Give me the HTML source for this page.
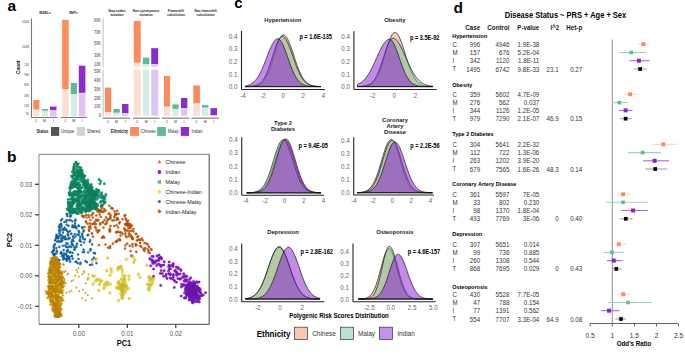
<!DOCTYPE html>
<html><head><meta charset="utf-8"><style>
html,body{margin:0;padding:0;background:#fff;width:685px;height:359px;overflow:hidden}
svg{display:block}
text{font-family:"Liberation Sans", sans-serif}
</style></head><body>
<svg width="685" height="359" viewBox="0 0 685 359" font-family='"Liberation Sans", sans-serif'><text x="7.50" y="10.78" font-size="15.5" font-weight="bold" text-anchor="start" fill="#000">a</text>
<line x1="31.50" y1="18.40" x2="31.50" y2="117.50" stroke="#777" stroke-width="1.1"/>
<line x1="31.20" y1="117.50" x2="57.50" y2="117.50" stroke="#7a7a7a" stroke-width="1"/>
<line x1="60.70" y1="117.50" x2="86.80" y2="117.50" stroke="#7a7a7a" stroke-width="1"/>
<text transform="translate(45.00 14.14) scale(0.8850 1)" font-size="3.73" font-weight="bold" text-anchor="middle" fill="#222">INDELs</text>
<text transform="translate(73.20 14.14) scale(0.8850 1)" font-size="3.73" font-weight="bold" text-anchor="middle" fill="#222">SNPs</text>
<text transform="translate(29.20 23.36) scale(0.8850 1)" font-size="3.50" font-weight="normal" text-anchor="end" fill="#333">120K</text>
<text transform="translate(29.20 48.26) scale(0.8850 1)" font-size="3.50" font-weight="normal" text-anchor="end" fill="#333">100K</text>
<text transform="translate(28.90 65.66) scale(0.8850 1)" font-size="2.94" font-weight="normal" text-anchor="end" fill="#333">12K</text>
<text transform="translate(28.90 75.96) scale(0.8850 1)" font-size="2.94" font-weight="normal" text-anchor="end" fill="#333">90K</text>
<text transform="translate(28.90 86.36) scale(0.8850 1)" font-size="2.94" font-weight="normal" text-anchor="end" fill="#333">60K</text>
<text transform="translate(28.90 96.66) scale(0.8850 1)" font-size="2.94" font-weight="normal" text-anchor="end" fill="#333">30K</text>
<text transform="translate(28.90 107.06) scale(0.8850 1)" font-size="2.94" font-weight="normal" text-anchor="end" fill="#333">10K</text>
<text transform="translate(28.90 114.76) scale(0.8850 1)" font-size="2.94" font-weight="normal" text-anchor="end" fill="#333">5K</text>
<text transform="translate(18.50 69.73) scale(0.8850 1)" font-size="5.65" font-weight="normal" text-anchor="start" fill="#000"></text>
<text x="0" y="0" font-size="4.7" font-weight="bold" text-anchor="middle" transform="translate(20.2 67.2) rotate(-90)">Count</text>
<rect x="33.30" y="100.00" width="6.10" height="9.70" fill="#FC8A5B"/>
<rect x="33.30" y="109.70" width="6.10" height="6.80" fill="#FEDDD3"/>
<rect x="41.80" y="109.00" width="6.20" height="1.80" fill="#5DBB98"/>
<rect x="41.80" y="110.80" width="6.20" height="5.70" fill="#D5EDE4"/>
<rect x="50.00" y="106.60" width="6.50" height="3.40" fill="#8A2BD0"/>
<rect x="50.00" y="110.00" width="6.50" height="6.50" fill="#DFC4F2"/>
<rect x="62.20" y="19.80" width="6.50" height="69.30" fill="#FC8A5B"/>
<rect x="62.20" y="89.10" width="6.50" height="27.40" fill="#FEDDD3"/>
<rect x="70.70" y="82.90" width="6.30" height="11.10" fill="#5DBB98"/>
<rect x="70.70" y="94.00" width="6.30" height="22.50" fill="#D5EDE4"/>
<rect x="78.80" y="65.70" width="6.60" height="27.20" fill="#8A2BD0"/>
<rect x="78.80" y="92.90" width="6.60" height="23.60" fill="#DFC4F2"/>
<text transform="translate(35.90 122.32) scale(0.8850 1)" font-size="3.95" font-weight="normal" text-anchor="middle" fill="#333">C</text>
<text transform="translate(44.40 122.32) scale(0.8850 1)" font-size="3.95" font-weight="normal" text-anchor="middle" fill="#333">M</text>
<text transform="translate(53.50 122.32) scale(0.8850 1)" font-size="3.95" font-weight="normal" text-anchor="middle" fill="#333">I</text>
<text transform="translate(65.50 122.32) scale(0.8850 1)" font-size="3.95" font-weight="normal" text-anchor="middle" fill="#333">C</text>
<text transform="translate(73.80 122.32) scale(0.8850 1)" font-size="3.95" font-weight="normal" text-anchor="middle" fill="#333">M</text>
<text transform="translate(82.10 122.32) scale(0.8850 1)" font-size="3.95" font-weight="normal" text-anchor="middle" fill="#333">I</text>
<line x1="103.10" y1="18.20" x2="103.10" y2="66.90" stroke="#cccccc" stroke-width="1.3"/>
<line x1="103.10" y1="69.50" x2="103.10" y2="116.50" stroke="#cccccc" stroke-width="1.3"/>
<line x1="102.60" y1="118.20" x2="129.90" y2="118.20" stroke="#808080" stroke-width="1.2"/>
<line x1="133.00" y1="118.20" x2="159.60" y2="118.20" stroke="#808080" stroke-width="1.2"/>
<line x1="162.00" y1="118.20" x2="189.10" y2="118.20" stroke="#808080" stroke-width="1.2"/>
<line x1="191.50" y1="118.20" x2="218.80" y2="118.20" stroke="#808080" stroke-width="1.2"/>
<text transform="translate(101.00 22.13) scale(0.8850 1)" font-size="4.52" font-weight="normal" text-anchor="end" fill="#444">90K</text>
<text transform="translate(101.00 34.23) scale(0.8850 1)" font-size="4.52" font-weight="normal" text-anchor="end" fill="#444">70K</text>
<text transform="translate(101.00 45.43) scale(0.8850 1)" font-size="4.52" font-weight="normal" text-anchor="end" fill="#444">50K</text>
<text transform="translate(101.00 56.63) scale(0.8850 1)" font-size="4.52" font-weight="normal" text-anchor="end" fill="#444">30K</text>
<text transform="translate(101.00 65.63) scale(0.8850 1)" font-size="4.52" font-weight="normal" text-anchor="end" fill="#444">10K</text>
<text transform="translate(101.00 73.03) scale(0.8850 1)" font-size="4.52" font-weight="normal" text-anchor="end" fill="#444">50K</text>
<text transform="translate(101.00 82.03) scale(0.8850 1)" font-size="4.52" font-weight="normal" text-anchor="end" fill="#444">40K</text>
<text transform="translate(101.00 91.03) scale(0.8850 1)" font-size="4.52" font-weight="normal" text-anchor="end" fill="#444">30K</text>
<text transform="translate(101.00 99.93) scale(0.8850 1)" font-size="4.52" font-weight="normal" text-anchor="end" fill="#444">20K</text>
<text transform="translate(101.00 108.43) scale(0.8850 1)" font-size="4.52" font-weight="normal" text-anchor="end" fill="#444">10K</text>
<text transform="translate(101.00 117.23) scale(0.8850 1)" font-size="4.52" font-weight="normal" text-anchor="end" fill="#444">0</text>
<text transform="translate(116.80 12.28) scale(0.8850 1)" font-size="3.56" font-weight="bold" text-anchor="middle" fill="#222">Stop codon</text>
<text transform="translate(116.80 16.28) scale(0.8850 1)" font-size="3.56" font-weight="bold" text-anchor="middle" fill="#222">mutation</text>
<text transform="translate(146.10 12.28) scale(0.8850 1)" font-size="3.56" font-weight="bold" text-anchor="middle" fill="#222">Non-synonymous</text>
<text transform="translate(146.10 16.28) scale(0.8850 1)" font-size="3.56" font-weight="bold" text-anchor="middle" fill="#222">mutation</text>
<text transform="translate(175.90 12.28) scale(0.8850 1)" font-size="3.56" font-weight="bold" text-anchor="middle" fill="#222">Frameshift</text>
<text transform="translate(175.90 16.28) scale(0.8850 1)" font-size="3.56" font-weight="bold" text-anchor="middle" fill="#222">substitution</text>
<text transform="translate(205.60 12.28) scale(0.8850 1)" font-size="3.56" font-weight="bold" text-anchor="middle" fill="#222">Non-frameshift</text>
<text transform="translate(205.60 16.28) scale(0.8850 1)" font-size="3.56" font-weight="bold" text-anchor="middle" fill="#222">substitution</text>
<rect x="105.00" y="87.60" width="6.20" height="24.40" fill="#FC8A5B"/>
<rect x="105.00" y="112.00" width="6.20" height="3.70" fill="#FEDDD3"/>
<rect x="113.30" y="108.90" width="6.50" height="3.90" fill="#5DBB98"/>
<rect x="113.30" y="112.80" width="6.50" height="2.90" fill="#D5EDE4"/>
<rect x="122.00" y="104.00" width="6.50" height="9.10" fill="#8A2BD0"/>
<rect x="122.00" y="113.10" width="6.50" height="2.60" fill="#DFC4F2"/>
<rect x="133.80" y="21.00" width="6.90" height="41.80" fill="#FC8A5B"/>
<rect x="133.80" y="62.80" width="6.90" height="3.90" fill="#FEDDD3"/>
<rect x="133.80" y="69.80" width="6.90" height="45.90" fill="#FEDDD3"/>
<rect x="142.80" y="57.70" width="6.60" height="6.30" fill="#5DBB98"/>
<rect x="142.80" y="64.00" width="6.60" height="2.70" fill="#D5EDE4"/>
<rect x="142.80" y="69.80" width="6.60" height="45.90" fill="#D5EDE4"/>
<rect x="151.20" y="48.20" width="7.00" height="15.80" fill="#8A2BD0"/>
<rect x="151.20" y="64.00" width="7.00" height="2.70" fill="#DFC4F2"/>
<rect x="151.20" y="69.80" width="7.00" height="45.90" fill="#DFC4F2"/>
<rect x="164.00" y="76.00" width="6.00" height="30.70" fill="#FC8A5B"/>
<rect x="164.00" y="106.70" width="6.00" height="9.00" fill="#FEDDD3"/>
<rect x="172.40" y="104.40" width="6.30" height="4.50" fill="#5DBB98"/>
<rect x="172.40" y="108.90" width="6.30" height="6.80" fill="#D5EDE4"/>
<rect x="181.00" y="97.90" width="6.30" height="10.20" fill="#8A2BD0"/>
<rect x="181.00" y="108.10" width="6.30" height="7.60" fill="#DFC4F2"/>
<rect x="193.30" y="85.50" width="6.60" height="18.00" fill="#FC8A5B"/>
<rect x="193.30" y="103.50" width="6.60" height="12.20" fill="#FEDDD3"/>
<rect x="202.00" y="104.90" width="6.40" height="2.90" fill="#5DBB98"/>
<rect x="202.00" y="107.80" width="6.40" height="7.90" fill="#D5EDE4"/>
<rect x="210.50" y="108.10" width="6.50" height="7.10" fill="#8A2BD0"/>
<rect x="210.50" y="115.20" width="6.50" height="0.50" fill="#DFC4F2"/>
<text transform="translate(108.10 122.92) scale(0.8850 1)" font-size="3.95" font-weight="normal" text-anchor="middle" fill="#333">C</text>
<text transform="translate(116.50 122.92) scale(0.8850 1)" font-size="3.95" font-weight="normal" text-anchor="middle" fill="#333">M</text>
<text transform="translate(125.20 122.92) scale(0.8850 1)" font-size="3.95" font-weight="normal" text-anchor="middle" fill="#333">I</text>
<text transform="translate(137.20 122.92) scale(0.8850 1)" font-size="3.95" font-weight="normal" text-anchor="middle" fill="#333">C</text>
<text transform="translate(146.10 122.92) scale(0.8850 1)" font-size="3.95" font-weight="normal" text-anchor="middle" fill="#333">M</text>
<text transform="translate(154.70 122.92) scale(0.8850 1)" font-size="3.95" font-weight="normal" text-anchor="middle" fill="#333">I</text>
<text transform="translate(167.00 122.92) scale(0.8850 1)" font-size="3.95" font-weight="normal" text-anchor="middle" fill="#333">C</text>
<text transform="translate(175.50 122.92) scale(0.8850 1)" font-size="3.95" font-weight="normal" text-anchor="middle" fill="#333">M</text>
<text transform="translate(184.10 122.92) scale(0.8850 1)" font-size="3.95" font-weight="normal" text-anchor="middle" fill="#333">I</text>
<text transform="translate(196.60 122.92) scale(0.8850 1)" font-size="3.95" font-weight="normal" text-anchor="middle" fill="#333">C</text>
<text transform="translate(205.20 122.92) scale(0.8850 1)" font-size="3.95" font-weight="normal" text-anchor="middle" fill="#333">M</text>
<text transform="translate(213.70 122.92) scale(0.8850 1)" font-size="3.95" font-weight="normal" text-anchor="middle" fill="#333">I</text>
<text transform="translate(36.40 133.23) scale(0.8850 1)" font-size="4.52" font-weight="bold" text-anchor="start" fill="#222">Status</text>
<rect x="51.00" y="127.00" width="8.20" height="8.90" fill="#555555"/>
<text transform="translate(61.00 133.29) scale(0.8850 1)" font-size="4.69" font-weight="normal" text-anchor="start" fill="#333">Unique</text>
<rect x="76.70" y="127.00" width="8.20" height="8.90" fill="#D3D3D3"/>
<text transform="translate(87.00 133.29) scale(0.8850 1)" font-size="4.69" font-weight="normal" text-anchor="start" fill="#333">Shared</text>
<text transform="translate(110.80 133.27) scale(0.8850 1)" font-size="4.63" font-weight="bold" text-anchor="start" fill="#222">Ethnicity</text>
<rect x="130.10" y="127.00" width="8.80" height="8.90" fill="#FC8A5B"/>
<text transform="translate(140.80 133.27) scale(0.8850 1)" font-size="4.63" font-weight="normal" text-anchor="start" fill="#333">Chinese</text>
<rect x="157.20" y="127.00" width="8.70" height="8.90" fill="#5DBB98"/>
<text transform="translate(167.80 133.27) scale(0.8850 1)" font-size="4.63" font-weight="normal" text-anchor="start" fill="#333">Malay</text>
<rect x="180.80" y="127.00" width="8.30" height="8.90" fill="#8A2BD0"/>
<text transform="translate(191.40 133.27) scale(0.8850 1)" font-size="4.63" font-weight="normal" text-anchor="start" fill="#333">Indian</text>
<text x="7.00" y="161.88" font-size="15.5" font-weight="bold" text-anchor="start" fill="#000">b</text>
<path d="M60.0 220.4a1.1 1.1 0 1 0 2.2 0a1.1 1.1 0 1 0 -2.2 0M69.1 216.5a1.1 1.1 0 1 0 2.2 0a1.1 1.1 0 1 0 -2.2 0M65.9 230.9a1.1 1.1 0 1 0 2.2 0a1.1 1.1 0 1 0 -2.2 0M62.8 253.5a1.1 1.1 0 1 0 2.2 0a1.1 1.1 0 1 0 -2.2 0M68.5 259.4a1.1 1.1 0 1 0 2.2 0a1.1 1.1 0 1 0 -2.2 0M67.1 232.4a1.1 1.1 0 1 0 2.2 0a1.1 1.1 0 1 0 -2.2 0M74.9 227.2a1.1 1.1 0 1 0 2.2 0a1.1 1.1 0 1 0 -2.2 0M59.5 253.0a1.1 1.1 0 1 0 2.2 0a1.1 1.1 0 1 0 -2.2 0M56.0 241.5a1.1 1.1 0 1 0 2.2 0a1.1 1.1 0 1 0 -2.2 0M68.8 231.2a1.1 1.1 0 1 0 2.2 0a1.1 1.1 0 1 0 -2.2 0M66.2 216.1a1.1 1.1 0 1 0 2.2 0a1.1 1.1 0 1 0 -2.2 0M70.0 234.0a1.1 1.1 0 1 0 2.2 0a1.1 1.1 0 1 0 -2.2 0M59.7 241.7a1.1 1.1 0 1 0 2.2 0a1.1 1.1 0 1 0 -2.2 0M63.6 227.7a1.1 1.1 0 1 0 2.2 0a1.1 1.1 0 1 0 -2.2 0M73.1 247.3a1.1 1.1 0 1 0 2.2 0a1.1 1.1 0 1 0 -2.2 0M57.7 241.1a1.1 1.1 0 1 0 2.2 0a1.1 1.1 0 1 0 -2.2 0M65.6 255.9a1.1 1.1 0 1 0 2.2 0a1.1 1.1 0 1 0 -2.2 0M71.3 227.1a1.1 1.1 0 1 0 2.2 0a1.1 1.1 0 1 0 -2.2 0M62.6 250.1a1.1 1.1 0 1 0 2.2 0a1.1 1.1 0 1 0 -2.2 0M55.2 237.0a1.1 1.1 0 1 0 2.2 0a1.1 1.1 0 1 0 -2.2 0M72.3 241.1a1.1 1.1 0 1 0 2.2 0a1.1 1.1 0 1 0 -2.2 0M75.4 228.4a1.1 1.1 0 1 0 2.2 0a1.1 1.1 0 1 0 -2.2 0M70.4 242.1a1.1 1.1 0 1 0 2.2 0a1.1 1.1 0 1 0 -2.2 0M67.1 235.4a1.1 1.1 0 1 0 2.2 0a1.1 1.1 0 1 0 -2.2 0M64.2 245.5a1.1 1.1 0 1 0 2.2 0a1.1 1.1 0 1 0 -2.2 0M52.6 247.4a1.1 1.1 0 1 0 2.2 0a1.1 1.1 0 1 0 -2.2 0M69.0 261.7a1.1 1.1 0 1 0 2.2 0a1.1 1.1 0 1 0 -2.2 0M73.9 226.9a1.1 1.1 0 1 0 2.2 0a1.1 1.1 0 1 0 -2.2 0M61.7 245.8a1.1 1.1 0 1 0 2.2 0a1.1 1.1 0 1 0 -2.2 0M52.6 250.6a1.1 1.1 0 1 0 2.2 0a1.1 1.1 0 1 0 -2.2 0M61.8 255.7a1.1 1.1 0 1 0 2.2 0a1.1 1.1 0 1 0 -2.2 0M66.3 256.3a1.1 1.1 0 1 0 2.2 0a1.1 1.1 0 1 0 -2.2 0M58.7 233.3a1.1 1.1 0 1 0 2.2 0a1.1 1.1 0 1 0 -2.2 0M60.9 256.3a1.1 1.1 0 1 0 2.2 0a1.1 1.1 0 1 0 -2.2 0M57.4 236.8a1.1 1.1 0 1 0 2.2 0a1.1 1.1 0 1 0 -2.2 0M67.4 225.9a1.1 1.1 0 1 0 2.2 0a1.1 1.1 0 1 0 -2.2 0M61.2 240.8a1.1 1.1 0 1 0 2.2 0a1.1 1.1 0 1 0 -2.2 0M65.3 243.3a1.1 1.1 0 1 0 2.2 0a1.1 1.1 0 1 0 -2.2 0M69.8 215.6a1.1 1.1 0 1 0 2.2 0a1.1 1.1 0 1 0 -2.2 0M61.9 232.5a1.1 1.1 0 1 0 2.2 0a1.1 1.1 0 1 0 -2.2 0M53.8 244.1a1.1 1.1 0 1 0 2.2 0a1.1 1.1 0 1 0 -2.2 0M68.1 220.3a1.1 1.1 0 1 0 2.2 0a1.1 1.1 0 1 0 -2.2 0M58.0 230.0a1.1 1.1 0 1 0 2.2 0a1.1 1.1 0 1 0 -2.2 0M61.1 219.0a1.1 1.1 0 1 0 2.2 0a1.1 1.1 0 1 0 -2.2 0M63.9 236.7a1.1 1.1 0 1 0 2.2 0a1.1 1.1 0 1 0 -2.2 0M60.5 226.0a1.1 1.1 0 1 0 2.2 0a1.1 1.1 0 1 0 -2.2 0M74.1 220.9a1.1 1.1 0 1 0 2.2 0a1.1 1.1 0 1 0 -2.2 0M65.7 220.2a1.1 1.1 0 1 0 2.2 0a1.1 1.1 0 1 0 -2.2 0M66.1 214.3a1.1 1.1 0 1 0 2.2 0a1.1 1.1 0 1 0 -2.2 0M65.7 260.9a1.1 1.1 0 1 0 2.2 0a1.1 1.1 0 1 0 -2.2 0M75.1 247.1a1.1 1.1 0 1 0 2.2 0a1.1 1.1 0 1 0 -2.2 0M58.2 231.0a1.1 1.1 0 1 0 2.2 0a1.1 1.1 0 1 0 -2.2 0M55.6 250.8a1.1 1.1 0 1 0 2.2 0a1.1 1.1 0 1 0 -2.2 0M65.8 251.2a1.1 1.1 0 1 0 2.2 0a1.1 1.1 0 1 0 -2.2 0M60.1 223.9a1.1 1.1 0 1 0 2.2 0a1.1 1.1 0 1 0 -2.2 0M73.8 249.3a1.1 1.1 0 1 0 2.2 0a1.1 1.1 0 1 0 -2.2 0M57.2 238.4a1.1 1.1 0 1 0 2.2 0a1.1 1.1 0 1 0 -2.2 0M58.2 246.9a1.1 1.1 0 1 0 2.2 0a1.1 1.1 0 1 0 -2.2 0M77.7 234.9a1.1 1.1 0 1 0 2.2 0a1.1 1.1 0 1 0 -2.2 0M77.6 230.9a1.1 1.1 0 1 0 2.2 0a1.1 1.1 0 1 0 -2.2 0M68.4 257.1a1.1 1.1 0 1 0 2.2 0a1.1 1.1 0 1 0 -2.2 0M74.4 236.5a1.1 1.1 0 1 0 2.2 0a1.1 1.1 0 1 0 -2.2 0M69.2 252.2a1.1 1.1 0 1 0 2.2 0a1.1 1.1 0 1 0 -2.2 0M53.3 245.4a1.1 1.1 0 1 0 2.2 0a1.1 1.1 0 1 0 -2.2 0M71.9 236.4a1.1 1.1 0 1 0 2.2 0a1.1 1.1 0 1 0 -2.2 0M55.9 251.7a1.1 1.1 0 1 0 2.2 0a1.1 1.1 0 1 0 -2.2 0M60.2 252.2a1.1 1.1 0 1 0 2.2 0a1.1 1.1 0 1 0 -2.2 0M78.1 232.4a1.1 1.1 0 1 0 2.2 0a1.1 1.1 0 1 0 -2.2 0M62.1 259.4a1.1 1.1 0 1 0 2.2 0a1.1 1.1 0 1 0 -2.2 0M71.2 221.3a1.1 1.1 0 1 0 2.2 0a1.1 1.1 0 1 0 -2.2 0M55.0 253.5a1.1 1.1 0 1 0 2.2 0a1.1 1.1 0 1 0 -2.2 0M60.7 239.9a1.1 1.1 0 1 0 2.2 0a1.1 1.1 0 1 0 -2.2 0M65.6 258.7a1.1 1.1 0 1 0 2.2 0a1.1 1.1 0 1 0 -2.2 0M63.0 255.7a1.1 1.1 0 1 0 2.2 0a1.1 1.1 0 1 0 -2.2 0M74.0 223.3a1.1 1.1 0 1 0 2.2 0a1.1 1.1 0 1 0 -2.2 0M58.0 227.4a1.1 1.1 0 1 0 2.2 0a1.1 1.1 0 1 0 -2.2 0M57.6 241.7a1.1 1.1 0 1 0 2.2 0a1.1 1.1 0 1 0 -2.2 0M58.2 233.5a1.1 1.1 0 1 0 2.2 0a1.1 1.1 0 1 0 -2.2 0M54.6 257.6a1.1 1.1 0 1 0 2.2 0a1.1 1.1 0 1 0 -2.2 0M60.8 235.4a1.1 1.1 0 1 0 2.2 0a1.1 1.1 0 1 0 -2.2 0M67.2 257.3a1.1 1.1 0 1 0 2.2 0a1.1 1.1 0 1 0 -2.2 0M62.7 258.0a1.1 1.1 0 1 0 2.2 0a1.1 1.1 0 1 0 -2.2 0M64.9 239.1a1.1 1.1 0 1 0 2.2 0a1.1 1.1 0 1 0 -2.2 0M65.6 213.9a1.1 1.1 0 1 0 2.2 0a1.1 1.1 0 1 0 -2.2 0M63.2 222.0a1.1 1.1 0 1 0 2.2 0a1.1 1.1 0 1 0 -2.2 0M51.0 252.2a1.1 1.1 0 1 0 2.2 0a1.1 1.1 0 1 0 -2.2 0M55.7 236.2a1.1 1.1 0 1 0 2.2 0a1.1 1.1 0 1 0 -2.2 0M71.2 240.3a1.1 1.1 0 1 0 2.2 0a1.1 1.1 0 1 0 -2.2 0M60.0 238.4a1.1 1.1 0 1 0 2.2 0a1.1 1.1 0 1 0 -2.2 0M66.5 251.4a1.1 1.1 0 1 0 2.2 0a1.1 1.1 0 1 0 -2.2 0M53.9 240.5a1.1 1.1 0 1 0 2.2 0a1.1 1.1 0 1 0 -2.2 0M57.9 226.6a1.1 1.1 0 1 0 2.2 0a1.1 1.1 0 1 0 -2.2 0M72.5 237.9a1.1 1.1 0 1 0 2.2 0a1.1 1.1 0 1 0 -2.2 0M66.6 250.2a1.1 1.1 0 1 0 2.2 0a1.1 1.1 0 1 0 -2.2 0M76.4 234.7a1.1 1.1 0 1 0 2.2 0a1.1 1.1 0 1 0 -2.2 0M68.1 237.8a1.1 1.1 0 1 0 2.2 0a1.1 1.1 0 1 0 -2.2 0M65.2 246.9a1.1 1.1 0 1 0 2.2 0a1.1 1.1 0 1 0 -2.2 0M63.6 239.1a1.1 1.1 0 1 0 2.2 0a1.1 1.1 0 1 0 -2.2 0M64.3 259.1a1.1 1.1 0 1 0 2.2 0a1.1 1.1 0 1 0 -2.2 0M70.5 256.0a1.1 1.1 0 1 0 2.2 0a1.1 1.1 0 1 0 -2.2 0M77.3 225.7a1.1 1.1 0 1 0 2.2 0a1.1 1.1 0 1 0 -2.2 0M66.6 259.2a1.1 1.1 0 1 0 2.2 0a1.1 1.1 0 1 0 -2.2 0M74.4 219.7a1.1 1.1 0 1 0 2.2 0a1.1 1.1 0 1 0 -2.2 0M52.9 245.8a1.1 1.1 0 1 0 2.2 0a1.1 1.1 0 1 0 -2.2 0M55.2 248.1a1.1 1.1 0 1 0 2.2 0a1.1 1.1 0 1 0 -2.2 0M69.4 220.0a1.1 1.1 0 1 0 2.2 0a1.1 1.1 0 1 0 -2.2 0M57.0 259.7a1.1 1.1 0 1 0 2.2 0a1.1 1.1 0 1 0 -2.2 0M62.1 236.9a1.1 1.1 0 1 0 2.2 0a1.1 1.1 0 1 0 -2.2 0M65.3 229.6a1.1 1.1 0 1 0 2.2 0a1.1 1.1 0 1 0 -2.2 0M66.4 234.6a1.1 1.1 0 1 0 2.2 0a1.1 1.1 0 1 0 -2.2 0M68.4 238.1a1.1 1.1 0 1 0 2.2 0a1.1 1.1 0 1 0 -2.2 0M52.0 251.2a1.1 1.1 0 1 0 2.2 0a1.1 1.1 0 1 0 -2.2 0M62.7 257.7a1.1 1.1 0 1 0 2.2 0a1.1 1.1 0 1 0 -2.2 0M73.8 225.7a1.1 1.1 0 1 0 2.2 0a1.1 1.1 0 1 0 -2.2 0M55.1 258.0a1.1 1.1 0 1 0 2.2 0a1.1 1.1 0 1 0 -2.2 0M66.9 247.3a1.1 1.1 0 1 0 2.2 0a1.1 1.1 0 1 0 -2.2 0M70.2 233.8a1.1 1.1 0 1 0 2.2 0a1.1 1.1 0 1 0 -2.2 0M68.7 252.3a1.1 1.1 0 1 0 2.2 0a1.1 1.1 0 1 0 -2.2 0M53.2 255.0a1.1 1.1 0 1 0 2.2 0a1.1 1.1 0 1 0 -2.2 0M52.8 255.3a1.1 1.1 0 1 0 2.2 0a1.1 1.1 0 1 0 -2.2 0M63.6 229.6a1.1 1.1 0 1 0 2.2 0a1.1 1.1 0 1 0 -2.2 0M66.4 258.4a1.1 1.1 0 1 0 2.2 0a1.1 1.1 0 1 0 -2.2 0M65.7 224.7a1.1 1.1 0 1 0 2.2 0a1.1 1.1 0 1 0 -2.2 0M59.6 227.9a1.1 1.1 0 1 0 2.2 0a1.1 1.1 0 1 0 -2.2 0M72.2 227.2a1.1 1.1 0 1 0 2.2 0a1.1 1.1 0 1 0 -2.2 0M64.9 221.7a1.1 1.1 0 1 0 2.2 0a1.1 1.1 0 1 0 -2.2 0M71.4 240.0a1.1 1.1 0 1 0 2.2 0a1.1 1.1 0 1 0 -2.2 0M56.2 236.3a1.1 1.1 0 1 0 2.2 0a1.1 1.1 0 1 0 -2.2 0M73.8 234.2a1.1 1.1 0 1 0 2.2 0a1.1 1.1 0 1 0 -2.2 0M64.8 253.9a1.1 1.1 0 1 0 2.2 0a1.1 1.1 0 1 0 -2.2 0M61.9 237.8a1.1 1.1 0 1 0 2.2 0a1.1 1.1 0 1 0 -2.2 0M60.5 253.8a1.1 1.1 0 1 0 2.2 0a1.1 1.1 0 1 0 -2.2 0M70.7 244.2a1.1 1.1 0 1 0 2.2 0a1.1 1.1 0 1 0 -2.2 0M62.2 230.0a1.1 1.1 0 1 0 2.2 0a1.1 1.1 0 1 0 -2.2 0M52.9 249.3a1.1 1.1 0 1 0 2.2 0a1.1 1.1 0 1 0 -2.2 0M53.3 254.2a1.1 1.1 0 1 0 2.2 0a1.1 1.1 0 1 0 -2.2 0M75.3 245.9a1.1 1.1 0 1 0 2.2 0a1.1 1.1 0 1 0 -2.2 0M58.8 224.9a1.1 1.1 0 1 0 2.2 0a1.1 1.1 0 1 0 -2.2 0M59.1 235.5a1.1 1.1 0 1 0 2.2 0a1.1 1.1 0 1 0 -2.2 0M55.3 234.8a1.1 1.1 0 1 0 2.2 0a1.1 1.1 0 1 0 -2.2 0M58.3 260.1a1.1 1.1 0 1 0 2.2 0a1.1 1.1 0 1 0 -2.2 0M57.7 260.3a1.1 1.1 0 1 0 2.2 0a1.1 1.1 0 1 0 -2.2 0M59.6 230.5a1.1 1.1 0 1 0 2.2 0a1.1 1.1 0 1 0 -2.2 0M64.2 237.6a1.1 1.1 0 1 0 2.2 0a1.1 1.1 0 1 0 -2.2 0M56.5 237.7a1.1 1.1 0 1 0 2.2 0a1.1 1.1 0 1 0 -2.2 0M59.4 224.4a1.1 1.1 0 1 0 2.2 0a1.1 1.1 0 1 0 -2.2 0M67.3 238.9a1.1 1.1 0 1 0 2.2 0a1.1 1.1 0 1 0 -2.2 0M71.9 245.2a1.1 1.1 0 1 0 2.2 0a1.1 1.1 0 1 0 -2.2 0M70.9 256.1a1.1 1.1 0 1 0 2.2 0a1.1 1.1 0 1 0 -2.2 0M61.8 229.0a1.1 1.1 0 1 0 2.2 0a1.1 1.1 0 1 0 -2.2 0M71.2 244.5a1.1 1.1 0 1 0 2.2 0a1.1 1.1 0 1 0 -2.2 0M52.1 253.9a1.1 1.1 0 1 0 2.2 0a1.1 1.1 0 1 0 -2.2 0M75.9 243.7a1.1 1.1 0 1 0 2.2 0a1.1 1.1 0 1 0 -2.2 0M71.4 252.8a1.1 1.1 0 1 0 2.2 0a1.1 1.1 0 1 0 -2.2 0M54.8 238.7a1.1 1.1 0 1 0 2.2 0a1.1 1.1 0 1 0 -2.2 0M65.0 253.9a1.1 1.1 0 1 0 2.2 0a1.1 1.1 0 1 0 -2.2 0M67.3 256.7a1.1 1.1 0 1 0 2.2 0a1.1 1.1 0 1 0 -2.2 0M70.0 247.0a1.1 1.1 0 1 0 2.2 0a1.1 1.1 0 1 0 -2.2 0M53.8 254.0a1.1 1.1 0 1 0 2.2 0a1.1 1.1 0 1 0 -2.2 0M66.5 243.8a1.1 1.1 0 1 0 2.2 0a1.1 1.1 0 1 0 -2.2 0M68.4 246.4a1.1 1.1 0 1 0 2.2 0a1.1 1.1 0 1 0 -2.2 0M73.2 249.7a1.1 1.1 0 1 0 2.2 0a1.1 1.1 0 1 0 -2.2 0M65.0 239.2a1.1 1.1 0 1 0 2.2 0a1.1 1.1 0 1 0 -2.2 0M69.4 216.2a1.1 1.1 0 1 0 2.2 0a1.1 1.1 0 1 0 -2.2 0M71.5 225.4a1.1 1.1 0 1 0 2.2 0a1.1 1.1 0 1 0 -2.2 0M88.9 264.9a1.1 1.1 0 1 0 2.2 0a1.1 1.1 0 1 0 -2.2 0M82.2 238.8a1.1 1.1 0 1 0 2.2 0a1.1 1.1 0 1 0 -2.2 0M81.8 252.1a1.1 1.1 0 1 0 2.2 0a1.1 1.1 0 1 0 -2.2 0M89.6 249.1a1.1 1.1 0 1 0 2.2 0a1.1 1.1 0 1 0 -2.2 0M87.0 252.5a1.1 1.1 0 1 0 2.2 0a1.1 1.1 0 1 0 -2.2 0M87.1 234.8a1.1 1.1 0 1 0 2.2 0a1.1 1.1 0 1 0 -2.2 0M82.8 242.4a1.1 1.1 0 1 0 2.2 0a1.1 1.1 0 1 0 -2.2 0M81.5 227.2a1.1 1.1 0 1 0 2.2 0a1.1 1.1 0 1 0 -2.2 0M95.3 263.2a1.1 1.1 0 1 0 2.2 0a1.1 1.1 0 1 0 -2.2 0M91.0 264.6a1.1 1.1 0 1 0 2.2 0a1.1 1.1 0 1 0 -2.2 0M81.0 233.8a1.1 1.1 0 1 0 2.2 0a1.1 1.1 0 1 0 -2.2 0M91.0 244.4a1.1 1.1 0 1 0 2.2 0a1.1 1.1 0 1 0 -2.2 0M92.8 252.9a1.1 1.1 0 1 0 2.2 0a1.1 1.1 0 1 0 -2.2 0M75.1 261.5a1.1 1.1 0 1 0 2.2 0a1.1 1.1 0 1 0 -2.2 0M81.1 235.3a1.1 1.1 0 1 0 2.2 0a1.1 1.1 0 1 0 -2.2 0M77.4 259.0a1.1 1.1 0 1 0 2.2 0a1.1 1.1 0 1 0 -2.2 0M93.9 253.4a1.1 1.1 0 1 0 2.2 0a1.1 1.1 0 1 0 -2.2 0M78.9 239.3a1.1 1.1 0 1 0 2.2 0a1.1 1.1 0 1 0 -2.2 0M78.6 240.8a1.1 1.1 0 1 0 2.2 0a1.1 1.1 0 1 0 -2.2 0M71.6 258.7a1.1 1.1 0 1 0 2.2 0a1.1 1.1 0 1 0 -2.2 0M76.6 263.2a1.1 1.1 0 1 0 2.2 0a1.1 1.1 0 1 0 -2.2 0M82.7 230.4a1.1 1.1 0 1 0 2.2 0a1.1 1.1 0 1 0 -2.2 0M79.0 264.1a1.1 1.1 0 1 0 2.2 0a1.1 1.1 0 1 0 -2.2 0M92.8 257.7a1.1 1.1 0 1 0 2.2 0a1.1 1.1 0 1 0 -2.2 0M85.9 262.2a1.1 1.1 0 1 0 2.2 0a1.1 1.1 0 1 0 -2.2 0M88.7 241.8a1.1 1.1 0 1 0 2.2 0a1.1 1.1 0 1 0 -2.2 0M89.2 250.4a1.1 1.1 0 1 0 2.2 0a1.1 1.1 0 1 0 -2.2 0M81.6 237.1a1.1 1.1 0 1 0 2.2 0a1.1 1.1 0 1 0 -2.2 0M76.9 254.5a1.1 1.1 0 1 0 2.2 0a1.1 1.1 0 1 0 -2.2 0M86.6 235.2a1.1 1.1 0 1 0 2.2 0a1.1 1.1 0 1 0 -2.2 0M83.9 239.4a1.1 1.1 0 1 0 2.2 0a1.1 1.1 0 1 0 -2.2 0M74.5 261.9a1.1 1.1 0 1 0 2.2 0a1.1 1.1 0 1 0 -2.2 0M82.3 231.7a1.1 1.1 0 1 0 2.2 0a1.1 1.1 0 1 0 -2.2 0M81.0 228.1a1.1 1.1 0 1 0 2.2 0a1.1 1.1 0 1 0 -2.2 0M78.1 226.0a1.1 1.1 0 1 0 2.2 0a1.1 1.1 0 1 0 -2.2 0M84.3 261.0a1.1 1.1 0 1 0 2.2 0a1.1 1.1 0 1 0 -2.2 0M89.1 240.2a1.1 1.1 0 1 0 2.2 0a1.1 1.1 0 1 0 -2.2 0M80.1 245.1a1.1 1.1 0 1 0 2.2 0a1.1 1.1 0 1 0 -2.2 0M79.1 236.9a1.1 1.1 0 1 0 2.2 0a1.1 1.1 0 1 0 -2.2 0M82.5 249.7a1.1 1.1 0 1 0 2.2 0a1.1 1.1 0 1 0 -2.2 0M79.7 241.6a1.1 1.1 0 1 0 2.2 0a1.1 1.1 0 1 0 -2.2 0M94.7 259.3a1.1 1.1 0 1 0 2.2 0a1.1 1.1 0 1 0 -2.2 0M79.5 262.8a1.1 1.1 0 1 0 2.2 0a1.1 1.1 0 1 0 -2.2 0M91.2 259.6a1.1 1.1 0 1 0 2.2 0a1.1 1.1 0 1 0 -2.2 0M83.0 252.0a1.1 1.1 0 1 0 2.2 0a1.1 1.1 0 1 0 -2.2 0" fill="#1872B2" stroke="#0d568a" stroke-width="0.3"/>
<path d="M93.1 199.5a1.25 1.25 0 1 0 2.5 0a1.25 1.25 0 1 0 -2.5 0M84.5 201.8a1.25 1.25 0 1 0 2.5 0a1.25 1.25 0 1 0 -2.5 0M79.0 190.7a1.25 1.25 0 1 0 2.5 0a1.25 1.25 0 1 0 -2.5 0M66.9 202.7a1.25 1.25 0 1 0 2.5 0a1.25 1.25 0 1 0 -2.5 0M72.5 209.8a1.25 1.25 0 1 0 2.5 0a1.25 1.25 0 1 0 -2.5 0M84.2 198.3a1.25 1.25 0 1 0 2.5 0a1.25 1.25 0 1 0 -2.5 0M81.0 192.3a1.25 1.25 0 1 0 2.5 0a1.25 1.25 0 1 0 -2.5 0M77.0 173.6a1.25 1.25 0 1 0 2.5 0a1.25 1.25 0 1 0 -2.5 0M74.5 186.0a1.25 1.25 0 1 0 2.5 0a1.25 1.25 0 1 0 -2.5 0M72.6 174.8a1.25 1.25 0 1 0 2.5 0a1.25 1.25 0 1 0 -2.5 0M93.6 198.6a1.25 1.25 0 1 0 2.5 0a1.25 1.25 0 1 0 -2.5 0M74.7 163.1a1.25 1.25 0 1 0 2.5 0a1.25 1.25 0 1 0 -2.5 0M80.2 197.1a1.25 1.25 0 1 0 2.5 0a1.25 1.25 0 1 0 -2.5 0M77.9 175.4a1.25 1.25 0 1 0 2.5 0a1.25 1.25 0 1 0 -2.5 0M85.1 210.1a1.25 1.25 0 1 0 2.5 0a1.25 1.25 0 1 0 -2.5 0M75.6 183.9a1.25 1.25 0 1 0 2.5 0a1.25 1.25 0 1 0 -2.5 0M88.9 200.4a1.25 1.25 0 1 0 2.5 0a1.25 1.25 0 1 0 -2.5 0M80.4 172.7a1.25 1.25 0 1 0 2.5 0a1.25 1.25 0 1 0 -2.5 0M72.2 201.5a1.25 1.25 0 1 0 2.5 0a1.25 1.25 0 1 0 -2.5 0M74.3 211.5a1.25 1.25 0 1 0 2.5 0a1.25 1.25 0 1 0 -2.5 0M80.1 171.7a1.25 1.25 0 1 0 2.5 0a1.25 1.25 0 1 0 -2.5 0M72.2 183.7a1.25 1.25 0 1 0 2.5 0a1.25 1.25 0 1 0 -2.5 0M85.0 211.3a1.25 1.25 0 1 0 2.5 0a1.25 1.25 0 1 0 -2.5 0M70.0 182.5a1.25 1.25 0 1 0 2.5 0a1.25 1.25 0 1 0 -2.5 0M71.9 212.7a1.25 1.25 0 1 0 2.5 0a1.25 1.25 0 1 0 -2.5 0M91.8 207.9a1.25 1.25 0 1 0 2.5 0a1.25 1.25 0 1 0 -2.5 0M71.1 210.7a1.25 1.25 0 1 0 2.5 0a1.25 1.25 0 1 0 -2.5 0M76.6 179.2a1.25 1.25 0 1 0 2.5 0a1.25 1.25 0 1 0 -2.5 0M73.9 180.3a1.25 1.25 0 1 0 2.5 0a1.25 1.25 0 1 0 -2.5 0M76.1 204.7a1.25 1.25 0 1 0 2.5 0a1.25 1.25 0 1 0 -2.5 0M76.6 209.8a1.25 1.25 0 1 0 2.5 0a1.25 1.25 0 1 0 -2.5 0M71.3 180.9a1.25 1.25 0 1 0 2.5 0a1.25 1.25 0 1 0 -2.5 0M77.7 204.2a1.25 1.25 0 1 0 2.5 0a1.25 1.25 0 1 0 -2.5 0M87.4 208.7a1.25 1.25 0 1 0 2.5 0a1.25 1.25 0 1 0 -2.5 0M75.6 176.2a1.25 1.25 0 1 0 2.5 0a1.25 1.25 0 1 0 -2.5 0M73.4 199.3a1.25 1.25 0 1 0 2.5 0a1.25 1.25 0 1 0 -2.5 0M74.9 176.3a1.25 1.25 0 1 0 2.5 0a1.25 1.25 0 1 0 -2.5 0M92.3 195.0a1.25 1.25 0 1 0 2.5 0a1.25 1.25 0 1 0 -2.5 0M72.5 186.7a1.25 1.25 0 1 0 2.5 0a1.25 1.25 0 1 0 -2.5 0M77.0 175.1a1.25 1.25 0 1 0 2.5 0a1.25 1.25 0 1 0 -2.5 0M78.2 187.7a1.25 1.25 0 1 0 2.5 0a1.25 1.25 0 1 0 -2.5 0M89.0 200.4a1.25 1.25 0 1 0 2.5 0a1.25 1.25 0 1 0 -2.5 0M89.6 202.2a1.25 1.25 0 1 0 2.5 0a1.25 1.25 0 1 0 -2.5 0M75.0 180.8a1.25 1.25 0 1 0 2.5 0a1.25 1.25 0 1 0 -2.5 0M71.5 201.2a1.25 1.25 0 1 0 2.5 0a1.25 1.25 0 1 0 -2.5 0M72.9 165.4a1.25 1.25 0 1 0 2.5 0a1.25 1.25 0 1 0 -2.5 0M75.2 213.0a1.25 1.25 0 1 0 2.5 0a1.25 1.25 0 1 0 -2.5 0M73.4 166.4a1.25 1.25 0 1 0 2.5 0a1.25 1.25 0 1 0 -2.5 0M68.5 187.9a1.25 1.25 0 1 0 2.5 0a1.25 1.25 0 1 0 -2.5 0M86.3 185.2a1.25 1.25 0 1 0 2.5 0a1.25 1.25 0 1 0 -2.5 0M72.5 183.7a1.25 1.25 0 1 0 2.5 0a1.25 1.25 0 1 0 -2.5 0M83.7 197.1a1.25 1.25 0 1 0 2.5 0a1.25 1.25 0 1 0 -2.5 0M87.4 206.0a1.25 1.25 0 1 0 2.5 0a1.25 1.25 0 1 0 -2.5 0M82.2 181.4a1.25 1.25 0 1 0 2.5 0a1.25 1.25 0 1 0 -2.5 0M72.9 174.8a1.25 1.25 0 1 0 2.5 0a1.25 1.25 0 1 0 -2.5 0M70.2 208.0a1.25 1.25 0 1 0 2.5 0a1.25 1.25 0 1 0 -2.5 0M82.5 179.0a1.25 1.25 0 1 0 2.5 0a1.25 1.25 0 1 0 -2.5 0M77.2 213.6a1.25 1.25 0 1 0 2.5 0a1.25 1.25 0 1 0 -2.5 0M80.5 174.0a1.25 1.25 0 1 0 2.5 0a1.25 1.25 0 1 0 -2.5 0M89.2 196.0a1.25 1.25 0 1 0 2.5 0a1.25 1.25 0 1 0 -2.5 0M79.5 204.6a1.25 1.25 0 1 0 2.5 0a1.25 1.25 0 1 0 -2.5 0M90.1 209.5a1.25 1.25 0 1 0 2.5 0a1.25 1.25 0 1 0 -2.5 0M73.3 202.4a1.25 1.25 0 1 0 2.5 0a1.25 1.25 0 1 0 -2.5 0M83.0 194.2a1.25 1.25 0 1 0 2.5 0a1.25 1.25 0 1 0 -2.5 0M72.1 181.2a1.25 1.25 0 1 0 2.5 0a1.25 1.25 0 1 0 -2.5 0M73.1 193.2a1.25 1.25 0 1 0 2.5 0a1.25 1.25 0 1 0 -2.5 0M74.8 172.6a1.25 1.25 0 1 0 2.5 0a1.25 1.25 0 1 0 -2.5 0M88.8 190.5a1.25 1.25 0 1 0 2.5 0a1.25 1.25 0 1 0 -2.5 0M77.2 190.6a1.25 1.25 0 1 0 2.5 0a1.25 1.25 0 1 0 -2.5 0M70.5 198.2a1.25 1.25 0 1 0 2.5 0a1.25 1.25 0 1 0 -2.5 0M77.6 176.7a1.25 1.25 0 1 0 2.5 0a1.25 1.25 0 1 0 -2.5 0M74.7 211.6a1.25 1.25 0 1 0 2.5 0a1.25 1.25 0 1 0 -2.5 0M74.8 191.5a1.25 1.25 0 1 0 2.5 0a1.25 1.25 0 1 0 -2.5 0M76.1 183.7a1.25 1.25 0 1 0 2.5 0a1.25 1.25 0 1 0 -2.5 0M76.3 172.3a1.25 1.25 0 1 0 2.5 0a1.25 1.25 0 1 0 -2.5 0M65.9 208.9a1.25 1.25 0 1 0 2.5 0a1.25 1.25 0 1 0 -2.5 0M78.0 204.7a1.25 1.25 0 1 0 2.5 0a1.25 1.25 0 1 0 -2.5 0M77.5 207.9a1.25 1.25 0 1 0 2.5 0a1.25 1.25 0 1 0 -2.5 0M79.1 170.5a1.25 1.25 0 1 0 2.5 0a1.25 1.25 0 1 0 -2.5 0M84.3 209.3a1.25 1.25 0 1 0 2.5 0a1.25 1.25 0 1 0 -2.5 0M68.3 194.4a1.25 1.25 0 1 0 2.5 0a1.25 1.25 0 1 0 -2.5 0M76.5 188.2a1.25 1.25 0 1 0 2.5 0a1.25 1.25 0 1 0 -2.5 0M80.9 210.1a1.25 1.25 0 1 0 2.5 0a1.25 1.25 0 1 0 -2.5 0M68.9 187.5a1.25 1.25 0 1 0 2.5 0a1.25 1.25 0 1 0 -2.5 0M92.0 194.3a1.25 1.25 0 1 0 2.5 0a1.25 1.25 0 1 0 -2.5 0M77.5 206.0a1.25 1.25 0 1 0 2.5 0a1.25 1.25 0 1 0 -2.5 0M72.1 182.8a1.25 1.25 0 1 0 2.5 0a1.25 1.25 0 1 0 -2.5 0M80.8 181.9a1.25 1.25 0 1 0 2.5 0a1.25 1.25 0 1 0 -2.5 0M86.8 208.7a1.25 1.25 0 1 0 2.5 0a1.25 1.25 0 1 0 -2.5 0M83.1 190.6a1.25 1.25 0 1 0 2.5 0a1.25 1.25 0 1 0 -2.5 0M77.9 192.3a1.25 1.25 0 1 0 2.5 0a1.25 1.25 0 1 0 -2.5 0M78.1 196.3a1.25 1.25 0 1 0 2.5 0a1.25 1.25 0 1 0 -2.5 0M78.7 184.8a1.25 1.25 0 1 0 2.5 0a1.25 1.25 0 1 0 -2.5 0M79.9 174.2a1.25 1.25 0 1 0 2.5 0a1.25 1.25 0 1 0 -2.5 0M87.9 202.6a1.25 1.25 0 1 0 2.5 0a1.25 1.25 0 1 0 -2.5 0M79.0 171.3a1.25 1.25 0 1 0 2.5 0a1.25 1.25 0 1 0 -2.5 0M79.5 167.6a1.25 1.25 0 1 0 2.5 0a1.25 1.25 0 1 0 -2.5 0M69.5 184.4a1.25 1.25 0 1 0 2.5 0a1.25 1.25 0 1 0 -2.5 0M87.0 202.4a1.25 1.25 0 1 0 2.5 0a1.25 1.25 0 1 0 -2.5 0M80.4 181.6a1.25 1.25 0 1 0 2.5 0a1.25 1.25 0 1 0 -2.5 0M87.0 204.4a1.25 1.25 0 1 0 2.5 0a1.25 1.25 0 1 0 -2.5 0M71.4 213.0a1.25 1.25 0 1 0 2.5 0a1.25 1.25 0 1 0 -2.5 0M80.0 211.7a1.25 1.25 0 1 0 2.5 0a1.25 1.25 0 1 0 -2.5 0M88.6 210.4a1.25 1.25 0 1 0 2.5 0a1.25 1.25 0 1 0 -2.5 0M80.3 209.8a1.25 1.25 0 1 0 2.5 0a1.25 1.25 0 1 0 -2.5 0M71.8 175.7a1.25 1.25 0 1 0 2.5 0a1.25 1.25 0 1 0 -2.5 0M80.4 178.6a1.25 1.25 0 1 0 2.5 0a1.25 1.25 0 1 0 -2.5 0M70.4 210.7a1.25 1.25 0 1 0 2.5 0a1.25 1.25 0 1 0 -2.5 0M85.5 208.6a1.25 1.25 0 1 0 2.5 0a1.25 1.25 0 1 0 -2.5 0M70.6 202.8a1.25 1.25 0 1 0 2.5 0a1.25 1.25 0 1 0 -2.5 0M69.1 189.6a1.25 1.25 0 1 0 2.5 0a1.25 1.25 0 1 0 -2.5 0M91.1 190.9a1.25 1.25 0 1 0 2.5 0a1.25 1.25 0 1 0 -2.5 0M82.6 207.9a1.25 1.25 0 1 0 2.5 0a1.25 1.25 0 1 0 -2.5 0M68.8 213.6a1.25 1.25 0 1 0 2.5 0a1.25 1.25 0 1 0 -2.5 0M84.0 182.5a1.25 1.25 0 1 0 2.5 0a1.25 1.25 0 1 0 -2.5 0M76.2 201.8a1.25 1.25 0 1 0 2.5 0a1.25 1.25 0 1 0 -2.5 0M78.6 171.2a1.25 1.25 0 1 0 2.5 0a1.25 1.25 0 1 0 -2.5 0M82.7 196.5a1.25 1.25 0 1 0 2.5 0a1.25 1.25 0 1 0 -2.5 0M74.8 162.1a1.25 1.25 0 1 0 2.5 0a1.25 1.25 0 1 0 -2.5 0M83.6 184.5a1.25 1.25 0 1 0 2.5 0a1.25 1.25 0 1 0 -2.5 0M80.6 208.6a1.25 1.25 0 1 0 2.5 0a1.25 1.25 0 1 0 -2.5 0M72.3 192.3a1.25 1.25 0 1 0 2.5 0a1.25 1.25 0 1 0 -2.5 0M83.8 186.7a1.25 1.25 0 1 0 2.5 0a1.25 1.25 0 1 0 -2.5 0M69.7 210.7a1.25 1.25 0 1 0 2.5 0a1.25 1.25 0 1 0 -2.5 0M72.8 169.8a1.25 1.25 0 1 0 2.5 0a1.25 1.25 0 1 0 -2.5 0M68.5 195.2a1.25 1.25 0 1 0 2.5 0a1.25 1.25 0 1 0 -2.5 0M91.0 202.7a1.25 1.25 0 1 0 2.5 0a1.25 1.25 0 1 0 -2.5 0M77.4 175.7a1.25 1.25 0 1 0 2.5 0a1.25 1.25 0 1 0 -2.5 0M82.1 180.2a1.25 1.25 0 1 0 2.5 0a1.25 1.25 0 1 0 -2.5 0M84.5 185.1a1.25 1.25 0 1 0 2.5 0a1.25 1.25 0 1 0 -2.5 0M92.9 200.1a1.25 1.25 0 1 0 2.5 0a1.25 1.25 0 1 0 -2.5 0M73.0 209.0a1.25 1.25 0 1 0 2.5 0a1.25 1.25 0 1 0 -2.5 0M77.5 174.4a1.25 1.25 0 1 0 2.5 0a1.25 1.25 0 1 0 -2.5 0M67.4 202.5a1.25 1.25 0 1 0 2.5 0a1.25 1.25 0 1 0 -2.5 0M71.5 193.6a1.25 1.25 0 1 0 2.5 0a1.25 1.25 0 1 0 -2.5 0M80.5 195.4a1.25 1.25 0 1 0 2.5 0a1.25 1.25 0 1 0 -2.5 0M74.7 177.6a1.25 1.25 0 1 0 2.5 0a1.25 1.25 0 1 0 -2.5 0M67.2 208.2a1.25 1.25 0 1 0 2.5 0a1.25 1.25 0 1 0 -2.5 0M88.5 199.2a1.25 1.25 0 1 0 2.5 0a1.25 1.25 0 1 0 -2.5 0M72.3 167.5a1.25 1.25 0 1 0 2.5 0a1.25 1.25 0 1 0 -2.5 0M75.5 201.0a1.25 1.25 0 1 0 2.5 0a1.25 1.25 0 1 0 -2.5 0M85.9 206.0a1.25 1.25 0 1 0 2.5 0a1.25 1.25 0 1 0 -2.5 0M81.8 184.7a1.25 1.25 0 1 0 2.5 0a1.25 1.25 0 1 0 -2.5 0M88.6 189.2a1.25 1.25 0 1 0 2.5 0a1.25 1.25 0 1 0 -2.5 0M73.4 195.4a1.25 1.25 0 1 0 2.5 0a1.25 1.25 0 1 0 -2.5 0M73.3 174.3a1.25 1.25 0 1 0 2.5 0a1.25 1.25 0 1 0 -2.5 0M87.3 211.1a1.25 1.25 0 1 0 2.5 0a1.25 1.25 0 1 0 -2.5 0M72.7 209.2a1.25 1.25 0 1 0 2.5 0a1.25 1.25 0 1 0 -2.5 0M84.0 198.0a1.25 1.25 0 1 0 2.5 0a1.25 1.25 0 1 0 -2.5 0M79.4 205.7a1.25 1.25 0 1 0 2.5 0a1.25 1.25 0 1 0 -2.5 0M86.0 206.6a1.25 1.25 0 1 0 2.5 0a1.25 1.25 0 1 0 -2.5 0M78.4 199.7a1.25 1.25 0 1 0 2.5 0a1.25 1.25 0 1 0 -2.5 0M82.3 178.0a1.25 1.25 0 1 0 2.5 0a1.25 1.25 0 1 0 -2.5 0M71.9 194.4a1.25 1.25 0 1 0 2.5 0a1.25 1.25 0 1 0 -2.5 0M68.0 209.4a1.25 1.25 0 1 0 2.5 0a1.25 1.25 0 1 0 -2.5 0M68.8 210.3a1.25 1.25 0 1 0 2.5 0a1.25 1.25 0 1 0 -2.5 0M75.8 169.4a1.25 1.25 0 1 0 2.5 0a1.25 1.25 0 1 0 -2.5 0M85.8 195.0a1.25 1.25 0 1 0 2.5 0a1.25 1.25 0 1 0 -2.5 0M86.0 200.3a1.25 1.25 0 1 0 2.5 0a1.25 1.25 0 1 0 -2.5 0M67.7 192.7a1.25 1.25 0 1 0 2.5 0a1.25 1.25 0 1 0 -2.5 0M76.3 204.5a1.25 1.25 0 1 0 2.5 0a1.25 1.25 0 1 0 -2.5 0M89.5 208.3a1.25 1.25 0 1 0 2.5 0a1.25 1.25 0 1 0 -2.5 0M67.7 207.1a1.25 1.25 0 1 0 2.5 0a1.25 1.25 0 1 0 -2.5 0M90.3 204.2a1.25 1.25 0 1 0 2.5 0a1.25 1.25 0 1 0 -2.5 0M84.1 204.9a1.25 1.25 0 1 0 2.5 0a1.25 1.25 0 1 0 -2.5 0M75.0 184.0a1.25 1.25 0 1 0 2.5 0a1.25 1.25 0 1 0 -2.5 0M73.9 199.2a1.25 1.25 0 1 0 2.5 0a1.25 1.25 0 1 0 -2.5 0M76.4 178.7a1.25 1.25 0 1 0 2.5 0a1.25 1.25 0 1 0 -2.5 0M90.4 194.2a1.25 1.25 0 1 0 2.5 0a1.25 1.25 0 1 0 -2.5 0M78.4 202.2a1.25 1.25 0 1 0 2.5 0a1.25 1.25 0 1 0 -2.5 0M75.8 198.6a1.25 1.25 0 1 0 2.5 0a1.25 1.25 0 1 0 -2.5 0M81.3 173.3a1.25 1.25 0 1 0 2.5 0a1.25 1.25 0 1 0 -2.5 0M80.0 203.4a1.25 1.25 0 1 0 2.5 0a1.25 1.25 0 1 0 -2.5 0M71.1 187.7a1.25 1.25 0 1 0 2.5 0a1.25 1.25 0 1 0 -2.5 0M75.8 205.3a1.25 1.25 0 1 0 2.5 0a1.25 1.25 0 1 0 -2.5 0M73.3 211.1a1.25 1.25 0 1 0 2.5 0a1.25 1.25 0 1 0 -2.5 0M74.0 173.2a1.25 1.25 0 1 0 2.5 0a1.25 1.25 0 1 0 -2.5 0M86.0 187.9a1.25 1.25 0 1 0 2.5 0a1.25 1.25 0 1 0 -2.5 0M68.9 195.1a1.25 1.25 0 1 0 2.5 0a1.25 1.25 0 1 0 -2.5 0M68.1 203.0a1.25 1.25 0 1 0 2.5 0a1.25 1.25 0 1 0 -2.5 0M86.0 202.9a1.25 1.25 0 1 0 2.5 0a1.25 1.25 0 1 0 -2.5 0M84.0 180.5a1.25 1.25 0 1 0 2.5 0a1.25 1.25 0 1 0 -2.5 0M77.4 182.5a1.25 1.25 0 1 0 2.5 0a1.25 1.25 0 1 0 -2.5 0M71.7 175.7a1.25 1.25 0 1 0 2.5 0a1.25 1.25 0 1 0 -2.5 0M76.7 208.0a1.25 1.25 0 1 0 2.5 0a1.25 1.25 0 1 0 -2.5 0M72.5 186.0a1.25 1.25 0 1 0 2.5 0a1.25 1.25 0 1 0 -2.5 0M81.2 201.2a1.25 1.25 0 1 0 2.5 0a1.25 1.25 0 1 0 -2.5 0M87.6 195.6a1.25 1.25 0 1 0 2.5 0a1.25 1.25 0 1 0 -2.5 0M75.9 179.0a1.25 1.25 0 1 0 2.5 0a1.25 1.25 0 1 0 -2.5 0M70.3 205.8a1.25 1.25 0 1 0 2.5 0a1.25 1.25 0 1 0 -2.5 0M85.0 200.6a1.25 1.25 0 1 0 2.5 0a1.25 1.25 0 1 0 -2.5 0M70.7 184.8a1.25 1.25 0 1 0 2.5 0a1.25 1.25 0 1 0 -2.5 0M88.2 192.1a1.25 1.25 0 1 0 2.5 0a1.25 1.25 0 1 0 -2.5 0M69.4 186.0a1.25 1.25 0 1 0 2.5 0a1.25 1.25 0 1 0 -2.5 0M71.3 177.7a1.25 1.25 0 1 0 2.5 0a1.25 1.25 0 1 0 -2.5 0M86.1 205.9a1.25 1.25 0 1 0 2.5 0a1.25 1.25 0 1 0 -2.5 0M72.9 179.0a1.25 1.25 0 1 0 2.5 0a1.25 1.25 0 1 0 -2.5 0M80.9 170.4a1.25 1.25 0 1 0 2.5 0a1.25 1.25 0 1 0 -2.5 0M75.3 171.8a1.25 1.25 0 1 0 2.5 0a1.25 1.25 0 1 0 -2.5 0M68.7 212.0a1.25 1.25 0 1 0 2.5 0a1.25 1.25 0 1 0 -2.5 0M94.3 203.3a1.25 1.25 0 1 0 2.5 0a1.25 1.25 0 1 0 -2.5 0M71.4 195.2a1.25 1.25 0 1 0 2.5 0a1.25 1.25 0 1 0 -2.5 0M77.0 163.8a1.25 1.25 0 1 0 2.5 0a1.25 1.25 0 1 0 -2.5 0M77.3 203.1a1.25 1.25 0 1 0 2.5 0a1.25 1.25 0 1 0 -2.5 0M85.9 188.0a1.25 1.25 0 1 0 2.5 0a1.25 1.25 0 1 0 -2.5 0M84.1 186.1a1.25 1.25 0 1 0 2.5 0a1.25 1.25 0 1 0 -2.5 0M69.9 193.4a1.25 1.25 0 1 0 2.5 0a1.25 1.25 0 1 0 -2.5 0M77.5 200.5a1.25 1.25 0 1 0 2.5 0a1.25 1.25 0 1 0 -2.5 0M82.4 201.0a1.25 1.25 0 1 0 2.5 0a1.25 1.25 0 1 0 -2.5 0M78.0 173.9a1.25 1.25 0 1 0 2.5 0a1.25 1.25 0 1 0 -2.5 0M86.7 207.8a1.25 1.25 0 1 0 2.5 0a1.25 1.25 0 1 0 -2.5 0M88.2 198.4a1.25 1.25 0 1 0 2.5 0a1.25 1.25 0 1 0 -2.5 0M90.5 197.3a1.25 1.25 0 1 0 2.5 0a1.25 1.25 0 1 0 -2.5 0M84.4 185.6a1.25 1.25 0 1 0 2.5 0a1.25 1.25 0 1 0 -2.5 0M74.8 194.7a1.25 1.25 0 1 0 2.5 0a1.25 1.25 0 1 0 -2.5 0M88.4 199.1a1.25 1.25 0 1 0 2.5 0a1.25 1.25 0 1 0 -2.5 0M78.0 185.7a1.25 1.25 0 1 0 2.5 0a1.25 1.25 0 1 0 -2.5 0M83.8 183.3a1.25 1.25 0 1 0 2.5 0a1.25 1.25 0 1 0 -2.5 0M85.3 210.4a1.25 1.25 0 1 0 2.5 0a1.25 1.25 0 1 0 -2.5 0M71.1 196.0a1.25 1.25 0 1 0 2.5 0a1.25 1.25 0 1 0 -2.5 0M80.0 212.7a1.25 1.25 0 1 0 2.5 0a1.25 1.25 0 1 0 -2.5 0M70.4 202.7a1.25 1.25 0 1 0 2.5 0a1.25 1.25 0 1 0 -2.5 0M68.7 191.9a1.25 1.25 0 1 0 2.5 0a1.25 1.25 0 1 0 -2.5 0M81.4 199.3a1.25 1.25 0 1 0 2.5 0a1.25 1.25 0 1 0 -2.5 0M80.6 195.2a1.25 1.25 0 1 0 2.5 0a1.25 1.25 0 1 0 -2.5 0M89.8 189.1a1.25 1.25 0 1 0 2.5 0a1.25 1.25 0 1 0 -2.5 0M77.7 211.3a1.25 1.25 0 1 0 2.5 0a1.25 1.25 0 1 0 -2.5 0M71.8 197.6a1.25 1.25 0 1 0 2.5 0a1.25 1.25 0 1 0 -2.5 0M77.1 201.7a1.25 1.25 0 1 0 2.5 0a1.25 1.25 0 1 0 -2.5 0M69.3 213.2a1.25 1.25 0 1 0 2.5 0a1.25 1.25 0 1 0 -2.5 0M76.1 164.9a1.25 1.25 0 1 0 2.5 0a1.25 1.25 0 1 0 -2.5 0M73.7 182.8a1.25 1.25 0 1 0 2.5 0a1.25 1.25 0 1 0 -2.5 0M77.9 198.3a1.25 1.25 0 1 0 2.5 0a1.25 1.25 0 1 0 -2.5 0M76.0 175.8a1.25 1.25 0 1 0 2.5 0a1.25 1.25 0 1 0 -2.5 0M72.3 200.6a1.25 1.25 0 1 0 2.5 0a1.25 1.25 0 1 0 -2.5 0M72.1 203.7a1.25 1.25 0 1 0 2.5 0a1.25 1.25 0 1 0 -2.5 0M77.1 173.0a1.25 1.25 0 1 0 2.5 0a1.25 1.25 0 1 0 -2.5 0M69.5 202.4a1.25 1.25 0 1 0 2.5 0a1.25 1.25 0 1 0 -2.5 0M89.2 195.0a1.25 1.25 0 1 0 2.5 0a1.25 1.25 0 1 0 -2.5 0M79.4 191.2a1.25 1.25 0 1 0 2.5 0a1.25 1.25 0 1 0 -2.5 0M72.3 212.1a1.25 1.25 0 1 0 2.5 0a1.25 1.25 0 1 0 -2.5 0M76.0 195.2a1.25 1.25 0 1 0 2.5 0a1.25 1.25 0 1 0 -2.5 0M89.5 204.4a1.25 1.25 0 1 0 2.5 0a1.25 1.25 0 1 0 -2.5 0M79.3 177.3a1.25 1.25 0 1 0 2.5 0a1.25 1.25 0 1 0 -2.5 0M76.7 175.2a1.25 1.25 0 1 0 2.5 0a1.25 1.25 0 1 0 -2.5 0M78.1 171.7a1.25 1.25 0 1 0 2.5 0a1.25 1.25 0 1 0 -2.5 0M73.9 174.7a1.25 1.25 0 1 0 2.5 0a1.25 1.25 0 1 0 -2.5 0M74.5 186.9a1.25 1.25 0 1 0 2.5 0a1.25 1.25 0 1 0 -2.5 0M78.2 195.1a1.25 1.25 0 1 0 2.5 0a1.25 1.25 0 1 0 -2.5 0M92.7 206.4a1.25 1.25 0 1 0 2.5 0a1.25 1.25 0 1 0 -2.5 0M67.4 205.1a1.25 1.25 0 1 0 2.5 0a1.25 1.25 0 1 0 -2.5 0M92.0 202.8a1.25 1.25 0 1 0 2.5 0a1.25 1.25 0 1 0 -2.5 0M69.8 205.2a1.25 1.25 0 1 0 2.5 0a1.25 1.25 0 1 0 -2.5 0M72.5 202.4a1.25 1.25 0 1 0 2.5 0a1.25 1.25 0 1 0 -2.5 0M75.8 169.9a1.25 1.25 0 1 0 2.5 0a1.25 1.25 0 1 0 -2.5 0M92.0 203.2a1.25 1.25 0 1 0 2.5 0a1.25 1.25 0 1 0 -2.5 0M70.6 208.3a1.25 1.25 0 1 0 2.5 0a1.25 1.25 0 1 0 -2.5 0M83.4 202.6a1.25 1.25 0 1 0 2.5 0a1.25 1.25 0 1 0 -2.5 0M85.1 208.5a1.25 1.25 0 1 0 2.5 0a1.25 1.25 0 1 0 -2.5 0M88.6 205.6a1.25 1.25 0 1 0 2.5 0a1.25 1.25 0 1 0 -2.5 0M71.5 198.0a1.25 1.25 0 1 0 2.5 0a1.25 1.25 0 1 0 -2.5 0M81.1 200.6a1.25 1.25 0 1 0 2.5 0a1.25 1.25 0 1 0 -2.5 0M78.5 207.9a1.25 1.25 0 1 0 2.5 0a1.25 1.25 0 1 0 -2.5 0M81.8 175.8a1.25 1.25 0 1 0 2.5 0a1.25 1.25 0 1 0 -2.5 0M72.5 169.2a1.25 1.25 0 1 0 2.5 0a1.25 1.25 0 1 0 -2.5 0M79.3 169.5a1.25 1.25 0 1 0 2.5 0a1.25 1.25 0 1 0 -2.5 0M80.0 187.9a1.25 1.25 0 1 0 2.5 0a1.25 1.25 0 1 0 -2.5 0M81.4 206.9a1.25 1.25 0 1 0 2.5 0a1.25 1.25 0 1 0 -2.5 0M79.3 191.3a1.25 1.25 0 1 0 2.5 0a1.25 1.25 0 1 0 -2.5 0M85.0 205.7a1.25 1.25 0 1 0 2.5 0a1.25 1.25 0 1 0 -2.5 0M76.6 183.8a1.25 1.25 0 1 0 2.5 0a1.25 1.25 0 1 0 -2.5 0M84.2 195.1a1.25 1.25 0 1 0 2.5 0a1.25 1.25 0 1 0 -2.5 0M85.5 210.4a1.25 1.25 0 1 0 2.5 0a1.25 1.25 0 1 0 -2.5 0M75.3 213.0a1.25 1.25 0 1 0 2.5 0a1.25 1.25 0 1 0 -2.5 0M80.6 187.2a1.25 1.25 0 1 0 2.5 0a1.25 1.25 0 1 0 -2.5 0M86.6 194.5a1.25 1.25 0 1 0 2.5 0a1.25 1.25 0 1 0 -2.5 0M75.6 206.8a1.25 1.25 0 1 0 2.5 0a1.25 1.25 0 1 0 -2.5 0M76.4 186.7a1.25 1.25 0 1 0 2.5 0a1.25 1.25 0 1 0 -2.5 0M81.0 202.1a1.25 1.25 0 1 0 2.5 0a1.25 1.25 0 1 0 -2.5 0M71.9 184.6a1.25 1.25 0 1 0 2.5 0a1.25 1.25 0 1 0 -2.5 0M78.0 190.8a1.25 1.25 0 1 0 2.5 0a1.25 1.25 0 1 0 -2.5 0M80.4 176.1a1.25 1.25 0 1 0 2.5 0a1.25 1.25 0 1 0 -2.5 0M80.4 212.7a1.25 1.25 0 1 0 2.5 0a1.25 1.25 0 1 0 -2.5 0M84.7 203.2a1.25 1.25 0 1 0 2.5 0a1.25 1.25 0 1 0 -2.5 0M75.3 178.5a1.25 1.25 0 1 0 2.5 0a1.25 1.25 0 1 0 -2.5 0M74.4 192.5a1.25 1.25 0 1 0 2.5 0a1.25 1.25 0 1 0 -2.5 0M84.2 202.8a1.25 1.25 0 1 0 2.5 0a1.25 1.25 0 1 0 -2.5 0M66.9 199.6a1.25 1.25 0 1 0 2.5 0a1.25 1.25 0 1 0 -2.5 0M92.5 193.7a1.25 1.25 0 1 0 2.5 0a1.25 1.25 0 1 0 -2.5 0M84.8 203.0a1.25 1.25 0 1 0 2.5 0a1.25 1.25 0 1 0 -2.5 0M92.1 193.8a1.25 1.25 0 1 0 2.5 0a1.25 1.25 0 1 0 -2.5 0M83.6 194.6a1.25 1.25 0 1 0 2.5 0a1.25 1.25 0 1 0 -2.5 0M85.9 193.0a1.25 1.25 0 1 0 2.5 0a1.25 1.25 0 1 0 -2.5 0M85.1 185.8a1.25 1.25 0 1 0 2.5 0a1.25 1.25 0 1 0 -2.5 0M88.2 209.5a1.25 1.25 0 1 0 2.5 0a1.25 1.25 0 1 0 -2.5 0M89.6 202.9a1.25 1.25 0 1 0 2.5 0a1.25 1.25 0 1 0 -2.5 0M82.1 175.4a1.25 1.25 0 1 0 2.5 0a1.25 1.25 0 1 0 -2.5 0M74.5 183.9a1.25 1.25 0 1 0 2.5 0a1.25 1.25 0 1 0 -2.5 0M75.0 184.4a1.25 1.25 0 1 0 2.5 0a1.25 1.25 0 1 0 -2.5 0M84.4 210.6a1.25 1.25 0 1 0 2.5 0a1.25 1.25 0 1 0 -2.5 0M89.2 191.9a1.25 1.25 0 1 0 2.5 0a1.25 1.25 0 1 0 -2.5 0M82.9 210.8a1.25 1.25 0 1 0 2.5 0a1.25 1.25 0 1 0 -2.5 0M77.7 167.3a1.25 1.25 0 1 0 2.5 0a1.25 1.25 0 1 0 -2.5 0M69.3 212.3a1.25 1.25 0 1 0 2.5 0a1.25 1.25 0 1 0 -2.5 0M68.3 207.2a1.25 1.25 0 1 0 2.5 0a1.25 1.25 0 1 0 -2.5 0M67.2 202.2a1.25 1.25 0 1 0 2.5 0a1.25 1.25 0 1 0 -2.5 0M86.4 206.5a1.25 1.25 0 1 0 2.5 0a1.25 1.25 0 1 0 -2.5 0M84.0 198.9a1.25 1.25 0 1 0 2.5 0a1.25 1.25 0 1 0 -2.5 0M79.1 210.5a1.25 1.25 0 1 0 2.5 0a1.25 1.25 0 1 0 -2.5 0M73.1 212.1a1.25 1.25 0 1 0 2.5 0a1.25 1.25 0 1 0 -2.5 0M74.8 199.9a1.25 1.25 0 1 0 2.5 0a1.25 1.25 0 1 0 -2.5 0M70.6 206.8a1.25 1.25 0 1 0 2.5 0a1.25 1.25 0 1 0 -2.5 0M76.4 191.9a1.25 1.25 0 1 0 2.5 0a1.25 1.25 0 1 0 -2.5 0M78.5 197.2a1.25 1.25 0 1 0 2.5 0a1.25 1.25 0 1 0 -2.5 0M70.0 203.5a1.25 1.25 0 1 0 2.5 0a1.25 1.25 0 1 0 -2.5 0M76.3 195.5a1.25 1.25 0 1 0 2.5 0a1.25 1.25 0 1 0 -2.5 0M84.0 183.7a1.25 1.25 0 1 0 2.5 0a1.25 1.25 0 1 0 -2.5 0M76.9 202.9a1.25 1.25 0 1 0 2.5 0a1.25 1.25 0 1 0 -2.5 0M93.2 202.8a1.25 1.25 0 1 0 2.5 0a1.25 1.25 0 1 0 -2.5 0M82.2 177.2a1.25 1.25 0 1 0 2.5 0a1.25 1.25 0 1 0 -2.5 0M86.1 205.0a1.25 1.25 0 1 0 2.5 0a1.25 1.25 0 1 0 -2.5 0M75.4 193.5a1.25 1.25 0 1 0 2.5 0a1.25 1.25 0 1 0 -2.5 0M94.1 205.2a1.25 1.25 0 1 0 2.5 0a1.25 1.25 0 1 0 -2.5 0M78.2 208.2a1.25 1.25 0 1 0 2.5 0a1.25 1.25 0 1 0 -2.5 0M76.7 197.6a1.25 1.25 0 1 0 2.5 0a1.25 1.25 0 1 0 -2.5 0M83.2 208.6a1.25 1.25 0 1 0 2.5 0a1.25 1.25 0 1 0 -2.5 0M78.0 192.5a1.25 1.25 0 1 0 2.5 0a1.25 1.25 0 1 0 -2.5 0M89.4 208.1a1.25 1.25 0 1 0 2.5 0a1.25 1.25 0 1 0 -2.5 0M67.0 205.3a1.25 1.25 0 1 0 2.5 0a1.25 1.25 0 1 0 -2.5 0M89.3 207.1a1.25 1.25 0 1 0 2.5 0a1.25 1.25 0 1 0 -2.5 0M82.3 176.2a1.25 1.25 0 1 0 2.5 0a1.25 1.25 0 1 0 -2.5 0M90.4 204.0a1.25 1.25 0 1 0 2.5 0a1.25 1.25 0 1 0 -2.5 0M85.6 209.5a1.25 1.25 0 1 0 2.5 0a1.25 1.25 0 1 0 -2.5 0M75.8 166.4a1.25 1.25 0 1 0 2.5 0a1.25 1.25 0 1 0 -2.5 0M81.8 203.5a1.25 1.25 0 1 0 2.5 0a1.25 1.25 0 1 0 -2.5 0M71.6 201.0a1.25 1.25 0 1 0 2.5 0a1.25 1.25 0 1 0 -2.5 0M83.4 197.2a1.25 1.25 0 1 0 2.5 0a1.25 1.25 0 1 0 -2.5 0M79.2 172.7a1.25 1.25 0 1 0 2.5 0a1.25 1.25 0 1 0 -2.5 0M73.1 201.1a1.25 1.25 0 1 0 2.5 0a1.25 1.25 0 1 0 -2.5 0M68.3 203.9a1.25 1.25 0 1 0 2.5 0a1.25 1.25 0 1 0 -2.5 0M82.6 208.6a1.25 1.25 0 1 0 2.5 0a1.25 1.25 0 1 0 -2.5 0M79.6 192.6a1.25 1.25 0 1 0 2.5 0a1.25 1.25 0 1 0 -2.5 0M71.2 172.0a1.25 1.25 0 1 0 2.5 0a1.25 1.25 0 1 0 -2.5 0M71.0 198.5a1.25 1.25 0 1 0 2.5 0a1.25 1.25 0 1 0 -2.5 0M76.3 191.4a1.25 1.25 0 1 0 2.5 0a1.25 1.25 0 1 0 -2.5 0M77.4 188.9a1.25 1.25 0 1 0 2.5 0a1.25 1.25 0 1 0 -2.5 0M68.8 194.9a1.25 1.25 0 1 0 2.5 0a1.25 1.25 0 1 0 -2.5 0M83.1 179.9a1.25 1.25 0 1 0 2.5 0a1.25 1.25 0 1 0 -2.5 0M82.2 175.6a1.25 1.25 0 1 0 2.5 0a1.25 1.25 0 1 0 -2.5 0M93.2 201.9a1.25 1.25 0 1 0 2.5 0a1.25 1.25 0 1 0 -2.5 0M73.1 164.0a1.25 1.25 0 1 0 2.5 0a1.25 1.25 0 1 0 -2.5 0M71.6 171.4a1.25 1.25 0 1 0 2.5 0a1.25 1.25 0 1 0 -2.5 0M81.9 207.3a1.25 1.25 0 1 0 2.5 0a1.25 1.25 0 1 0 -2.5 0M79.0 211.3a1.25 1.25 0 1 0 2.5 0a1.25 1.25 0 1 0 -2.5 0M83.1 182.7a1.25 1.25 0 1 0 2.5 0a1.25 1.25 0 1 0 -2.5 0M69.2 211.9a1.25 1.25 0 1 0 2.5 0a1.25 1.25 0 1 0 -2.5 0M73.2 191.4a1.25 1.25 0 1 0 2.5 0a1.25 1.25 0 1 0 -2.5 0M84.3 211.7a1.25 1.25 0 1 0 2.5 0a1.25 1.25 0 1 0 -2.5 0M78.8 170.3a1.25 1.25 0 1 0 2.5 0a1.25 1.25 0 1 0 -2.5 0M73.2 180.3a1.25 1.25 0 1 0 2.5 0a1.25 1.25 0 1 0 -2.5 0M88.6 198.9a1.25 1.25 0 1 0 2.5 0a1.25 1.25 0 1 0 -2.5 0M87.6 210.8a1.25 1.25 0 1 0 2.5 0a1.25 1.25 0 1 0 -2.5 0M82.9 201.4a1.25 1.25 0 1 0 2.5 0a1.25 1.25 0 1 0 -2.5 0M73.2 168.5a1.25 1.25 0 1 0 2.5 0a1.25 1.25 0 1 0 -2.5 0M79.7 170.8a1.25 1.25 0 1 0 2.5 0a1.25 1.25 0 1 0 -2.5 0M72.7 169.4a1.25 1.25 0 1 0 2.5 0a1.25 1.25 0 1 0 -2.5 0M66.8 210.2a1.25 1.25 0 1 0 2.5 0a1.25 1.25 0 1 0 -2.5 0M72.1 210.6a1.25 1.25 0 1 0 2.5 0a1.25 1.25 0 1 0 -2.5 0M90.9 208.2a1.25 1.25 0 1 0 2.5 0a1.25 1.25 0 1 0 -2.5 0M69.8 185.3a1.25 1.25 0 1 0 2.5 0a1.25 1.25 0 1 0 -2.5 0M68.6 210.3a1.25 1.25 0 1 0 2.5 0a1.25 1.25 0 1 0 -2.5 0M90.2 194.7a1.25 1.25 0 1 0 2.5 0a1.25 1.25 0 1 0 -2.5 0M78.9 179.7a1.25 1.25 0 1 0 2.5 0a1.25 1.25 0 1 0 -2.5 0M86.4 190.8a1.25 1.25 0 1 0 2.5 0a1.25 1.25 0 1 0 -2.5 0M69.9 207.3a1.25 1.25 0 1 0 2.5 0a1.25 1.25 0 1 0 -2.5 0M73.5 183.4a1.25 1.25 0 1 0 2.5 0a1.25 1.25 0 1 0 -2.5 0M70.3 176.1a1.25 1.25 0 1 0 2.5 0a1.25 1.25 0 1 0 -2.5 0M70.6 187.5a1.25 1.25 0 1 0 2.5 0a1.25 1.25 0 1 0 -2.5 0M75.0 209.0a1.25 1.25 0 1 0 2.5 0a1.25 1.25 0 1 0 -2.5 0M69.1 212.9a1.25 1.25 0 1 0 2.5 0a1.25 1.25 0 1 0 -2.5 0M67.4 208.5a1.25 1.25 0 1 0 2.5 0a1.25 1.25 0 1 0 -2.5 0M79.6 176.9a1.25 1.25 0 1 0 2.5 0a1.25 1.25 0 1 0 -2.5 0M73.2 172.5a1.25 1.25 0 1 0 2.5 0a1.25 1.25 0 1 0 -2.5 0M76.3 213.5a1.25 1.25 0 1 0 2.5 0a1.25 1.25 0 1 0 -2.5 0M89.9 189.4a1.25 1.25 0 1 0 2.5 0a1.25 1.25 0 1 0 -2.5 0M71.1 184.6a1.25 1.25 0 1 0 2.5 0a1.25 1.25 0 1 0 -2.5 0M71.0 202.1a1.25 1.25 0 1 0 2.5 0a1.25 1.25 0 1 0 -2.5 0M83.4 187.8a1.25 1.25 0 1 0 2.5 0a1.25 1.25 0 1 0 -2.5 0M73.7 172.7a1.25 1.25 0 1 0 2.5 0a1.25 1.25 0 1 0 -2.5 0M83.5 198.8a1.25 1.25 0 1 0 2.5 0a1.25 1.25 0 1 0 -2.5 0M89.3 192.3a1.25 1.25 0 1 0 2.5 0a1.25 1.25 0 1 0 -2.5 0M90.2 207.0a1.25 1.25 0 1 0 2.5 0a1.25 1.25 0 1 0 -2.5 0M71.1 205.2a1.25 1.25 0 1 0 2.5 0a1.25 1.25 0 1 0 -2.5 0M76.4 170.5a1.25 1.25 0 1 0 2.5 0a1.25 1.25 0 1 0 -2.5 0M76.5 192.9a1.25 1.25 0 1 0 2.5 0a1.25 1.25 0 1 0 -2.5 0M78.7 188.8a1.25 1.25 0 1 0 2.5 0a1.25 1.25 0 1 0 -2.5 0M69.3 199.2a1.25 1.25 0 1 0 2.5 0a1.25 1.25 0 1 0 -2.5 0M89.4 207.0a1.25 1.25 0 1 0 2.5 0a1.25 1.25 0 1 0 -2.5 0M75.1 199.0a1.25 1.25 0 1 0 2.5 0a1.25 1.25 0 1 0 -2.5 0M76.8 201.1a1.25 1.25 0 1 0 2.5 0a1.25 1.25 0 1 0 -2.5 0M94.0 195.9a1.25 1.25 0 1 0 2.5 0a1.25 1.25 0 1 0 -2.5 0M86.8 183.1a1.25 1.25 0 1 0 2.5 0a1.25 1.25 0 1 0 -2.5 0M88.3 204.5a1.25 1.25 0 1 0 2.5 0a1.25 1.25 0 1 0 -2.5 0M83.4 182.9a1.25 1.25 0 1 0 2.5 0a1.25 1.25 0 1 0 -2.5 0M95.4 195.7a1.25 1.25 0 1 0 2.5 0a1.25 1.25 0 1 0 -2.5 0M101.9 201.5a1.25 1.25 0 1 0 2.5 0a1.25 1.25 0 1 0 -2.5 0M83.7 183.7a1.25 1.25 0 1 0 2.5 0a1.25 1.25 0 1 0 -2.5 0M93.6 195.0a1.25 1.25 0 1 0 2.5 0a1.25 1.25 0 1 0 -2.5 0M95.8 205.8a1.25 1.25 0 1 0 2.5 0a1.25 1.25 0 1 0 -2.5 0M86.0 197.2a1.25 1.25 0 1 0 2.5 0a1.25 1.25 0 1 0 -2.5 0M91.3 192.6a1.25 1.25 0 1 0 2.5 0a1.25 1.25 0 1 0 -2.5 0M101.2 195.8a1.25 1.25 0 1 0 2.5 0a1.25 1.25 0 1 0 -2.5 0M91.5 208.2a1.25 1.25 0 1 0 2.5 0a1.25 1.25 0 1 0 -2.5 0M88.0 190.1a1.25 1.25 0 1 0 2.5 0a1.25 1.25 0 1 0 -2.5 0M100.4 207.4a1.25 1.25 0 1 0 2.5 0a1.25 1.25 0 1 0 -2.5 0M100.7 205.4a1.25 1.25 0 1 0 2.5 0a1.25 1.25 0 1 0 -2.5 0M88.2 192.7a1.25 1.25 0 1 0 2.5 0a1.25 1.25 0 1 0 -2.5 0M96.7 190.9a1.25 1.25 0 1 0 2.5 0a1.25 1.25 0 1 0 -2.5 0M92.3 195.1a1.25 1.25 0 1 0 2.5 0a1.25 1.25 0 1 0 -2.5 0M103.4 199.0a1.25 1.25 0 1 0 2.5 0a1.25 1.25 0 1 0 -2.5 0M100.6 206.5a1.25 1.25 0 1 0 2.5 0a1.25 1.25 0 1 0 -2.5 0M94.7 207.7a1.25 1.25 0 1 0 2.5 0a1.25 1.25 0 1 0 -2.5 0M94.2 193.0a1.25 1.25 0 1 0 2.5 0a1.25 1.25 0 1 0 -2.5 0M89.5 199.4a1.25 1.25 0 1 0 2.5 0a1.25 1.25 0 1 0 -2.5 0M88.7 194.0a1.25 1.25 0 1 0 2.5 0a1.25 1.25 0 1 0 -2.5 0M85.5 183.9a1.25 1.25 0 1 0 2.5 0a1.25 1.25 0 1 0 -2.5 0M89.2 192.2a1.25 1.25 0 1 0 2.5 0a1.25 1.25 0 1 0 -2.5 0M89.1 187.3a1.25 1.25 0 1 0 2.5 0a1.25 1.25 0 1 0 -2.5 0M101.2 198.3a1.25 1.25 0 1 0 2.5 0a1.25 1.25 0 1 0 -2.5 0M95.3 199.5a1.25 1.25 0 1 0 2.5 0a1.25 1.25 0 1 0 -2.5 0M87.2 201.3a1.25 1.25 0 1 0 2.5 0a1.25 1.25 0 1 0 -2.5 0M92.9 196.4a1.25 1.25 0 1 0 2.5 0a1.25 1.25 0 1 0 -2.5 0M96.2 194.1a1.25 1.25 0 1 0 2.5 0a1.25 1.25 0 1 0 -2.5 0M89.6 187.3a1.25 1.25 0 1 0 2.5 0a1.25 1.25 0 1 0 -2.5 0M87.6 195.4a1.25 1.25 0 1 0 2.5 0a1.25 1.25 0 1 0 -2.5 0M91.2 197.6a1.25 1.25 0 1 0 2.5 0a1.25 1.25 0 1 0 -2.5 0M95.0 194.7a1.25 1.25 0 1 0 2.5 0a1.25 1.25 0 1 0 -2.5 0M89.3 203.2a1.25 1.25 0 1 0 2.5 0a1.25 1.25 0 1 0 -2.5 0M92.4 202.1a1.25 1.25 0 1 0 2.5 0a1.25 1.25 0 1 0 -2.5 0M85.2 186.8a1.25 1.25 0 1 0 2.5 0a1.25 1.25 0 1 0 -2.5 0M103.9 202.2a1.25 1.25 0 1 0 2.5 0a1.25 1.25 0 1 0 -2.5 0M86.1 190.1a1.25 1.25 0 1 0 2.5 0a1.25 1.25 0 1 0 -2.5 0M90.5 200.3a1.25 1.25 0 1 0 2.5 0a1.25 1.25 0 1 0 -2.5 0M96.3 205.5a1.25 1.25 0 1 0 2.5 0a1.25 1.25 0 1 0 -2.5 0M100.8 195.5a1.25 1.25 0 1 0 2.5 0a1.25 1.25 0 1 0 -2.5 0M99.0 202.3a1.25 1.25 0 1 0 2.5 0a1.25 1.25 0 1 0 -2.5 0M99.5 194.3a1.25 1.25 0 1 0 2.5 0a1.25 1.25 0 1 0 -2.5 0M100.0 201.3a1.25 1.25 0 1 0 2.5 0a1.25 1.25 0 1 0 -2.5 0M99.6 197.6a1.25 1.25 0 1 0 2.5 0a1.25 1.25 0 1 0 -2.5 0M93.7 208.9a1.25 1.25 0 1 0 2.5 0a1.25 1.25 0 1 0 -2.5 0M95.3 192.5a1.25 1.25 0 1 0 2.5 0a1.25 1.25 0 1 0 -2.5 0M100.0 206.2a1.25 1.25 0 1 0 2.5 0a1.25 1.25 0 1 0 -2.5 0M96.1 191.4a1.25 1.25 0 1 0 2.5 0a1.25 1.25 0 1 0 -2.5 0M92.7 193.7a1.25 1.25 0 1 0 2.5 0a1.25 1.25 0 1 0 -2.5 0M91.3 196.7a1.25 1.25 0 1 0 2.5 0a1.25 1.25 0 1 0 -2.5 0M91.2 189.7a1.25 1.25 0 1 0 2.5 0a1.25 1.25 0 1 0 -2.5 0M100.1 205.5a1.25 1.25 0 1 0 2.5 0a1.25 1.25 0 1 0 -2.5 0M93.7 193.3a1.25 1.25 0 1 0 2.5 0a1.25 1.25 0 1 0 -2.5 0M86.8 189.1a1.25 1.25 0 1 0 2.5 0a1.25 1.25 0 1 0 -2.5 0M85.9 197.3a1.25 1.25 0 1 0 2.5 0a1.25 1.25 0 1 0 -2.5 0M101.3 205.1a1.25 1.25 0 1 0 2.5 0a1.25 1.25 0 1 0 -2.5 0M92.1 207.3a1.25 1.25 0 1 0 2.5 0a1.25 1.25 0 1 0 -2.5 0M83.0 181.4a1.25 1.25 0 1 0 2.5 0a1.25 1.25 0 1 0 -2.5 0M95.2 194.9a1.25 1.25 0 1 0 2.5 0a1.25 1.25 0 1 0 -2.5 0M103.0 203.2a1.25 1.25 0 1 0 2.5 0a1.25 1.25 0 1 0 -2.5 0M94.1 195.5a1.25 1.25 0 1 0 2.5 0a1.25 1.25 0 1 0 -2.5 0M97.8 191.7a1.25 1.25 0 1 0 2.5 0a1.25 1.25 0 1 0 -2.5 0M90.6 197.8a1.25 1.25 0 1 0 2.5 0a1.25 1.25 0 1 0 -2.5 0M97.6 195.8a1.25 1.25 0 1 0 2.5 0a1.25 1.25 0 1 0 -2.5 0M84.9 191.2a1.25 1.25 0 1 0 2.5 0a1.25 1.25 0 1 0 -2.5 0M91.6 196.8a1.25 1.25 0 1 0 2.5 0a1.25 1.25 0 1 0 -2.5 0M95.4 206.4a1.25 1.25 0 1 0 2.5 0a1.25 1.25 0 1 0 -2.5 0M92.4 198.7a1.25 1.25 0 1 0 2.5 0a1.25 1.25 0 1 0 -2.5 0M94.4 204.5a1.25 1.25 0 1 0 2.5 0a1.25 1.25 0 1 0 -2.5 0M86.5 189.5a1.25 1.25 0 1 0 2.5 0a1.25 1.25 0 1 0 -2.5 0M102.4 200.7a1.25 1.25 0 1 0 2.5 0a1.25 1.25 0 1 0 -2.5 0M86.2 188.7a1.25 1.25 0 1 0 2.5 0a1.25 1.25 0 1 0 -2.5 0M94.0 195.1a1.25 1.25 0 1 0 2.5 0a1.25 1.25 0 1 0 -2.5 0M86.9 185.5a1.25 1.25 0 1 0 2.5 0a1.25 1.25 0 1 0 -2.5 0M96.6 198.1a1.25 1.25 0 1 0 2.5 0a1.25 1.25 0 1 0 -2.5 0M91.8 203.6a1.25 1.25 0 1 0 2.5 0a1.25 1.25 0 1 0 -2.5 0M89.5 200.7a1.25 1.25 0 1 0 2.5 0a1.25 1.25 0 1 0 -2.5 0M101.3 197.6a1.25 1.25 0 1 0 2.5 0a1.25 1.25 0 1 0 -2.5 0M93.7 196.6a1.25 1.25 0 1 0 2.5 0a1.25 1.25 0 1 0 -2.5 0M88.6 199.4a1.25 1.25 0 1 0 2.5 0a1.25 1.25 0 1 0 -2.5 0M95.4 192.3a1.25 1.25 0 1 0 2.5 0a1.25 1.25 0 1 0 -2.5 0M85.4 184.7a1.25 1.25 0 1 0 2.5 0a1.25 1.25 0 1 0 -2.5 0M85.0 185.1a1.25 1.25 0 1 0 2.5 0a1.25 1.25 0 1 0 -2.5 0M94.2 204.7a1.25 1.25 0 1 0 2.5 0a1.25 1.25 0 1 0 -2.5 0M96.2 204.2a1.25 1.25 0 1 0 2.5 0a1.25 1.25 0 1 0 -2.5 0M86.5 188.0a1.25 1.25 0 1 0 2.5 0a1.25 1.25 0 1 0 -2.5 0M95.6 190.5a1.25 1.25 0 1 0 2.5 0a1.25 1.25 0 1 0 -2.5 0M92.6 191.6a1.25 1.25 0 1 0 2.5 0a1.25 1.25 0 1 0 -2.5 0M95.6 208.8a1.25 1.25 0 1 0 2.5 0a1.25 1.25 0 1 0 -2.5 0M92.4 198.6a1.25 1.25 0 1 0 2.5 0a1.25 1.25 0 1 0 -2.5 0M89.7 207.0a1.25 1.25 0 1 0 2.5 0a1.25 1.25 0 1 0 -2.5 0M96.0 208.8a1.25 1.25 0 1 0 2.5 0a1.25 1.25 0 1 0 -2.5 0M93.7 208.5a1.25 1.25 0 1 0 2.5 0a1.25 1.25 0 1 0 -2.5 0M88.1 191.7a1.25 1.25 0 1 0 2.5 0a1.25 1.25 0 1 0 -2.5 0M89.6 206.3a1.25 1.25 0 1 0 2.5 0a1.25 1.25 0 1 0 -2.5 0M93.4 203.8a1.25 1.25 0 1 0 2.5 0a1.25 1.25 0 1 0 -2.5 0M88.1 185.2a1.25 1.25 0 1 0 2.5 0a1.25 1.25 0 1 0 -2.5 0M94.5 191.6a1.25 1.25 0 1 0 2.5 0a1.25 1.25 0 1 0 -2.5 0M90.5 187.3a1.25 1.25 0 1 0 2.5 0a1.25 1.25 0 1 0 -2.5 0M87.0 188.5a1.25 1.25 0 1 0 2.5 0a1.25 1.25 0 1 0 -2.5 0M97.4 190.2a1.25 1.25 0 1 0 2.5 0a1.25 1.25 0 1 0 -2.5 0M86.2 201.2a1.25 1.25 0 1 0 2.5 0a1.25 1.25 0 1 0 -2.5 0M84.8 188.1a1.25 1.25 0 1 0 2.5 0a1.25 1.25 0 1 0 -2.5 0M92.5 205.1a1.25 1.25 0 1 0 2.5 0a1.25 1.25 0 1 0 -2.5 0M90.5 201.7a1.25 1.25 0 1 0 2.5 0a1.25 1.25 0 1 0 -2.5 0M102.5 197.6a1.25 1.25 0 1 0 2.5 0a1.25 1.25 0 1 0 -2.5 0M90.8 187.4a1.25 1.25 0 1 0 2.5 0a1.25 1.25 0 1 0 -2.5 0M94.0 196.3a1.25 1.25 0 1 0 2.5 0a1.25 1.25 0 1 0 -2.5 0M88.7 203.2a1.25 1.25 0 1 0 2.5 0a1.25 1.25 0 1 0 -2.5 0M91.2 199.7a1.25 1.25 0 1 0 2.5 0a1.25 1.25 0 1 0 -2.5 0M95.2 189.3a1.25 1.25 0 1 0 2.5 0a1.25 1.25 0 1 0 -2.5 0M89.8 199.9a1.25 1.25 0 1 0 2.5 0a1.25 1.25 0 1 0 -2.5 0M90.7 195.0a1.25 1.25 0 1 0 2.5 0a1.25 1.25 0 1 0 -2.5 0M89.6 186.8a1.25 1.25 0 1 0 2.5 0a1.25 1.25 0 1 0 -2.5 0M89.0 192.1a1.25 1.25 0 1 0 2.5 0a1.25 1.25 0 1 0 -2.5 0M104.6 194.4a1.25 1.25 0 1 0 2.5 0a1.25 1.25 0 1 0 -2.5 0M103.9 196.5a1.25 1.25 0 1 0 2.5 0a1.25 1.25 0 1 0 -2.5 0M85.9 181.9a1.25 1.25 0 1 0 2.5 0a1.25 1.25 0 1 0 -2.5 0M83.5 192.0a1.25 1.25 0 1 0 2.5 0a1.25 1.25 0 1 0 -2.5 0M98.7 183.8a1.25 1.25 0 1 0 2.5 0a1.25 1.25 0 1 0 -2.5 0M92.7 191.5a1.25 1.25 0 1 0 2.5 0a1.25 1.25 0 1 0 -2.5 0M99.5 181.2a1.25 1.25 0 1 0 2.5 0a1.25 1.25 0 1 0 -2.5 0M103.1 183.8a1.25 1.25 0 1 0 2.5 0a1.25 1.25 0 1 0 -2.5 0M97.8 179.5a1.25 1.25 0 1 0 2.5 0a1.25 1.25 0 1 0 -2.5 0M85.5 197.8a1.25 1.25 0 1 0 2.5 0a1.25 1.25 0 1 0 -2.5 0M100.4 192.8a1.25 1.25 0 1 0 2.5 0a1.25 1.25 0 1 0 -2.5 0M83.7 176.0a1.25 1.25 0 1 0 2.5 0a1.25 1.25 0 1 0 -2.5 0M86.6 180.0a1.25 1.25 0 1 0 2.5 0a1.25 1.25 0 1 0 -2.5 0M90.0 184.5a1.25 1.25 0 1 0 2.5 0a1.25 1.25 0 1 0 -2.5 0" fill="#179A74" stroke="#0e7a5a" stroke-width="0.3"/>
<path d="M81.0 215.6a1.1 1.1 0 1 0 2.2 0a1.1 1.1 0 1 0 -2.2 0M113.4 211.3a1.1 1.1 0 1 0 2.2 0a1.1 1.1 0 1 0 -2.2 0M124.2 224.0a1.1 1.1 0 1 0 2.2 0a1.1 1.1 0 1 0 -2.2 0M117.6 213.8a1.1 1.1 0 1 0 2.2 0a1.1 1.1 0 1 0 -2.2 0M102.4 227.7a1.1 1.1 0 1 0 2.2 0a1.1 1.1 0 1 0 -2.2 0M124.0 230.7a1.1 1.1 0 1 0 2.2 0a1.1 1.1 0 1 0 -2.2 0M125.0 225.2a1.1 1.1 0 1 0 2.2 0a1.1 1.1 0 1 0 -2.2 0M116.4 218.3a1.1 1.1 0 1 0 2.2 0a1.1 1.1 0 1 0 -2.2 0M119.3 232.4a1.1 1.1 0 1 0 2.2 0a1.1 1.1 0 1 0 -2.2 0M129.1 228.0a1.1 1.1 0 1 0 2.2 0a1.1 1.1 0 1 0 -2.2 0M118.8 232.5a1.1 1.1 0 1 0 2.2 0a1.1 1.1 0 1 0 -2.2 0M112.8 220.2a1.1 1.1 0 1 0 2.2 0a1.1 1.1 0 1 0 -2.2 0M102.0 222.1a1.1 1.1 0 1 0 2.2 0a1.1 1.1 0 1 0 -2.2 0M116.8 231.7a1.1 1.1 0 1 0 2.2 0a1.1 1.1 0 1 0 -2.2 0M93.0 223.3a1.1 1.1 0 1 0 2.2 0a1.1 1.1 0 1 0 -2.2 0M108.3 213.6a1.1 1.1 0 1 0 2.2 0a1.1 1.1 0 1 0 -2.2 0M82.1 217.1a1.1 1.1 0 1 0 2.2 0a1.1 1.1 0 1 0 -2.2 0M101.1 212.0a1.1 1.1 0 1 0 2.2 0a1.1 1.1 0 1 0 -2.2 0M95.7 209.9a1.1 1.1 0 1 0 2.2 0a1.1 1.1 0 1 0 -2.2 0M117.1 227.3a1.1 1.1 0 1 0 2.2 0a1.1 1.1 0 1 0 -2.2 0M91.7 213.4a1.1 1.1 0 1 0 2.2 0a1.1 1.1 0 1 0 -2.2 0M106.7 220.0a1.1 1.1 0 1 0 2.2 0a1.1 1.1 0 1 0 -2.2 0M86.6 223.8a1.1 1.1 0 1 0 2.2 0a1.1 1.1 0 1 0 -2.2 0M108.5 230.2a1.1 1.1 0 1 0 2.2 0a1.1 1.1 0 1 0 -2.2 0M88.0 227.2a1.1 1.1 0 1 0 2.2 0a1.1 1.1 0 1 0 -2.2 0M111.2 220.5a1.1 1.1 0 1 0 2.2 0a1.1 1.1 0 1 0 -2.2 0M120.3 232.5a1.1 1.1 0 1 0 2.2 0a1.1 1.1 0 1 0 -2.2 0M85.1 214.9a1.1 1.1 0 1 0 2.2 0a1.1 1.1 0 1 0 -2.2 0M98.4 212.2a1.1 1.1 0 1 0 2.2 0a1.1 1.1 0 1 0 -2.2 0M89.5 228.3a1.1 1.1 0 1 0 2.2 0a1.1 1.1 0 1 0 -2.2 0M103.1 209.2a1.1 1.1 0 1 0 2.2 0a1.1 1.1 0 1 0 -2.2 0M96.4 220.7a1.1 1.1 0 1 0 2.2 0a1.1 1.1 0 1 0 -2.2 0M98.5 211.0a1.1 1.1 0 1 0 2.2 0a1.1 1.1 0 1 0 -2.2 0M84.8 221.4a1.1 1.1 0 1 0 2.2 0a1.1 1.1 0 1 0 -2.2 0M102.3 211.7a1.1 1.1 0 1 0 2.2 0a1.1 1.1 0 1 0 -2.2 0M108.2 205.8a1.1 1.1 0 1 0 2.2 0a1.1 1.1 0 1 0 -2.2 0M128.6 226.4a1.1 1.1 0 1 0 2.2 0a1.1 1.1 0 1 0 -2.2 0M114.1 213.7a1.1 1.1 0 1 0 2.2 0a1.1 1.1 0 1 0 -2.2 0M124.2 215.1a1.1 1.1 0 1 0 2.2 0a1.1 1.1 0 1 0 -2.2 0M88.9 226.2a1.1 1.1 0 1 0 2.2 0a1.1 1.1 0 1 0 -2.2 0M124.6 235.6a1.1 1.1 0 1 0 2.2 0a1.1 1.1 0 1 0 -2.2 0M88.0 231.0a1.1 1.1 0 1 0 2.2 0a1.1 1.1 0 1 0 -2.2 0M123.7 229.6a1.1 1.1 0 1 0 2.2 0a1.1 1.1 0 1 0 -2.2 0M96.5 211.5a1.1 1.1 0 1 0 2.2 0a1.1 1.1 0 1 0 -2.2 0M123.5 215.9a1.1 1.1 0 1 0 2.2 0a1.1 1.1 0 1 0 -2.2 0M98.8 223.4a1.1 1.1 0 1 0 2.2 0a1.1 1.1 0 1 0 -2.2 0M109.5 225.9a1.1 1.1 0 1 0 2.2 0a1.1 1.1 0 1 0 -2.2 0M123.2 228.4a1.1 1.1 0 1 0 2.2 0a1.1 1.1 0 1 0 -2.2 0M127.8 236.2a1.1 1.1 0 1 0 2.2 0a1.1 1.1 0 1 0 -2.2 0M105.6 221.7a1.1 1.1 0 1 0 2.2 0a1.1 1.1 0 1 0 -2.2 0M87.4 215.2a1.1 1.1 0 1 0 2.2 0a1.1 1.1 0 1 0 -2.2 0M110.3 208.1a1.1 1.1 0 1 0 2.2 0a1.1 1.1 0 1 0 -2.2 0M116.1 210.8a1.1 1.1 0 1 0 2.2 0a1.1 1.1 0 1 0 -2.2 0M102.6 211.7a1.1 1.1 0 1 0 2.2 0a1.1 1.1 0 1 0 -2.2 0M124.3 233.3a1.1 1.1 0 1 0 2.2 0a1.1 1.1 0 1 0 -2.2 0M121.4 219.3a1.1 1.1 0 1 0 2.2 0a1.1 1.1 0 1 0 -2.2 0M94.2 227.0a1.1 1.1 0 1 0 2.2 0a1.1 1.1 0 1 0 -2.2 0M106.7 219.2a1.1 1.1 0 1 0 2.2 0a1.1 1.1 0 1 0 -2.2 0M97.2 219.8a1.1 1.1 0 1 0 2.2 0a1.1 1.1 0 1 0 -2.2 0M114.9 232.3a1.1 1.1 0 1 0 2.2 0a1.1 1.1 0 1 0 -2.2 0M94.9 219.9a1.1 1.1 0 1 0 2.2 0a1.1 1.1 0 1 0 -2.2 0M109.3 216.8a1.1 1.1 0 1 0 2.2 0a1.1 1.1 0 1 0 -2.2 0M96.4 220.5a1.1 1.1 0 1 0 2.2 0a1.1 1.1 0 1 0 -2.2 0M125.6 237.2a1.1 1.1 0 1 0 2.2 0a1.1 1.1 0 1 0 -2.2 0M130.8 225.6a1.1 1.1 0 1 0 2.2 0a1.1 1.1 0 1 0 -2.2 0M115.4 225.3a1.1 1.1 0 1 0 2.2 0a1.1 1.1 0 1 0 -2.2 0M94.9 224.1a1.1 1.1 0 1 0 2.2 0a1.1 1.1 0 1 0 -2.2 0M113.9 215.2a1.1 1.1 0 1 0 2.2 0a1.1 1.1 0 1 0 -2.2 0M115.5 220.0a1.1 1.1 0 1 0 2.2 0a1.1 1.1 0 1 0 -2.2 0M83.5 227.0a1.1 1.1 0 1 0 2.2 0a1.1 1.1 0 1 0 -2.2 0M99.0 224.4a1.1 1.1 0 1 0 2.2 0a1.1 1.1 0 1 0 -2.2 0M101.4 222.7a1.1 1.1 0 1 0 2.2 0a1.1 1.1 0 1 0 -2.2 0M109.4 218.4a1.1 1.1 0 1 0 2.2 0a1.1 1.1 0 1 0 -2.2 0M127.0 223.3a1.1 1.1 0 1 0 2.2 0a1.1 1.1 0 1 0 -2.2 0M107.6 213.7a1.1 1.1 0 1 0 2.2 0a1.1 1.1 0 1 0 -2.2 0M105.3 223.5a1.1 1.1 0 1 0 2.2 0a1.1 1.1 0 1 0 -2.2 0M91.1 224.1a1.1 1.1 0 1 0 2.2 0a1.1 1.1 0 1 0 -2.2 0M85.0 222.2a1.1 1.1 0 1 0 2.2 0a1.1 1.1 0 1 0 -2.2 0M110.7 208.1a1.1 1.1 0 1 0 2.2 0a1.1 1.1 0 1 0 -2.2 0M100.9 207.9a1.1 1.1 0 1 0 2.2 0a1.1 1.1 0 1 0 -2.2 0M108.6 228.7a1.1 1.1 0 1 0 2.2 0a1.1 1.1 0 1 0 -2.2 0M132.4 229.0a1.1 1.1 0 1 0 2.2 0a1.1 1.1 0 1 0 -2.2 0M100.1 211.1a1.1 1.1 0 1 0 2.2 0a1.1 1.1 0 1 0 -2.2 0M91.7 217.6a1.1 1.1 0 1 0 2.2 0a1.1 1.1 0 1 0 -2.2 0M90.4 215.2a1.1 1.1 0 1 0 2.2 0a1.1 1.1 0 1 0 -2.2 0M117.1 219.3a1.1 1.1 0 1 0 2.2 0a1.1 1.1 0 1 0 -2.2 0M126.9 225.7a1.1 1.1 0 1 0 2.2 0a1.1 1.1 0 1 0 -2.2 0M126.0 223.8a1.1 1.1 0 1 0 2.2 0a1.1 1.1 0 1 0 -2.2 0M128.4 233.8a1.1 1.1 0 1 0 2.2 0a1.1 1.1 0 1 0 -2.2 0M88.0 229.7a1.1 1.1 0 1 0 2.2 0a1.1 1.1 0 1 0 -2.2 0M97.3 230.3a1.1 1.1 0 1 0 2.2 0a1.1 1.1 0 1 0 -2.2 0M115.6 232.3a1.1 1.1 0 1 0 2.2 0a1.1 1.1 0 1 0 -2.2 0M85.5 217.6a1.1 1.1 0 1 0 2.2 0a1.1 1.1 0 1 0 -2.2 0M111.5 208.7a1.1 1.1 0 1 0 2.2 0a1.1 1.1 0 1 0 -2.2 0M108.5 231.6a1.1 1.1 0 1 0 2.2 0a1.1 1.1 0 1 0 -2.2 0M115.4 213.8a1.1 1.1 0 1 0 2.2 0a1.1 1.1 0 1 0 -2.2 0M89.3 220.0a1.1 1.1 0 1 0 2.2 0a1.1 1.1 0 1 0 -2.2 0M124.2 224.4a1.1 1.1 0 1 0 2.2 0a1.1 1.1 0 1 0 -2.2 0M88.9 223.5a1.1 1.1 0 1 0 2.2 0a1.1 1.1 0 1 0 -2.2 0M94.6 227.8a1.1 1.1 0 1 0 2.2 0a1.1 1.1 0 1 0 -2.2 0M99.5 210.2a1.1 1.1 0 1 0 2.2 0a1.1 1.1 0 1 0 -2.2 0M126.2 223.0a1.1 1.1 0 1 0 2.2 0a1.1 1.1 0 1 0 -2.2 0M116.1 231.8a1.1 1.1 0 1 0 2.2 0a1.1 1.1 0 1 0 -2.2 0M97.4 210.4a1.1 1.1 0 1 0 2.2 0a1.1 1.1 0 1 0 -2.2 0M115.6 218.3a1.1 1.1 0 1 0 2.2 0a1.1 1.1 0 1 0 -2.2 0M104.6 210.6a1.1 1.1 0 1 0 2.2 0a1.1 1.1 0 1 0 -2.2 0M124.5 218.3a1.1 1.1 0 1 0 2.2 0a1.1 1.1 0 1 0 -2.2 0M126.0 225.4a1.1 1.1 0 1 0 2.2 0a1.1 1.1 0 1 0 -2.2 0M83.0 216.2a1.1 1.1 0 1 0 2.2 0a1.1 1.1 0 1 0 -2.2 0M88.1 217.2a1.1 1.1 0 1 0 2.2 0a1.1 1.1 0 1 0 -2.2 0M104.2 224.3a1.1 1.1 0 1 0 2.2 0a1.1 1.1 0 1 0 -2.2 0M99.8 217.0a1.1 1.1 0 1 0 2.2 0a1.1 1.1 0 1 0 -2.2 0M115.1 214.4a1.1 1.1 0 1 0 2.2 0a1.1 1.1 0 1 0 -2.2 0M93.7 221.8a1.1 1.1 0 1 0 2.2 0a1.1 1.1 0 1 0 -2.2 0M93.1 224.0a1.1 1.1 0 1 0 2.2 0a1.1 1.1 0 1 0 -2.2 0M109.2 230.6a1.1 1.1 0 1 0 2.2 0a1.1 1.1 0 1 0 -2.2 0M126.0 230.7a1.1 1.1 0 1 0 2.2 0a1.1 1.1 0 1 0 -2.2 0M113.1 226.1a1.1 1.1 0 1 0 2.2 0a1.1 1.1 0 1 0 -2.2 0M98.5 214.7a1.1 1.1 0 1 0 2.2 0a1.1 1.1 0 1 0 -2.2 0M121.8 233.9a1.1 1.1 0 1 0 2.2 0a1.1 1.1 0 1 0 -2.2 0M129.6 227.6a1.1 1.1 0 1 0 2.2 0a1.1 1.1 0 1 0 -2.2 0M95.3 230.3a1.1 1.1 0 1 0 2.2 0a1.1 1.1 0 1 0 -2.2 0M118.8 222.0a1.1 1.1 0 1 0 2.2 0a1.1 1.1 0 1 0 -2.2 0M113.2 216.9a1.1 1.1 0 1 0 2.2 0a1.1 1.1 0 1 0 -2.2 0M108.6 218.7a1.1 1.1 0 1 0 2.2 0a1.1 1.1 0 1 0 -2.2 0M82.2 216.5a1.1 1.1 0 1 0 2.2 0a1.1 1.1 0 1 0 -2.2 0M104.9 217.4a1.1 1.1 0 1 0 2.2 0a1.1 1.1 0 1 0 -2.2 0M92.0 213.1a1.1 1.1 0 1 0 2.2 0a1.1 1.1 0 1 0 -2.2 0M97.8 209.9a1.1 1.1 0 1 0 2.2 0a1.1 1.1 0 1 0 -2.2 0M103.4 220.0a1.1 1.1 0 1 0 2.2 0a1.1 1.1 0 1 0 -2.2 0M109.6 215.3a1.1 1.1 0 1 0 2.2 0a1.1 1.1 0 1 0 -2.2 0M95.2 215.5a1.1 1.1 0 1 0 2.2 0a1.1 1.1 0 1 0 -2.2 0M118.1 223.4a1.1 1.1 0 1 0 2.2 0a1.1 1.1 0 1 0 -2.2 0M128.6 224.5a1.1 1.1 0 1 0 2.2 0a1.1 1.1 0 1 0 -2.2 0M98.2 230.7a1.1 1.1 0 1 0 2.2 0a1.1 1.1 0 1 0 -2.2 0M129.2 224.7a1.1 1.1 0 1 0 2.2 0a1.1 1.1 0 1 0 -2.2 0M143.2 248.6a1.1 1.1 0 1 0 2.2 0a1.1 1.1 0 1 0 -2.2 0M147.4 252.5a1.1 1.1 0 1 0 2.2 0a1.1 1.1 0 1 0 -2.2 0M149.8 249.0a1.1 1.1 0 1 0 2.2 0a1.1 1.1 0 1 0 -2.2 0M129.9 235.5a1.1 1.1 0 1 0 2.2 0a1.1 1.1 0 1 0 -2.2 0M134.4 244.0a1.1 1.1 0 1 0 2.2 0a1.1 1.1 0 1 0 -2.2 0M134.6 233.8a1.1 1.1 0 1 0 2.2 0a1.1 1.1 0 1 0 -2.2 0M143.5 243.0a1.1 1.1 0 1 0 2.2 0a1.1 1.1 0 1 0 -2.2 0M141.7 240.3a1.1 1.1 0 1 0 2.2 0a1.1 1.1 0 1 0 -2.2 0M146.7 244.5a1.1 1.1 0 1 0 2.2 0a1.1 1.1 0 1 0 -2.2 0M148.6 253.1a1.1 1.1 0 1 0 2.2 0a1.1 1.1 0 1 0 -2.2 0M139.1 240.2a1.1 1.1 0 1 0 2.2 0a1.1 1.1 0 1 0 -2.2 0M124.8 219.4a1.1 1.1 0 1 0 2.2 0a1.1 1.1 0 1 0 -2.2 0M147.5 250.9a1.1 1.1 0 1 0 2.2 0a1.1 1.1 0 1 0 -2.2 0M132.3 231.4a1.1 1.1 0 1 0 2.2 0a1.1 1.1 0 1 0 -2.2 0M130.8 236.8a1.1 1.1 0 1 0 2.2 0a1.1 1.1 0 1 0 -2.2 0M147.9 246.9a1.1 1.1 0 1 0 2.2 0a1.1 1.1 0 1 0 -2.2 0M142.4 249.3a1.1 1.1 0 1 0 2.2 0a1.1 1.1 0 1 0 -2.2 0M135.4 245.2a1.1 1.1 0 1 0 2.2 0a1.1 1.1 0 1 0 -2.2 0M127.0 220.7a1.1 1.1 0 1 0 2.2 0a1.1 1.1 0 1 0 -2.2 0M146.8 249.3a1.1 1.1 0 1 0 2.2 0a1.1 1.1 0 1 0 -2.2 0M127.8 233.5a1.1 1.1 0 1 0 2.2 0a1.1 1.1 0 1 0 -2.2 0M128.2 231.1a1.1 1.1 0 1 0 2.2 0a1.1 1.1 0 1 0 -2.2 0M135.2 233.9a1.1 1.1 0 1 0 2.2 0a1.1 1.1 0 1 0 -2.2 0M137.0 236.3a1.1 1.1 0 1 0 2.2 0a1.1 1.1 0 1 0 -2.2 0M143.4 251.1a1.1 1.1 0 1 0 2.2 0a1.1 1.1 0 1 0 -2.2 0M132.0 238.4a1.1 1.1 0 1 0 2.2 0a1.1 1.1 0 1 0 -2.2 0M131.4 239.2a1.1 1.1 0 1 0 2.2 0a1.1 1.1 0 1 0 -2.2 0M140.7 238.5a1.1 1.1 0 1 0 2.2 0a1.1 1.1 0 1 0 -2.2 0M131.0 238.5a1.1 1.1 0 1 0 2.2 0a1.1 1.1 0 1 0 -2.2 0M139.0 242.9a1.1 1.1 0 1 0 2.2 0a1.1 1.1 0 1 0 -2.2 0M138.6 239.6a1.1 1.1 0 1 0 2.2 0a1.1 1.1 0 1 0 -2.2 0M150.4 249.8a1.1 1.1 0 1 0 2.2 0a1.1 1.1 0 1 0 -2.2 0M128.8 224.1a1.1 1.1 0 1 0 2.2 0a1.1 1.1 0 1 0 -2.2 0M127.2 228.3a1.1 1.1 0 1 0 2.2 0a1.1 1.1 0 1 0 -2.2 0M139.2 245.9a1.1 1.1 0 1 0 2.2 0a1.1 1.1 0 1 0 -2.2 0M130.3 236.8a1.1 1.1 0 1 0 2.2 0a1.1 1.1 0 1 0 -2.2 0M125.7 221.1a1.1 1.1 0 1 0 2.2 0a1.1 1.1 0 1 0 -2.2 0M144.3 248.4a1.1 1.1 0 1 0 2.2 0a1.1 1.1 0 1 0 -2.2 0M130.4 230.9a1.1 1.1 0 1 0 2.2 0a1.1 1.1 0 1 0 -2.2 0M137.0 239.9a1.1 1.1 0 1 0 2.2 0a1.1 1.1 0 1 0 -2.2 0M136.2 237.1a1.1 1.1 0 1 0 2.2 0a1.1 1.1 0 1 0 -2.2 0M135.8 240.6a1.1 1.1 0 1 0 2.2 0a1.1 1.1 0 1 0 -2.2 0M140.3 247.0a1.1 1.1 0 1 0 2.2 0a1.1 1.1 0 1 0 -2.2 0M145.4 243.6a1.1 1.1 0 1 0 2.2 0a1.1 1.1 0 1 0 -2.2 0M124.3 245.4a1.1 1.1 0 1 0 2.2 0a1.1 1.1 0 1 0 -2.2 0M129.5 251.0a1.1 1.1 0 1 0 2.2 0a1.1 1.1 0 1 0 -2.2 0M91.8 236.7a1.1 1.1 0 1 0 2.2 0a1.1 1.1 0 1 0 -2.2 0M90.8 233.3a1.1 1.1 0 1 0 2.2 0a1.1 1.1 0 1 0 -2.2 0M128.6 245.7a1.1 1.1 0 1 0 2.2 0a1.1 1.1 0 1 0 -2.2 0M126.1 243.6a1.1 1.1 0 1 0 2.2 0a1.1 1.1 0 1 0 -2.2 0M109.1 246.2a1.1 1.1 0 1 0 2.2 0a1.1 1.1 0 1 0 -2.2 0M104.3 244.5a1.1 1.1 0 1 0 2.2 0a1.1 1.1 0 1 0 -2.2 0M100.8 237.8a1.1 1.1 0 1 0 2.2 0a1.1 1.1 0 1 0 -2.2 0M103.1 237.6a1.1 1.1 0 1 0 2.2 0a1.1 1.1 0 1 0 -2.2 0M134.7 245.4a1.1 1.1 0 1 0 2.2 0a1.1 1.1 0 1 0 -2.2 0M114.5 241.9a1.1 1.1 0 1 0 2.2 0a1.1 1.1 0 1 0 -2.2 0M135.2 251.9a1.1 1.1 0 1 0 2.2 0a1.1 1.1 0 1 0 -2.2 0M96.6 232.4a1.1 1.1 0 1 0 2.2 0a1.1 1.1 0 1 0 -2.2 0M116.0 240.7a1.1 1.1 0 1 0 2.2 0a1.1 1.1 0 1 0 -2.2 0M111.8 243.7a1.1 1.1 0 1 0 2.2 0a1.1 1.1 0 1 0 -2.2 0M118.8 240.5a1.1 1.1 0 1 0 2.2 0a1.1 1.1 0 1 0 -2.2 0M115.8 241.6a1.1 1.1 0 1 0 2.2 0a1.1 1.1 0 1 0 -2.2 0M117.7 239.4a1.1 1.1 0 1 0 2.2 0a1.1 1.1 0 1 0 -2.2 0M131.4 246.4a1.1 1.1 0 1 0 2.2 0a1.1 1.1 0 1 0 -2.2 0M119.5 235.7a1.1 1.1 0 1 0 2.2 0a1.1 1.1 0 1 0 -2.2 0M131.3 244.0a1.1 1.1 0 1 0 2.2 0a1.1 1.1 0 1 0 -2.2 0M124.0 248.5a1.1 1.1 0 1 0 2.2 0a1.1 1.1 0 1 0 -2.2 0M102.0 236.5a1.1 1.1 0 1 0 2.2 0a1.1 1.1 0 1 0 -2.2 0M90.8 233.5a1.1 1.1 0 1 0 2.2 0a1.1 1.1 0 1 0 -2.2 0M130.4 255.7a1.1 1.1 0 1 0 2.2 0a1.1 1.1 0 1 0 -2.2 0M109.0 248.1a1.1 1.1 0 1 0 2.2 0a1.1 1.1 0 1 0 -2.2 0M101.9 237.0a1.1 1.1 0 1 0 2.2 0a1.1 1.1 0 1 0 -2.2 0M118.7 239.3a1.1 1.1 0 1 0 2.2 0a1.1 1.1 0 1 0 -2.2 0M131.3 256.5a1.1 1.1 0 1 0 2.2 0a1.1 1.1 0 1 0 -2.2 0M106.9 247.7a1.1 1.1 0 1 0 2.2 0a1.1 1.1 0 1 0 -2.2 0M97.9 245.2a1.1 1.1 0 1 0 2.2 0a1.1 1.1 0 1 0 -2.2 0" fill="#D05E12" stroke="#9e4408" stroke-width="0.3"/>
<path d="M91.3 275.9a1.4 1.4 0 1 0 2.8 0a1.4 1.4 0 1 0 -2.8 0M137.0 274.3a1.4 1.4 0 1 0 2.8 0a1.4 1.4 0 1 0 -2.8 0M133.5 260.1a1.4 1.4 0 1 0 2.8 0a1.4 1.4 0 1 0 -2.8 0M152.2 278.7a1.4 1.4 0 1 0 2.8 0a1.4 1.4 0 1 0 -2.8 0M105.5 270.7a1.4 1.4 0 1 0 2.8 0a1.4 1.4 0 1 0 -2.8 0M138.6 277.3a1.4 1.4 0 1 0 2.8 0a1.4 1.4 0 1 0 -2.8 0M119.5 293.9a1.4 1.4 0 1 0 2.8 0a1.4 1.4 0 1 0 -2.8 0M127.6 279.3a1.4 1.4 0 1 0 2.8 0a1.4 1.4 0 1 0 -2.8 0M91.0 261.3a1.4 1.4 0 1 0 2.8 0a1.4 1.4 0 1 0 -2.8 0M145.5 265.2a1.4 1.4 0 1 0 2.8 0a1.4 1.4 0 1 0 -2.8 0M127.7 298.5a1.4 1.4 0 1 0 2.8 0a1.4 1.4 0 1 0 -2.8 0M131.9 257.3a1.4 1.4 0 1 0 2.8 0a1.4 1.4 0 1 0 -2.8 0M108.6 275.2a1.4 1.4 0 1 0 2.8 0a1.4 1.4 0 1 0 -2.8 0M102.4 288.4a1.4 1.4 0 1 0 2.8 0a1.4 1.4 0 1 0 -2.8 0M97.5 290.4a1.4 1.4 0 1 0 2.8 0a1.4 1.4 0 1 0 -2.8 0M106.1 258.1a1.4 1.4 0 1 0 2.8 0a1.4 1.4 0 1 0 -2.8 0M124.9 259.3a1.4 1.4 0 1 0 2.8 0a1.4 1.4 0 1 0 -2.8 0M124.3 290.5a1.4 1.4 0 1 0 2.8 0a1.4 1.4 0 1 0 -2.8 0M127.5 275.8a1.4 1.4 0 1 0 2.8 0a1.4 1.4 0 1 0 -2.8 0M87.0 278.1a1.4 1.4 0 1 0 2.8 0a1.4 1.4 0 1 0 -2.8 0M91.6 284.1a1.4 1.4 0 1 0 2.8 0a1.4 1.4 0 1 0 -2.8 0M94.1 281.0a1.4 1.4 0 1 0 2.8 0a1.4 1.4 0 1 0 -2.8 0M110.0 271.9a1.4 1.4 0 1 0 2.8 0a1.4 1.4 0 1 0 -2.8 0M132.3 262.4a1.4 1.4 0 1 0 2.8 0a1.4 1.4 0 1 0 -2.8 0M108.5 292.9a1.4 1.4 0 1 0 2.8 0a1.4 1.4 0 1 0 -2.8 0M147.5 276.6a1.4 1.4 0 1 0 2.8 0a1.4 1.4 0 1 0 -2.8 0M95.3 259.2a1.4 1.4 0 1 0 2.8 0a1.4 1.4 0 1 0 -2.8 0M120.3 279.1a1.4 1.4 0 1 0 2.8 0a1.4 1.4 0 1 0 -2.8 0M93.1 276.1a1.4 1.4 0 1 0 2.8 0a1.4 1.4 0 1 0 -2.8 0M96.4 279.1a1.4 1.4 0 1 0 2.8 0a1.4 1.4 0 1 0 -2.8 0M118.1 287.3a1.4 1.4 0 1 0 2.8 0a1.4 1.4 0 1 0 -2.8 0M121.5 292.8a1.4 1.4 0 1 0 2.8 0a1.4 1.4 0 1 0 -2.8 0M121.0 290.2a1.4 1.4 0 1 0 2.8 0a1.4 1.4 0 1 0 -2.8 0M120.9 298.6a1.4 1.4 0 1 0 2.8 0a1.4 1.4 0 1 0 -2.8 0M115.1 287.4a1.4 1.4 0 1 0 2.8 0a1.4 1.4 0 1 0 -2.8 0M126.8 288.7a1.4 1.4 0 1 0 2.8 0a1.4 1.4 0 1 0 -2.8 0M116.0 288.2a1.4 1.4 0 1 0 2.8 0a1.4 1.4 0 1 0 -2.8 0M117.0 283.9a1.4 1.4 0 1 0 2.8 0a1.4 1.4 0 1 0 -2.8 0M121.2 296.6a1.4 1.4 0 1 0 2.8 0a1.4 1.4 0 1 0 -2.8 0M121.8 291.0a1.4 1.4 0 1 0 2.8 0a1.4 1.4 0 1 0 -2.8 0M123.2 288.6a1.4 1.4 0 1 0 2.8 0a1.4 1.4 0 1 0 -2.8 0M118.5 287.0a1.4 1.4 0 1 0 2.8 0a1.4 1.4 0 1 0 -2.8 0M121.4 286.0a1.4 1.4 0 1 0 2.8 0a1.4 1.4 0 1 0 -2.8 0M118.9 285.6a1.4 1.4 0 1 0 2.8 0a1.4 1.4 0 1 0 -2.8 0M116.8 282.1a1.4 1.4 0 1 0 2.8 0a1.4 1.4 0 1 0 -2.8 0M120.4 285.6a1.4 1.4 0 1 0 2.8 0a1.4 1.4 0 1 0 -2.8 0M120.7 294.9a1.4 1.4 0 1 0 2.8 0a1.4 1.4 0 1 0 -2.8 0M121.4 287.3a1.4 1.4 0 1 0 2.8 0a1.4 1.4 0 1 0 -2.8 0M117.7 281.8a1.4 1.4 0 1 0 2.8 0a1.4 1.4 0 1 0 -2.8 0M121.5 282.9a1.4 1.4 0 1 0 2.8 0a1.4 1.4 0 1 0 -2.8 0M121.7 281.8a1.4 1.4 0 1 0 2.8 0a1.4 1.4 0 1 0 -2.8 0M120.9 287.1a1.4 1.4 0 1 0 2.8 0a1.4 1.4 0 1 0 -2.8 0M123.1 285.4a1.4 1.4 0 1 0 2.8 0a1.4 1.4 0 1 0 -2.8 0M119.7 288.8a1.4 1.4 0 1 0 2.8 0a1.4 1.4 0 1 0 -2.8 0M120.7 296.4a1.4 1.4 0 1 0 2.8 0a1.4 1.4 0 1 0 -2.8 0M120.0 284.7a1.4 1.4 0 1 0 2.8 0a1.4 1.4 0 1 0 -2.8 0M119.8 290.0a1.4 1.4 0 1 0 2.8 0a1.4 1.4 0 1 0 -2.8 0M121.2 291.2a1.4 1.4 0 1 0 2.8 0a1.4 1.4 0 1 0 -2.8 0M117.1 300.6a1.4 1.4 0 1 0 2.8 0a1.4 1.4 0 1 0 -2.8 0M125.2 287.3a1.4 1.4 0 1 0 2.8 0a1.4 1.4 0 1 0 -2.8 0M117.6 288.3a1.4 1.4 0 1 0 2.8 0a1.4 1.4 0 1 0 -2.8 0M121.6 275.7a1.4 1.4 0 1 0 2.8 0a1.4 1.4 0 1 0 -2.8 0M120.6 279.7a1.4 1.4 0 1 0 2.8 0a1.4 1.4 0 1 0 -2.8 0M121.7 294.8a1.4 1.4 0 1 0 2.8 0a1.4 1.4 0 1 0 -2.8 0M123.2 279.5a1.4 1.4 0 1 0 2.8 0a1.4 1.4 0 1 0 -2.8 0M124.1 292.3a1.4 1.4 0 1 0 2.8 0a1.4 1.4 0 1 0 -2.8 0M119.7 290.2a1.4 1.4 0 1 0 2.8 0a1.4 1.4 0 1 0 -2.8 0M124.4 285.7a1.4 1.4 0 1 0 2.8 0a1.4 1.4 0 1 0 -2.8 0M120.6 284.5a1.4 1.4 0 1 0 2.8 0a1.4 1.4 0 1 0 -2.8 0M123.5 276.1a1.4 1.4 0 1 0 2.8 0a1.4 1.4 0 1 0 -2.8 0M124.2 282.4a1.4 1.4 0 1 0 2.8 0a1.4 1.4 0 1 0 -2.8 0M122.9 278.9a1.4 1.4 0 1 0 2.8 0a1.4 1.4 0 1 0 -2.8 0M118.3 284.3a1.4 1.4 0 1 0 2.8 0a1.4 1.4 0 1 0 -2.8 0M122.7 278.9a1.4 1.4 0 1 0 2.8 0a1.4 1.4 0 1 0 -2.8 0M122.1 284.1a1.4 1.4 0 1 0 2.8 0a1.4 1.4 0 1 0 -2.8 0M123.7 285.9a1.4 1.4 0 1 0 2.8 0a1.4 1.4 0 1 0 -2.8 0M121.8 286.6a1.4 1.4 0 1 0 2.8 0a1.4 1.4 0 1 0 -2.8 0M125.1 285.6a1.4 1.4 0 1 0 2.8 0a1.4 1.4 0 1 0 -2.8 0M120.5 298.0a1.4 1.4 0 1 0 2.8 0a1.4 1.4 0 1 0 -2.8 0M120.8 291.1a1.4 1.4 0 1 0 2.8 0a1.4 1.4 0 1 0 -2.8 0M148.1 284.8a1.4 1.4 0 1 0 2.8 0a1.4 1.4 0 1 0 -2.8 0M146.0 284.4a1.4 1.4 0 1 0 2.8 0a1.4 1.4 0 1 0 -2.8 0M148.2 278.2a1.4 1.4 0 1 0 2.8 0a1.4 1.4 0 1 0 -2.8 0M147.2 288.4a1.4 1.4 0 1 0 2.8 0a1.4 1.4 0 1 0 -2.8 0M149.7 278.2a1.4 1.4 0 1 0 2.8 0a1.4 1.4 0 1 0 -2.8 0M151.5 281.3a1.4 1.4 0 1 0 2.8 0a1.4 1.4 0 1 0 -2.8 0M148.6 284.9a1.4 1.4 0 1 0 2.8 0a1.4 1.4 0 1 0 -2.8 0M147.6 277.8a1.4 1.4 0 1 0 2.8 0a1.4 1.4 0 1 0 -2.8 0M148.1 288.5a1.4 1.4 0 1 0 2.8 0a1.4 1.4 0 1 0 -2.8 0M150.4 277.9a1.4 1.4 0 1 0 2.8 0a1.4 1.4 0 1 0 -2.8 0M150.7 284.1a1.4 1.4 0 1 0 2.8 0a1.4 1.4 0 1 0 -2.8 0M149.8 284.2a1.4 1.4 0 1 0 2.8 0a1.4 1.4 0 1 0 -2.8 0M149.7 280.1a1.4 1.4 0 1 0 2.8 0a1.4 1.4 0 1 0 -2.8 0M147.9 281.3a1.4 1.4 0 1 0 2.8 0a1.4 1.4 0 1 0 -2.8 0M148.6 286.4a1.4 1.4 0 1 0 2.8 0a1.4 1.4 0 1 0 -2.8 0M147.5 290.1a1.4 1.4 0 1 0 2.8 0a1.4 1.4 0 1 0 -2.8 0M99.2 281.9a1.4 1.4 0 1 0 2.8 0a1.4 1.4 0 1 0 -2.8 0M104.3 283.8a1.4 1.4 0 1 0 2.8 0a1.4 1.4 0 1 0 -2.8 0M100.3 280.9a1.4 1.4 0 1 0 2.8 0a1.4 1.4 0 1 0 -2.8 0M97.8 279.9a1.4 1.4 0 1 0 2.8 0a1.4 1.4 0 1 0 -2.8 0M106.0 285.1a1.4 1.4 0 1 0 2.8 0a1.4 1.4 0 1 0 -2.8 0M108.8 284.0a1.4 1.4 0 1 0 2.8 0a1.4 1.4 0 1 0 -2.8 0M102.9 284.5a1.4 1.4 0 1 0 2.8 0a1.4 1.4 0 1 0 -2.8 0M105.3 282.5a1.4 1.4 0 1 0 2.8 0a1.4 1.4 0 1 0 -2.8 0M103.0 287.1a1.4 1.4 0 1 0 2.8 0a1.4 1.4 0 1 0 -2.8 0M95.1 280.3a1.4 1.4 0 1 0 2.8 0a1.4 1.4 0 1 0 -2.8 0M97.9 284.5a1.4 1.4 0 1 0 2.8 0a1.4 1.4 0 1 0 -2.8 0M106.2 282.3a1.4 1.4 0 1 0 2.8 0a1.4 1.4 0 1 0 -2.8 0M119.2 267.9a1.4 1.4 0 1 0 2.8 0a1.4 1.4 0 1 0 -2.8 0M117.8 267.0a1.4 1.4 0 1 0 2.8 0a1.4 1.4 0 1 0 -2.8 0M116.5 268.0a1.4 1.4 0 1 0 2.8 0a1.4 1.4 0 1 0 -2.8 0M121.0 272.3a1.4 1.4 0 1 0 2.8 0a1.4 1.4 0 1 0 -2.8 0M109.6 269.0a1.4 1.4 0 1 0 2.8 0a1.4 1.4 0 1 0 -2.8 0M116.6 269.9a1.4 1.4 0 1 0 2.8 0a1.4 1.4 0 1 0 -2.8 0M120.7 269.5a1.4 1.4 0 1 0 2.8 0a1.4 1.4 0 1 0 -2.8 0M119.7 266.2a1.4 1.4 0 1 0 2.8 0a1.4 1.4 0 1 0 -2.8 0" fill="#EEDC3C" stroke="#bba724" stroke-width="0.3"/>
<path d="M182.5 273.7a1.25 1.25 0 1 0 2.5 0a1.25 1.25 0 1 0 -2.5 0M161.2 273.5a1.25 1.25 0 1 0 2.5 0a1.25 1.25 0 1 0 -2.5 0M172.0 264.7a1.25 1.25 0 1 0 2.5 0a1.25 1.25 0 1 0 -2.5 0M167.6 274.0a1.25 1.25 0 1 0 2.5 0a1.25 1.25 0 1 0 -2.5 0M174.1 270.3a1.25 1.25 0 1 0 2.5 0a1.25 1.25 0 1 0 -2.5 0M164.7 276.3a1.25 1.25 0 1 0 2.5 0a1.25 1.25 0 1 0 -2.5 0M182.4 275.6a1.25 1.25 0 1 0 2.5 0a1.25 1.25 0 1 0 -2.5 0M159.8 257.2a1.25 1.25 0 1 0 2.5 0a1.25 1.25 0 1 0 -2.5 0M184.9 280.6a1.25 1.25 0 1 0 2.5 0a1.25 1.25 0 1 0 -2.5 0M162.4 276.2a1.25 1.25 0 1 0 2.5 0a1.25 1.25 0 1 0 -2.5 0M168.5 266.0a1.25 1.25 0 1 0 2.5 0a1.25 1.25 0 1 0 -2.5 0M178.9 274.0a1.25 1.25 0 1 0 2.5 0a1.25 1.25 0 1 0 -2.5 0M175.1 274.4a1.25 1.25 0 1 0 2.5 0a1.25 1.25 0 1 0 -2.5 0M157.8 258.0a1.25 1.25 0 1 0 2.5 0a1.25 1.25 0 1 0 -2.5 0M169.8 278.6a1.25 1.25 0 1 0 2.5 0a1.25 1.25 0 1 0 -2.5 0M152.3 269.0a1.25 1.25 0 1 0 2.5 0a1.25 1.25 0 1 0 -2.5 0M158.7 264.9a1.25 1.25 0 1 0 2.5 0a1.25 1.25 0 1 0 -2.5 0M154.2 262.6a1.25 1.25 0 1 0 2.5 0a1.25 1.25 0 1 0 -2.5 0M159.6 266.6a1.25 1.25 0 1 0 2.5 0a1.25 1.25 0 1 0 -2.5 0M151.1 261.1a1.25 1.25 0 1 0 2.5 0a1.25 1.25 0 1 0 -2.5 0M162.5 265.0a1.25 1.25 0 1 0 2.5 0a1.25 1.25 0 1 0 -2.5 0M172.2 277.1a1.25 1.25 0 1 0 2.5 0a1.25 1.25 0 1 0 -2.5 0M159.3 257.7a1.25 1.25 0 1 0 2.5 0a1.25 1.25 0 1 0 -2.5 0M177.0 267.6a1.25 1.25 0 1 0 2.5 0a1.25 1.25 0 1 0 -2.5 0M169.1 273.8a1.25 1.25 0 1 0 2.5 0a1.25 1.25 0 1 0 -2.5 0M167.9 261.9a1.25 1.25 0 1 0 2.5 0a1.25 1.25 0 1 0 -2.5 0M179.8 270.6a1.25 1.25 0 1 0 2.5 0a1.25 1.25 0 1 0 -2.5 0M157.4 260.5a1.25 1.25 0 1 0 2.5 0a1.25 1.25 0 1 0 -2.5 0M176.9 274.0a1.25 1.25 0 1 0 2.5 0a1.25 1.25 0 1 0 -2.5 0M151.2 262.5a1.25 1.25 0 1 0 2.5 0a1.25 1.25 0 1 0 -2.5 0M172.1 274.5a1.25 1.25 0 1 0 2.5 0a1.25 1.25 0 1 0 -2.5 0M184.4 276.0a1.25 1.25 0 1 0 2.5 0a1.25 1.25 0 1 0 -2.5 0M160.4 265.2a1.25 1.25 0 1 0 2.5 0a1.25 1.25 0 1 0 -2.5 0M168.0 269.2a1.25 1.25 0 1 0 2.5 0a1.25 1.25 0 1 0 -2.5 0M173.5 280.9a1.25 1.25 0 1 0 2.5 0a1.25 1.25 0 1 0 -2.5 0M152.1 263.5a1.25 1.25 0 1 0 2.5 0a1.25 1.25 0 1 0 -2.5 0M149.4 265.8a1.25 1.25 0 1 0 2.5 0a1.25 1.25 0 1 0 -2.5 0M173.5 270.9a1.25 1.25 0 1 0 2.5 0a1.25 1.25 0 1 0 -2.5 0M162.9 270.8a1.25 1.25 0 1 0 2.5 0a1.25 1.25 0 1 0 -2.5 0M178.3 279.0a1.25 1.25 0 1 0 2.5 0a1.25 1.25 0 1 0 -2.5 0M176.9 268.5a1.25 1.25 0 1 0 2.5 0a1.25 1.25 0 1 0 -2.5 0M182.7 280.9a1.25 1.25 0 1 0 2.5 0a1.25 1.25 0 1 0 -2.5 0M176.5 278.5a1.25 1.25 0 1 0 2.5 0a1.25 1.25 0 1 0 -2.5 0M172.7 280.2a1.25 1.25 0 1 0 2.5 0a1.25 1.25 0 1 0 -2.5 0M174.9 272.0a1.25 1.25 0 1 0 2.5 0a1.25 1.25 0 1 0 -2.5 0M157.8 255.1a1.25 1.25 0 1 0 2.5 0a1.25 1.25 0 1 0 -2.5 0M170.9 278.6a1.25 1.25 0 1 0 2.5 0a1.25 1.25 0 1 0 -2.5 0M157.7 259.6a1.25 1.25 0 1 0 2.5 0a1.25 1.25 0 1 0 -2.5 0M155.7 255.9a1.25 1.25 0 1 0 2.5 0a1.25 1.25 0 1 0 -2.5 0M152.3 261.5a1.25 1.25 0 1 0 2.5 0a1.25 1.25 0 1 0 -2.5 0M168.9 278.0a1.25 1.25 0 1 0 2.5 0a1.25 1.25 0 1 0 -2.5 0M151.2 260.0a1.25 1.25 0 1 0 2.5 0a1.25 1.25 0 1 0 -2.5 0M171.9 263.5a1.25 1.25 0 1 0 2.5 0a1.25 1.25 0 1 0 -2.5 0M160.0 270.6a1.25 1.25 0 1 0 2.5 0a1.25 1.25 0 1 0 -2.5 0M179.1 269.6a1.25 1.25 0 1 0 2.5 0a1.25 1.25 0 1 0 -2.5 0M172.0 275.5a1.25 1.25 0 1 0 2.5 0a1.25 1.25 0 1 0 -2.5 0M170.1 265.4a1.25 1.25 0 1 0 2.5 0a1.25 1.25 0 1 0 -2.5 0M167.2 271.3a1.25 1.25 0 1 0 2.5 0a1.25 1.25 0 1 0 -2.5 0M164.9 274.2a1.25 1.25 0 1 0 2.5 0a1.25 1.25 0 1 0 -2.5 0M175.1 267.1a1.25 1.25 0 1 0 2.5 0a1.25 1.25 0 1 0 -2.5 0M160.4 258.9a1.25 1.25 0 1 0 2.5 0a1.25 1.25 0 1 0 -2.5 0M162.9 261.8a1.25 1.25 0 1 0 2.5 0a1.25 1.25 0 1 0 -2.5 0M167.4 266.6a1.25 1.25 0 1 0 2.5 0a1.25 1.25 0 1 0 -2.5 0M154.6 261.2a1.25 1.25 0 1 0 2.5 0a1.25 1.25 0 1 0 -2.5 0M169.2 274.7a1.25 1.25 0 1 0 2.5 0a1.25 1.25 0 1 0 -2.5 0M185.7 276.2a1.25 1.25 0 1 0 2.5 0a1.25 1.25 0 1 0 -2.5 0M184.7 281.5a1.25 1.25 0 1 0 2.5 0a1.25 1.25 0 1 0 -2.5 0M175.7 275.3a1.25 1.25 0 1 0 2.5 0a1.25 1.25 0 1 0 -2.5 0M149.3 259.4a1.25 1.25 0 1 0 2.5 0a1.25 1.25 0 1 0 -2.5 0M175.6 272.5a1.25 1.25 0 1 0 2.5 0a1.25 1.25 0 1 0 -2.5 0M157.3 264.0a1.25 1.25 0 1 0 2.5 0a1.25 1.25 0 1 0 -2.5 0M148.5 258.4a1.25 1.25 0 1 0 2.5 0a1.25 1.25 0 1 0 -2.5 0M150.8 256.3a1.25 1.25 0 1 0 2.5 0a1.25 1.25 0 1 0 -2.5 0M183.2 277.6a1.25 1.25 0 1 0 2.5 0a1.25 1.25 0 1 0 -2.5 0M165.8 278.5a1.25 1.25 0 1 0 2.5 0a1.25 1.25 0 1 0 -2.5 0M151.9 256.4a1.25 1.25 0 1 0 2.5 0a1.25 1.25 0 1 0 -2.5 0M169.3 268.7a1.25 1.25 0 1 0 2.5 0a1.25 1.25 0 1 0 -2.5 0M155.1 260.8a1.25 1.25 0 1 0 2.5 0a1.25 1.25 0 1 0 -2.5 0M175.2 282.3a1.25 1.25 0 1 0 2.5 0a1.25 1.25 0 1 0 -2.5 0M179.2 279.1a1.25 1.25 0 1 0 2.5 0a1.25 1.25 0 1 0 -2.5 0M155.4 265.5a1.25 1.25 0 1 0 2.5 0a1.25 1.25 0 1 0 -2.5 0M159.5 285.5a1.25 1.25 0 1 0 2.5 0a1.25 1.25 0 1 0 -2.5 0M167.7 265.3a1.25 1.25 0 1 0 2.5 0a1.25 1.25 0 1 0 -2.5 0M190.3 292.5a1.25 1.25 0 1 0 2.5 0a1.25 1.25 0 1 0 -2.5 0M171.9 266.5a1.25 1.25 0 1 0 2.5 0a1.25 1.25 0 1 0 -2.5 0M193.2 283.7a1.25 1.25 0 1 0 2.5 0a1.25 1.25 0 1 0 -2.5 0M152.3 276.3a1.25 1.25 0 1 0 2.5 0a1.25 1.25 0 1 0 -2.5 0M180.0 296.0a1.25 1.25 0 1 0 2.5 0a1.25 1.25 0 1 0 -2.5 0M173.0 287.4a1.25 1.25 0 1 0 2.5 0a1.25 1.25 0 1 0 -2.5 0M159.0 273.5a1.25 1.25 0 1 0 2.5 0a1.25 1.25 0 1 0 -2.5 0M195.2 293.5a1.25 1.25 0 1 0 2.5 0a1.25 1.25 0 1 0 -2.5 0M191.9 297.4a1.25 1.25 0 1 0 2.5 0a1.25 1.25 0 1 0 -2.5 0M191.1 294.1a1.25 1.25 0 1 0 2.5 0a1.25 1.25 0 1 0 -2.5 0M186.0 286.1a1.25 1.25 0 1 0 2.5 0a1.25 1.25 0 1 0 -2.5 0M191.4 284.0a1.25 1.25 0 1 0 2.5 0a1.25 1.25 0 1 0 -2.5 0M189.6 289.7a1.25 1.25 0 1 0 2.5 0a1.25 1.25 0 1 0 -2.5 0M191.9 290.1a1.25 1.25 0 1 0 2.5 0a1.25 1.25 0 1 0 -2.5 0M187.4 287.0a1.25 1.25 0 1 0 2.5 0a1.25 1.25 0 1 0 -2.5 0M192.9 284.9a1.25 1.25 0 1 0 2.5 0a1.25 1.25 0 1 0 -2.5 0M187.1 294.4a1.25 1.25 0 1 0 2.5 0a1.25 1.25 0 1 0 -2.5 0M192.9 287.0a1.25 1.25 0 1 0 2.5 0a1.25 1.25 0 1 0 -2.5 0M190.3 300.6a1.25 1.25 0 1 0 2.5 0a1.25 1.25 0 1 0 -2.5 0M190.8 289.3a1.25 1.25 0 1 0 2.5 0a1.25 1.25 0 1 0 -2.5 0M183.0 298.0a1.25 1.25 0 1 0 2.5 0a1.25 1.25 0 1 0 -2.5 0M188.5 293.6a1.25 1.25 0 1 0 2.5 0a1.25 1.25 0 1 0 -2.5 0M197.8 289.2a1.25 1.25 0 1 0 2.5 0a1.25 1.25 0 1 0 -2.5 0M191.3 283.6a1.25 1.25 0 1 0 2.5 0a1.25 1.25 0 1 0 -2.5 0M192.1 293.1a1.25 1.25 0 1 0 2.5 0a1.25 1.25 0 1 0 -2.5 0M197.4 298.3a1.25 1.25 0 1 0 2.5 0a1.25 1.25 0 1 0 -2.5 0M191.8 292.5a1.25 1.25 0 1 0 2.5 0a1.25 1.25 0 1 0 -2.5 0M184.7 296.4a1.25 1.25 0 1 0 2.5 0a1.25 1.25 0 1 0 -2.5 0M187.6 295.3a1.25 1.25 0 1 0 2.5 0a1.25 1.25 0 1 0 -2.5 0M196.8 295.5a1.25 1.25 0 1 0 2.5 0a1.25 1.25 0 1 0 -2.5 0M194.3 293.2a1.25 1.25 0 1 0 2.5 0a1.25 1.25 0 1 0 -2.5 0M190.9 291.8a1.25 1.25 0 1 0 2.5 0a1.25 1.25 0 1 0 -2.5 0M192.5 290.1a1.25 1.25 0 1 0 2.5 0a1.25 1.25 0 1 0 -2.5 0M196.6 297.3a1.25 1.25 0 1 0 2.5 0a1.25 1.25 0 1 0 -2.5 0M188.3 297.6a1.25 1.25 0 1 0 2.5 0a1.25 1.25 0 1 0 -2.5 0M190.0 295.9a1.25 1.25 0 1 0 2.5 0a1.25 1.25 0 1 0 -2.5 0M192.1 299.4a1.25 1.25 0 1 0 2.5 0a1.25 1.25 0 1 0 -2.5 0M200.6 295.6a1.25 1.25 0 1 0 2.5 0a1.25 1.25 0 1 0 -2.5 0M197.0 299.7a1.25 1.25 0 1 0 2.5 0a1.25 1.25 0 1 0 -2.5 0M187.5 282.0a1.25 1.25 0 1 0 2.5 0a1.25 1.25 0 1 0 -2.5 0M186.8 284.8a1.25 1.25 0 1 0 2.5 0a1.25 1.25 0 1 0 -2.5 0M189.4 282.4a1.25 1.25 0 1 0 2.5 0a1.25 1.25 0 1 0 -2.5 0M191.5 292.6a1.25 1.25 0 1 0 2.5 0a1.25 1.25 0 1 0 -2.5 0M189.3 287.0a1.25 1.25 0 1 0 2.5 0a1.25 1.25 0 1 0 -2.5 0M190.5 290.7a1.25 1.25 0 1 0 2.5 0a1.25 1.25 0 1 0 -2.5 0M191.7 290.5a1.25 1.25 0 1 0 2.5 0a1.25 1.25 0 1 0 -2.5 0M198.5 291.6a1.25 1.25 0 1 0 2.5 0a1.25 1.25 0 1 0 -2.5 0M189.1 289.1a1.25 1.25 0 1 0 2.5 0a1.25 1.25 0 1 0 -2.5 0M191.4 288.1a1.25 1.25 0 1 0 2.5 0a1.25 1.25 0 1 0 -2.5 0M189.1 289.5a1.25 1.25 0 1 0 2.5 0a1.25 1.25 0 1 0 -2.5 0M195.4 296.1a1.25 1.25 0 1 0 2.5 0a1.25 1.25 0 1 0 -2.5 0M189.2 290.6a1.25 1.25 0 1 0 2.5 0a1.25 1.25 0 1 0 -2.5 0M196.0 285.9a1.25 1.25 0 1 0 2.5 0a1.25 1.25 0 1 0 -2.5 0M193.0 291.4a1.25 1.25 0 1 0 2.5 0a1.25 1.25 0 1 0 -2.5 0M187.4 289.8a1.25 1.25 0 1 0 2.5 0a1.25 1.25 0 1 0 -2.5 0M192.8 290.0a1.25 1.25 0 1 0 2.5 0a1.25 1.25 0 1 0 -2.5 0M189.4 277.8a1.25 1.25 0 1 0 2.5 0a1.25 1.25 0 1 0 -2.5 0M191.4 290.8a1.25 1.25 0 1 0 2.5 0a1.25 1.25 0 1 0 -2.5 0M191.7 293.4a1.25 1.25 0 1 0 2.5 0a1.25 1.25 0 1 0 -2.5 0M193.3 286.3a1.25 1.25 0 1 0 2.5 0a1.25 1.25 0 1 0 -2.5 0M188.1 285.9a1.25 1.25 0 1 0 2.5 0a1.25 1.25 0 1 0 -2.5 0M185.3 287.5a1.25 1.25 0 1 0 2.5 0a1.25 1.25 0 1 0 -2.5 0M192.2 281.4a1.25 1.25 0 1 0 2.5 0a1.25 1.25 0 1 0 -2.5 0M195.7 286.5a1.25 1.25 0 1 0 2.5 0a1.25 1.25 0 1 0 -2.5 0M199.0 296.1a1.25 1.25 0 1 0 2.5 0a1.25 1.25 0 1 0 -2.5 0M191.6 290.3a1.25 1.25 0 1 0 2.5 0a1.25 1.25 0 1 0 -2.5 0M193.7 283.7a1.25 1.25 0 1 0 2.5 0a1.25 1.25 0 1 0 -2.5 0M182.7 284.6a1.25 1.25 0 1 0 2.5 0a1.25 1.25 0 1 0 -2.5 0M187.8 300.0a1.25 1.25 0 1 0 2.5 0a1.25 1.25 0 1 0 -2.5 0M184.9 285.7a1.25 1.25 0 1 0 2.5 0a1.25 1.25 0 1 0 -2.5 0M188.5 292.7a1.25 1.25 0 1 0 2.5 0a1.25 1.25 0 1 0 -2.5 0M187.3 290.2a1.25 1.25 0 1 0 2.5 0a1.25 1.25 0 1 0 -2.5 0M192.0 296.2a1.25 1.25 0 1 0 2.5 0a1.25 1.25 0 1 0 -2.5 0M196.0 297.0a1.25 1.25 0 1 0 2.5 0a1.25 1.25 0 1 0 -2.5 0M197.9 296.4a1.25 1.25 0 1 0 2.5 0a1.25 1.25 0 1 0 -2.5 0M204.3 292.7a1.25 1.25 0 1 0 2.5 0a1.25 1.25 0 1 0 -2.5 0M193.5 289.4a1.25 1.25 0 1 0 2.5 0a1.25 1.25 0 1 0 -2.5 0M188.0 293.1a1.25 1.25 0 1 0 2.5 0a1.25 1.25 0 1 0 -2.5 0M193.0 294.4a1.25 1.25 0 1 0 2.5 0a1.25 1.25 0 1 0 -2.5 0M200.7 295.5a1.25 1.25 0 1 0 2.5 0a1.25 1.25 0 1 0 -2.5 0M184.1 290.5a1.25 1.25 0 1 0 2.5 0a1.25 1.25 0 1 0 -2.5 0M198.2 288.2a1.25 1.25 0 1 0 2.5 0a1.25 1.25 0 1 0 -2.5 0M195.6 290.1a1.25 1.25 0 1 0 2.5 0a1.25 1.25 0 1 0 -2.5 0M192.3 299.9a1.25 1.25 0 1 0 2.5 0a1.25 1.25 0 1 0 -2.5 0M185.5 291.3a1.25 1.25 0 1 0 2.5 0a1.25 1.25 0 1 0 -2.5 0M185.8 289.2a1.25 1.25 0 1 0 2.5 0a1.25 1.25 0 1 0 -2.5 0M193.2 293.3a1.25 1.25 0 1 0 2.5 0a1.25 1.25 0 1 0 -2.5 0M187.5 284.1a1.25 1.25 0 1 0 2.5 0a1.25 1.25 0 1 0 -2.5 0M185.6 279.7a1.25 1.25 0 1 0 2.5 0a1.25 1.25 0 1 0 -2.5 0M181.7 285.3a1.25 1.25 0 1 0 2.5 0a1.25 1.25 0 1 0 -2.5 0M195.2 281.7a1.25 1.25 0 1 0 2.5 0a1.25 1.25 0 1 0 -2.5 0M191.8 294.3a1.25 1.25 0 1 0 2.5 0a1.25 1.25 0 1 0 -2.5 0M183.2 293.1a1.25 1.25 0 1 0 2.5 0a1.25 1.25 0 1 0 -2.5 0M193.2 294.6a1.25 1.25 0 1 0 2.5 0a1.25 1.25 0 1 0 -2.5 0M197.8 282.0a1.25 1.25 0 1 0 2.5 0a1.25 1.25 0 1 0 -2.5 0M189.7 295.1a1.25 1.25 0 1 0 2.5 0a1.25 1.25 0 1 0 -2.5 0M193.4 285.5a1.25 1.25 0 1 0 2.5 0a1.25 1.25 0 1 0 -2.5 0M195.9 287.4a1.25 1.25 0 1 0 2.5 0a1.25 1.25 0 1 0 -2.5 0M188.8 292.6a1.25 1.25 0 1 0 2.5 0a1.25 1.25 0 1 0 -2.5 0M194.9 298.2a1.25 1.25 0 1 0 2.5 0a1.25 1.25 0 1 0 -2.5 0M189.4 293.4a1.25 1.25 0 1 0 2.5 0a1.25 1.25 0 1 0 -2.5 0M196.3 296.5a1.25 1.25 0 1 0 2.5 0a1.25 1.25 0 1 0 -2.5 0M189.6 283.9a1.25 1.25 0 1 0 2.5 0a1.25 1.25 0 1 0 -2.5 0M189.8 283.6a1.25 1.25 0 1 0 2.5 0a1.25 1.25 0 1 0 -2.5 0M189.7 291.2a1.25 1.25 0 1 0 2.5 0a1.25 1.25 0 1 0 -2.5 0M191.3 291.8a1.25 1.25 0 1 0 2.5 0a1.25 1.25 0 1 0 -2.5 0M188.7 290.3a1.25 1.25 0 1 0 2.5 0a1.25 1.25 0 1 0 -2.5 0M191.6 296.5a1.25 1.25 0 1 0 2.5 0a1.25 1.25 0 1 0 -2.5 0M196.5 297.0a1.25 1.25 0 1 0 2.5 0a1.25 1.25 0 1 0 -2.5 0M185.3 293.4a1.25 1.25 0 1 0 2.5 0a1.25 1.25 0 1 0 -2.5 0M190.5 292.7a1.25 1.25 0 1 0 2.5 0a1.25 1.25 0 1 0 -2.5 0M187.2 291.5a1.25 1.25 0 1 0 2.5 0a1.25 1.25 0 1 0 -2.5 0M192.8 287.1a1.25 1.25 0 1 0 2.5 0a1.25 1.25 0 1 0 -2.5 0M192.2 289.8a1.25 1.25 0 1 0 2.5 0a1.25 1.25 0 1 0 -2.5 0M194.7 293.9a1.25 1.25 0 1 0 2.5 0a1.25 1.25 0 1 0 -2.5 0M192.1 291.1a1.25 1.25 0 1 0 2.5 0a1.25 1.25 0 1 0 -2.5 0M194.0 291.2a1.25 1.25 0 1 0 2.5 0a1.25 1.25 0 1 0 -2.5 0M198.7 292.9a1.25 1.25 0 1 0 2.5 0a1.25 1.25 0 1 0 -2.5 0M191.9 287.8a1.25 1.25 0 1 0 2.5 0a1.25 1.25 0 1 0 -2.5 0M192.9 293.9a1.25 1.25 0 1 0 2.5 0a1.25 1.25 0 1 0 -2.5 0M193.5 292.5a1.25 1.25 0 1 0 2.5 0a1.25 1.25 0 1 0 -2.5 0M192.1 285.5a1.25 1.25 0 1 0 2.5 0a1.25 1.25 0 1 0 -2.5 0M191.6 288.4a1.25 1.25 0 1 0 2.5 0a1.25 1.25 0 1 0 -2.5 0M190.9 293.0a1.25 1.25 0 1 0 2.5 0a1.25 1.25 0 1 0 -2.5 0M194.4 295.1a1.25 1.25 0 1 0 2.5 0a1.25 1.25 0 1 0 -2.5 0M191.9 285.5a1.25 1.25 0 1 0 2.5 0a1.25 1.25 0 1 0 -2.5 0M190.2 292.0a1.25 1.25 0 1 0 2.5 0a1.25 1.25 0 1 0 -2.5 0M196.5 300.0a1.25 1.25 0 1 0 2.5 0a1.25 1.25 0 1 0 -2.5 0M191.0 302.6a1.25 1.25 0 1 0 2.5 0a1.25 1.25 0 1 0 -2.5 0M184.2 288.9a1.25 1.25 0 1 0 2.5 0a1.25 1.25 0 1 0 -2.5 0M190.6 298.8a1.25 1.25 0 1 0 2.5 0a1.25 1.25 0 1 0 -2.5 0M188.2 292.9a1.25 1.25 0 1 0 2.5 0a1.25 1.25 0 1 0 -2.5 0M189.8 288.7a1.25 1.25 0 1 0 2.5 0a1.25 1.25 0 1 0 -2.5 0M185.9 294.8a1.25 1.25 0 1 0 2.5 0a1.25 1.25 0 1 0 -2.5 0M187.6 292.0a1.25 1.25 0 1 0 2.5 0a1.25 1.25 0 1 0 -2.5 0M193.3 289.8a1.25 1.25 0 1 0 2.5 0a1.25 1.25 0 1 0 -2.5 0M189.9 293.4a1.25 1.25 0 1 0 2.5 0a1.25 1.25 0 1 0 -2.5 0M187.0 289.2a1.25 1.25 0 1 0 2.5 0a1.25 1.25 0 1 0 -2.5 0M191.4 286.0a1.25 1.25 0 1 0 2.5 0a1.25 1.25 0 1 0 -2.5 0M192.4 291.5a1.25 1.25 0 1 0 2.5 0a1.25 1.25 0 1 0 -2.5 0M192.8 283.3a1.25 1.25 0 1 0 2.5 0a1.25 1.25 0 1 0 -2.5 0M190.4 291.6a1.25 1.25 0 1 0 2.5 0a1.25 1.25 0 1 0 -2.5 0M189.1 289.4a1.25 1.25 0 1 0 2.5 0a1.25 1.25 0 1 0 -2.5 0M185.2 285.1a1.25 1.25 0 1 0 2.5 0a1.25 1.25 0 1 0 -2.5 0M191.5 293.4a1.25 1.25 0 1 0 2.5 0a1.25 1.25 0 1 0 -2.5 0M188.9 288.5a1.25 1.25 0 1 0 2.5 0a1.25 1.25 0 1 0 -2.5 0M188.3 293.8a1.25 1.25 0 1 0 2.5 0a1.25 1.25 0 1 0 -2.5 0M191.2 292.7a1.25 1.25 0 1 0 2.5 0a1.25 1.25 0 1 0 -2.5 0M186.3 289.6a1.25 1.25 0 1 0 2.5 0a1.25 1.25 0 1 0 -2.5 0M196.1 295.2a1.25 1.25 0 1 0 2.5 0a1.25 1.25 0 1 0 -2.5 0M192.1 294.5a1.25 1.25 0 1 0 2.5 0a1.25 1.25 0 1 0 -2.5 0M194.7 288.1a1.25 1.25 0 1 0 2.5 0a1.25 1.25 0 1 0 -2.5 0M202.0 294.9a1.25 1.25 0 1 0 2.5 0a1.25 1.25 0 1 0 -2.5 0M193.1 291.6a1.25 1.25 0 1 0 2.5 0a1.25 1.25 0 1 0 -2.5 0M195.8 295.2a1.25 1.25 0 1 0 2.5 0a1.25 1.25 0 1 0 -2.5 0M189.4 292.4a1.25 1.25 0 1 0 2.5 0a1.25 1.25 0 1 0 -2.5 0M194.0 291.9a1.25 1.25 0 1 0 2.5 0a1.25 1.25 0 1 0 -2.5 0M192.0 294.8a1.25 1.25 0 1 0 2.5 0a1.25 1.25 0 1 0 -2.5 0M195.6 294.3a1.25 1.25 0 1 0 2.5 0a1.25 1.25 0 1 0 -2.5 0M192.1 290.0a1.25 1.25 0 1 0 2.5 0a1.25 1.25 0 1 0 -2.5 0M187.7 287.8a1.25 1.25 0 1 0 2.5 0a1.25 1.25 0 1 0 -2.5 0M188.1 295.7a1.25 1.25 0 1 0 2.5 0a1.25 1.25 0 1 0 -2.5 0M188.9 290.4a1.25 1.25 0 1 0 2.5 0a1.25 1.25 0 1 0 -2.5 0M194.9 295.8a1.25 1.25 0 1 0 2.5 0a1.25 1.25 0 1 0 -2.5 0M190.9 291.6a1.25 1.25 0 1 0 2.5 0a1.25 1.25 0 1 0 -2.5 0M191.8 285.9a1.25 1.25 0 1 0 2.5 0a1.25 1.25 0 1 0 -2.5 0M194.0 296.3a1.25 1.25 0 1 0 2.5 0a1.25 1.25 0 1 0 -2.5 0M194.5 288.1a1.25 1.25 0 1 0 2.5 0a1.25 1.25 0 1 0 -2.5 0M188.0 293.9a1.25 1.25 0 1 0 2.5 0a1.25 1.25 0 1 0 -2.5 0M190.1 284.1a1.25 1.25 0 1 0 2.5 0a1.25 1.25 0 1 0 -2.5 0M190.3 298.8a1.25 1.25 0 1 0 2.5 0a1.25 1.25 0 1 0 -2.5 0M197.5 296.7a1.25 1.25 0 1 0 2.5 0a1.25 1.25 0 1 0 -2.5 0M195.1 292.1a1.25 1.25 0 1 0 2.5 0a1.25 1.25 0 1 0 -2.5 0M193.7 292.5a1.25 1.25 0 1 0 2.5 0a1.25 1.25 0 1 0 -2.5 0M187.7 294.6a1.25 1.25 0 1 0 2.5 0a1.25 1.25 0 1 0 -2.5 0M192.8 292.0a1.25 1.25 0 1 0 2.5 0a1.25 1.25 0 1 0 -2.5 0M190.4 291.8a1.25 1.25 0 1 0 2.5 0a1.25 1.25 0 1 0 -2.5 0M188.9 289.2a1.25 1.25 0 1 0 2.5 0a1.25 1.25 0 1 0 -2.5 0M188.3 296.8a1.25 1.25 0 1 0 2.5 0a1.25 1.25 0 1 0 -2.5 0M188.2 279.5a1.25 1.25 0 1 0 2.5 0a1.25 1.25 0 1 0 -2.5 0M184.7 287.4a1.25 1.25 0 1 0 2.5 0a1.25 1.25 0 1 0 -2.5 0M198.0 302.1a1.25 1.25 0 1 0 2.5 0a1.25 1.25 0 1 0 -2.5 0M188.1 293.9a1.25 1.25 0 1 0 2.5 0a1.25 1.25 0 1 0 -2.5 0M184.1 279.9a1.25 1.25 0 1 0 2.5 0a1.25 1.25 0 1 0 -2.5 0M181.0 277.6a1.25 1.25 0 1 0 2.5 0a1.25 1.25 0 1 0 -2.5 0M190.9 287.8a1.25 1.25 0 1 0 2.5 0a1.25 1.25 0 1 0 -2.5 0M193.8 291.3a1.25 1.25 0 1 0 2.5 0a1.25 1.25 0 1 0 -2.5 0M194.5 295.9a1.25 1.25 0 1 0 2.5 0a1.25 1.25 0 1 0 -2.5 0M184.8 297.9a1.25 1.25 0 1 0 2.5 0a1.25 1.25 0 1 0 -2.5 0M187.0 290.9a1.25 1.25 0 1 0 2.5 0a1.25 1.25 0 1 0 -2.5 0M184.9 289.9a1.25 1.25 0 1 0 2.5 0a1.25 1.25 0 1 0 -2.5 0M193.6 295.5a1.25 1.25 0 1 0 2.5 0a1.25 1.25 0 1 0 -2.5 0M189.4 298.7a1.25 1.25 0 1 0 2.5 0a1.25 1.25 0 1 0 -2.5 0M195.3 297.1a1.25 1.25 0 1 0 2.5 0a1.25 1.25 0 1 0 -2.5 0M187.6 293.0a1.25 1.25 0 1 0 2.5 0a1.25 1.25 0 1 0 -2.5 0M188.3 283.3a1.25 1.25 0 1 0 2.5 0a1.25 1.25 0 1 0 -2.5 0M190.9 294.3a1.25 1.25 0 1 0 2.5 0a1.25 1.25 0 1 0 -2.5 0M191.6 302.8a1.25 1.25 0 1 0 2.5 0a1.25 1.25 0 1 0 -2.5 0M190.8 293.3a1.25 1.25 0 1 0 2.5 0a1.25 1.25 0 1 0 -2.5 0M187.5 284.8a1.25 1.25 0 1 0 2.5 0a1.25 1.25 0 1 0 -2.5 0M192.5 291.7a1.25 1.25 0 1 0 2.5 0a1.25 1.25 0 1 0 -2.5 0M189.5 292.5a1.25 1.25 0 1 0 2.5 0a1.25 1.25 0 1 0 -2.5 0M189.8 285.7a1.25 1.25 0 1 0 2.5 0a1.25 1.25 0 1 0 -2.5 0M182.3 285.6a1.25 1.25 0 1 0 2.5 0a1.25 1.25 0 1 0 -2.5 0M192.8 282.9a1.25 1.25 0 1 0 2.5 0a1.25 1.25 0 1 0 -2.5 0M194.0 293.9a1.25 1.25 0 1 0 2.5 0a1.25 1.25 0 1 0 -2.5 0M195.1 294.5a1.25 1.25 0 1 0 2.5 0a1.25 1.25 0 1 0 -2.5 0M195.5 301.8a1.25 1.25 0 1 0 2.5 0a1.25 1.25 0 1 0 -2.5 0M191.2 291.9a1.25 1.25 0 1 0 2.5 0a1.25 1.25 0 1 0 -2.5 0M188.1 291.8a1.25 1.25 0 1 0 2.5 0a1.25 1.25 0 1 0 -2.5 0M198.4 298.9a1.25 1.25 0 1 0 2.5 0a1.25 1.25 0 1 0 -2.5 0M186.0 287.5a1.25 1.25 0 1 0 2.5 0a1.25 1.25 0 1 0 -2.5 0M198.7 292.6a1.25 1.25 0 1 0 2.5 0a1.25 1.25 0 1 0 -2.5 0M191.8 285.9a1.25 1.25 0 1 0 2.5 0a1.25 1.25 0 1 0 -2.5 0M191.3 294.5a1.25 1.25 0 1 0 2.5 0a1.25 1.25 0 1 0 -2.5 0M192.1 285.5a1.25 1.25 0 1 0 2.5 0a1.25 1.25 0 1 0 -2.5 0M199.1 289.8a1.25 1.25 0 1 0 2.5 0a1.25 1.25 0 1 0 -2.5 0M193.5 293.5a1.25 1.25 0 1 0 2.5 0a1.25 1.25 0 1 0 -2.5 0M194.0 301.4a1.25 1.25 0 1 0 2.5 0a1.25 1.25 0 1 0 -2.5 0M190.1 287.9a1.25 1.25 0 1 0 2.5 0a1.25 1.25 0 1 0 -2.5 0M192.3 288.3a1.25 1.25 0 1 0 2.5 0a1.25 1.25 0 1 0 -2.5 0M188.5 293.3a1.25 1.25 0 1 0 2.5 0a1.25 1.25 0 1 0 -2.5 0M187.1 284.0a1.25 1.25 0 1 0 2.5 0a1.25 1.25 0 1 0 -2.5 0M193.5 299.0a1.25 1.25 0 1 0 2.5 0a1.25 1.25 0 1 0 -2.5 0M190.9 285.8a1.25 1.25 0 1 0 2.5 0a1.25 1.25 0 1 0 -2.5 0M193.1 284.0a1.25 1.25 0 1 0 2.5 0a1.25 1.25 0 1 0 -2.5 0M194.4 296.2a1.25 1.25 0 1 0 2.5 0a1.25 1.25 0 1 0 -2.5 0M193.1 285.0a1.25 1.25 0 1 0 2.5 0a1.25 1.25 0 1 0 -2.5 0M191.4 288.3a1.25 1.25 0 1 0 2.5 0a1.25 1.25 0 1 0 -2.5 0M197.6 297.6a1.25 1.25 0 1 0 2.5 0a1.25 1.25 0 1 0 -2.5 0M188.3 293.7a1.25 1.25 0 1 0 2.5 0a1.25 1.25 0 1 0 -2.5 0M193.6 293.5a1.25 1.25 0 1 0 2.5 0a1.25 1.25 0 1 0 -2.5 0M180.3 284.3a1.25 1.25 0 1 0 2.5 0a1.25 1.25 0 1 0 -2.5 0M194.1 292.7a1.25 1.25 0 1 0 2.5 0a1.25 1.25 0 1 0 -2.5 0M193.6 288.7a1.25 1.25 0 1 0 2.5 0a1.25 1.25 0 1 0 -2.5 0M192.6 284.1a1.25 1.25 0 1 0 2.5 0a1.25 1.25 0 1 0 -2.5 0M191.1 294.2a1.25 1.25 0 1 0 2.5 0a1.25 1.25 0 1 0 -2.5 0M189.3 293.3a1.25 1.25 0 1 0 2.5 0a1.25 1.25 0 1 0 -2.5 0M192.3 293.6a1.25 1.25 0 1 0 2.5 0a1.25 1.25 0 1 0 -2.5 0M186.6 288.4a1.25 1.25 0 1 0 2.5 0a1.25 1.25 0 1 0 -2.5 0M192.8 297.4a1.25 1.25 0 1 0 2.5 0a1.25 1.25 0 1 0 -2.5 0M196.2 295.5a1.25 1.25 0 1 0 2.5 0a1.25 1.25 0 1 0 -2.5 0M184.4 289.3a1.25 1.25 0 1 0 2.5 0a1.25 1.25 0 1 0 -2.5 0M188.6 289.0a1.25 1.25 0 1 0 2.5 0a1.25 1.25 0 1 0 -2.5 0M190.4 290.2a1.25 1.25 0 1 0 2.5 0a1.25 1.25 0 1 0 -2.5 0M191.8 288.7a1.25 1.25 0 1 0 2.5 0a1.25 1.25 0 1 0 -2.5 0M180.1 287.1a1.25 1.25 0 1 0 2.5 0a1.25 1.25 0 1 0 -2.5 0M197.2 288.0a1.25 1.25 0 1 0 2.5 0a1.25 1.25 0 1 0 -2.5 0M191.6 284.8a1.25 1.25 0 1 0 2.5 0a1.25 1.25 0 1 0 -2.5 0M196.2 282.6a1.25 1.25 0 1 0 2.5 0a1.25 1.25 0 1 0 -2.5 0M188.1 296.8a1.25 1.25 0 1 0 2.5 0a1.25 1.25 0 1 0 -2.5 0M188.2 291.4a1.25 1.25 0 1 0 2.5 0a1.25 1.25 0 1 0 -2.5 0M196.5 291.1a1.25 1.25 0 1 0 2.5 0a1.25 1.25 0 1 0 -2.5 0M199.6 292.9a1.25 1.25 0 1 0 2.5 0a1.25 1.25 0 1 0 -2.5 0M190.3 287.8a1.25 1.25 0 1 0 2.5 0a1.25 1.25 0 1 0 -2.5 0M194.5 296.7a1.25 1.25 0 1 0 2.5 0a1.25 1.25 0 1 0 -2.5 0M193.0 288.8a1.25 1.25 0 1 0 2.5 0a1.25 1.25 0 1 0 -2.5 0M191.2 291.5a1.25 1.25 0 1 0 2.5 0a1.25 1.25 0 1 0 -2.5 0M189.2 297.0a1.25 1.25 0 1 0 2.5 0a1.25 1.25 0 1 0 -2.5 0M193.2 294.2a1.25 1.25 0 1 0 2.5 0a1.25 1.25 0 1 0 -2.5 0M186.0 293.6a1.25 1.25 0 1 0 2.5 0a1.25 1.25 0 1 0 -2.5 0M191.7 291.8a1.25 1.25 0 1 0 2.5 0a1.25 1.25 0 1 0 -2.5 0M192.0 302.0a1.25 1.25 0 1 0 2.5 0a1.25 1.25 0 1 0 -2.5 0M193.1 293.2a1.25 1.25 0 1 0 2.5 0a1.25 1.25 0 1 0 -2.5 0M186.0 290.4a1.25 1.25 0 1 0 2.5 0a1.25 1.25 0 1 0 -2.5 0M186.9 291.0a1.25 1.25 0 1 0 2.5 0a1.25 1.25 0 1 0 -2.5 0M188.4 287.8a1.25 1.25 0 1 0 2.5 0a1.25 1.25 0 1 0 -2.5 0M191.9 293.0a1.25 1.25 0 1 0 2.5 0a1.25 1.25 0 1 0 -2.5 0M190.7 292.8a1.25 1.25 0 1 0 2.5 0a1.25 1.25 0 1 0 -2.5 0M190.8 283.9a1.25 1.25 0 1 0 2.5 0a1.25 1.25 0 1 0 -2.5 0M185.4 294.0a1.25 1.25 0 1 0 2.5 0a1.25 1.25 0 1 0 -2.5 0M193.3 288.6a1.25 1.25 0 1 0 2.5 0a1.25 1.25 0 1 0 -2.5 0M189.0 288.2a1.25 1.25 0 1 0 2.5 0a1.25 1.25 0 1 0 -2.5 0M196.3 295.0a1.25 1.25 0 1 0 2.5 0a1.25 1.25 0 1 0 -2.5 0M192.2 293.8a1.25 1.25 0 1 0 2.5 0a1.25 1.25 0 1 0 -2.5 0M192.7 287.6a1.25 1.25 0 1 0 2.5 0a1.25 1.25 0 1 0 -2.5 0M192.7 288.9a1.25 1.25 0 1 0 2.5 0a1.25 1.25 0 1 0 -2.5 0M197.8 289.8a1.25 1.25 0 1 0 2.5 0a1.25 1.25 0 1 0 -2.5 0M192.3 297.4a1.25 1.25 0 1 0 2.5 0a1.25 1.25 0 1 0 -2.5 0M188.5 296.5a1.25 1.25 0 1 0 2.5 0a1.25 1.25 0 1 0 -2.5 0M197.8 290.2a1.25 1.25 0 1 0 2.5 0a1.25 1.25 0 1 0 -2.5 0M189.9 292.1a1.25 1.25 0 1 0 2.5 0a1.25 1.25 0 1 0 -2.5 0M192.2 285.8a1.25 1.25 0 1 0 2.5 0a1.25 1.25 0 1 0 -2.5 0M190.9 293.9a1.25 1.25 0 1 0 2.5 0a1.25 1.25 0 1 0 -2.5 0M190.5 288.7a1.25 1.25 0 1 0 2.5 0a1.25 1.25 0 1 0 -2.5 0M191.2 287.7a1.25 1.25 0 1 0 2.5 0a1.25 1.25 0 1 0 -2.5 0M187.8 292.9a1.25 1.25 0 1 0 2.5 0a1.25 1.25 0 1 0 -2.5 0" fill="#8C20DA" stroke="#6a14a8" stroke-width="0.3"/>
<path d="M79.2 290.0l0.95 1.7h-1.9zM61.1 289.7l1.15 2.0h-2.3zM68.0 272.6l0.95 1.7h-1.9zM83.0 288.6l0.95 1.7h-1.9zM82.1 297.1l0.95 1.7h-1.9zM67.4 273.4l0.95 1.7h-1.9zM83.9 271.4l0.95 1.7h-1.9zM65.7 270.1l0.95 1.7h-1.9zM87.8 294.1l0.95 1.7h-1.9zM85.8 299.3l0.95 1.7h-1.9zM88.6 273.4l0.95 1.7h-1.9zM71.4 289.8l0.95 1.7h-1.9zM62.0 285.1l1.15 2.0h-2.3zM63.2 262.7l1.15 2.0h-2.3zM78.5 267.1l0.95 1.7h-1.9zM76.6 268.9l0.95 1.7h-1.9zM64.3 281.3l0.95 1.7h-1.9zM78.8 275.5l0.95 1.7h-1.9zM85.8 282.2l0.95 1.7h-1.9zM62.5 276.2l1.15 2.0h-2.3zM77.4 271.1l0.95 1.7h-1.9zM84.1 269.9l0.95 1.7h-1.9zM71.5 280.1l0.95 1.7h-1.9zM85.6 291.8l0.95 1.7h-1.9zM73.4 278.9l0.95 1.7h-1.9zM76.4 286.5l0.95 1.7h-1.9zM64.6 279.6l0.95 1.7h-1.9zM82.3 273.0l0.95 1.7h-1.9zM62.5 290.7l1.15 2.0h-2.3zM87.7 278.5l0.95 1.7h-1.9zM63.1 276.5l1.15 2.0h-2.3zM63.4 299.2l1.15 2.0h-2.3zM61.8 272.2l1.15 2.0h-2.3zM63.8 263.8l0.95 1.7h-1.9zM65.9 282.3l0.95 1.7h-1.9zM66.3 291.6l0.95 1.7h-1.9zM75.3 274.5l0.95 1.7h-1.9zM64.4 270.7l0.95 1.7h-1.9zM69.3 290.6l0.95 1.7h-1.9zM92.1 297.2l0.95 1.7h-1.9zM61.7 284.1l1.15 2.0h-2.3zM58.2 283.6l1.15 2.0h-2.3zM51.9 299.7l1.15 2.0h-2.3zM59.4 262.1l1.15 2.0h-2.3zM51.7 276.0l1.15 2.0h-2.3zM57.3 315.1l1.15 2.0h-2.3zM56.0 307.0l1.15 2.0h-2.3zM52.2 276.2l1.15 2.0h-2.3zM61.2 280.8l1.15 2.0h-2.3zM54.6 256.3l1.15 2.0h-2.3zM61.6 292.1l1.15 2.0h-2.3zM59.3 306.6l1.15 2.0h-2.3zM52.8 271.7l1.15 2.0h-2.3zM50.3 278.4l1.15 2.0h-2.3zM58.9 269.3l1.15 2.0h-2.3zM59.8 308.9l1.15 2.0h-2.3zM61.2 270.4l1.15 2.0h-2.3zM56.0 299.4l1.15 2.0h-2.3zM53.5 304.5l1.15 2.0h-2.3zM52.7 306.1l1.15 2.0h-2.3zM53.0 288.0l1.15 2.0h-2.3zM59.0 306.3l1.15 2.0h-2.3zM55.7 308.4l1.15 2.0h-2.3zM56.7 296.3l1.15 2.0h-2.3zM55.7 258.6l1.15 2.0h-2.3zM59.0 276.1l1.15 2.0h-2.3zM60.1 302.6l1.15 2.0h-2.3zM50.9 270.7l1.15 2.0h-2.3zM48.9 275.3l1.15 2.0h-2.3zM50.8 259.9l1.15 2.0h-2.3zM51.2 300.2l1.15 2.0h-2.3zM61.0 303.8l1.15 2.0h-2.3zM57.8 274.3l1.15 2.0h-2.3zM58.3 309.7l1.15 2.0h-2.3zM59.9 274.4l1.15 2.0h-2.3zM59.7 290.9l1.15 2.0h-2.3zM53.3 286.8l1.15 2.0h-2.3zM51.9 295.6l1.15 2.0h-2.3zM54.7 277.4l1.15 2.0h-2.3zM58.0 263.2l1.15 2.0h-2.3zM53.5 257.8l1.15 2.0h-2.3zM49.8 281.5l1.15 2.0h-2.3zM60.2 287.1l1.15 2.0h-2.3zM57.1 269.0l1.15 2.0h-2.3zM55.5 303.8l1.15 2.0h-2.3zM51.7 281.7l1.15 2.0h-2.3zM61.1 298.3l1.15 2.0h-2.3zM59.2 275.4l1.15 2.0h-2.3zM54.1 266.9l1.15 2.0h-2.3zM59.1 264.3l1.15 2.0h-2.3zM58.2 315.7l1.15 2.0h-2.3zM57.1 310.3l1.15 2.0h-2.3zM58.6 301.3l1.15 2.0h-2.3zM51.0 268.1l1.15 2.0h-2.3zM63.1 285.8l1.15 2.0h-2.3zM60.4 286.3l1.15 2.0h-2.3zM48.6 289.3l1.15 2.0h-2.3zM55.8 281.1l1.15 2.0h-2.3zM51.3 271.2l1.15 2.0h-2.3zM49.6 283.8l1.15 2.0h-2.3zM53.2 256.0l1.15 2.0h-2.3zM50.6 269.9l1.15 2.0h-2.3zM48.7 286.7l1.15 2.0h-2.3zM54.7 267.8l1.15 2.0h-2.3zM58.2 298.9l1.15 2.0h-2.3zM58.1 272.1l1.15 2.0h-2.3zM55.5 311.2l1.15 2.0h-2.3zM50.8 260.9l1.15 2.0h-2.3zM58.6 303.5l1.15 2.0h-2.3zM63.0 294.0l1.15 2.0h-2.3zM59.0 275.9l1.15 2.0h-2.3zM54.5 265.4l1.15 2.0h-2.3zM52.2 292.8l1.15 2.0h-2.3zM52.7 260.8l1.15 2.0h-2.3zM55.7 274.6l1.15 2.0h-2.3zM63.6 282.4l0.95 1.7h-1.9zM61.4 284.9l1.15 2.0h-2.3zM49.7 291.2l1.15 2.0h-2.3zM49.7 265.9l1.15 2.0h-2.3zM51.0 279.9l1.15 2.0h-2.3zM52.9 281.2l1.15 2.0h-2.3zM57.5 264.8l1.15 2.0h-2.3zM48.4 290.1l1.15 2.0h-2.3zM56.0 277.0l1.15 2.0h-2.3zM56.1 310.9l1.15 2.0h-2.3zM57.8 289.0l1.15 2.0h-2.3zM61.5 299.8l1.15 2.0h-2.3zM60.0 306.8l1.15 2.0h-2.3zM56.4 291.1l1.15 2.0h-2.3zM55.4 288.7l1.15 2.0h-2.3zM52.0 266.6l1.15 2.0h-2.3zM52.4 257.3l1.15 2.0h-2.3zM54.0 284.5l1.15 2.0h-2.3zM57.2 276.7l1.15 2.0h-2.3zM57.5 311.5l1.15 2.0h-2.3zM57.2 278.9l1.15 2.0h-2.3zM52.9 302.9l1.15 2.0h-2.3zM62.0 277.5l1.15 2.0h-2.3zM50.9 288.0l1.15 2.0h-2.3zM58.2 265.3l1.15 2.0h-2.3zM54.2 257.0l1.15 2.0h-2.3zM52.7 264.5l1.15 2.0h-2.3zM52.7 259.2l1.15 2.0h-2.3zM58.9 310.3l1.15 2.0h-2.3zM63.2 288.8l1.15 2.0h-2.3zM51.8 281.7l1.15 2.0h-2.3zM59.5 300.6l1.15 2.0h-2.3zM59.4 308.1l1.15 2.0h-2.3zM62.4 291.5l1.15 2.0h-2.3zM50.4 263.2l1.15 2.0h-2.3zM57.4 298.2l1.15 2.0h-2.3zM56.4 266.6l1.15 2.0h-2.3zM60.0 296.0l1.15 2.0h-2.3zM55.7 281.8l1.15 2.0h-2.3zM54.6 270.9l1.15 2.0h-2.3zM50.7 298.1l1.15 2.0h-2.3zM50.3 266.5l1.15 2.0h-2.3zM55.8 259.2l1.15 2.0h-2.3zM47.3 296.5l1.15 2.0h-2.3zM54.8 290.2l1.15 2.0h-2.3zM57.5 308.6l1.15 2.0h-2.3zM60.3 312.3l1.15 2.0h-2.3zM58.1 310.6l1.15 2.0h-2.3zM58.7 278.7l1.15 2.0h-2.3zM55.8 256.0l1.15 2.0h-2.3zM54.5 256.0l1.15 2.0h-2.3zM56.8 280.5l1.15 2.0h-2.3zM61.8 280.2l1.15 2.0h-2.3zM59.2 313.0l1.15 2.0h-2.3zM51.5 278.3l1.15 2.0h-2.3zM59.7 309.9l1.15 2.0h-2.3zM56.9 315.1l1.15 2.0h-2.3zM58.7 274.8l1.15 2.0h-2.3zM59.6 265.2l1.15 2.0h-2.3zM52.2 285.0l1.15 2.0h-2.3zM58.8 311.5l1.15 2.0h-2.3zM55.5 264.6l1.15 2.0h-2.3zM53.0 290.9l1.15 2.0h-2.3zM55.1 311.7l1.15 2.0h-2.3zM49.7 272.3l1.15 2.0h-2.3zM56.5 308.0l1.15 2.0h-2.3zM56.6 299.5l1.15 2.0h-2.3zM54.4 261.6l1.15 2.0h-2.3zM51.2 295.0l1.15 2.0h-2.3zM64.4 278.2l0.95 1.7h-1.9zM55.5 281.3l1.15 2.0h-2.3zM57.1 304.2l1.15 2.0h-2.3zM62.7 279.8l1.15 2.0h-2.3zM49.5 284.1l1.15 2.0h-2.3zM48.6 296.5l1.15 2.0h-2.3zM57.9 315.0l1.15 2.0h-2.3zM52.5 293.9l1.15 2.0h-2.3zM60.0 270.6l1.15 2.0h-2.3zM57.5 260.9l1.15 2.0h-2.3zM52.9 309.3l1.15 2.0h-2.3zM58.5 298.8l1.15 2.0h-2.3zM61.6 276.3l1.15 2.0h-2.3zM53.2 304.6l1.15 2.0h-2.3zM54.6 266.9l1.15 2.0h-2.3zM57.7 311.5l1.15 2.0h-2.3zM54.0 302.9l1.15 2.0h-2.3zM57.8 310.1l1.15 2.0h-2.3zM58.2 314.0l1.15 2.0h-2.3zM55.6 307.0l1.15 2.0h-2.3zM58.4 261.6l1.15 2.0h-2.3zM51.2 300.4l1.15 2.0h-2.3zM62.2 283.5l1.15 2.0h-2.3zM56.2 265.3l1.15 2.0h-2.3zM53.9 288.9l1.15 2.0h-2.3zM55.6 283.9l1.15 2.0h-2.3zM52.0 271.8l1.15 2.0h-2.3zM49.4 291.1l1.15 2.0h-2.3zM58.7 308.9l1.15 2.0h-2.3zM54.9 264.1l1.15 2.0h-2.3zM56.3 313.7l1.15 2.0h-2.3zM52.5 257.4l1.15 2.0h-2.3zM51.9 263.1l1.15 2.0h-2.3zM57.7 312.6l1.15 2.0h-2.3zM61.1 277.4l1.15 2.0h-2.3zM57.5 307.5l1.15 2.0h-2.3zM56.1 277.3l1.15 2.0h-2.3zM63.2 270.4l1.15 2.0h-2.3zM50.5 259.6l1.15 2.0h-2.3zM49.2 286.1l1.15 2.0h-2.3zM57.3 305.9l1.15 2.0h-2.3zM56.6 315.2l1.15 2.0h-2.3zM50.0 298.5l1.15 2.0h-2.3zM57.0 313.8l1.15 2.0h-2.3zM45.9 289.8l1.15 2.0h-2.3zM60.8 291.1l1.15 2.0h-2.3zM53.6 256.5l1.15 2.0h-2.3zM59.7 261.8l1.15 2.0h-2.3zM59.2 271.7l1.15 2.0h-2.3zM57.1 313.7l1.15 2.0h-2.3zM50.8 297.5l1.15 2.0h-2.3zM54.5 262.3l1.15 2.0h-2.3zM49.8 271.9l1.15 2.0h-2.3zM61.2 312.9l1.15 2.0h-2.3zM58.0 315.3l1.15 2.0h-2.3zM55.7 299.3l1.15 2.0h-2.3zM61.1 277.2l1.15 2.0h-2.3zM51.8 265.2l1.15 2.0h-2.3zM60.0 291.0l1.15 2.0h-2.3zM56.8 290.2l1.15 2.0h-2.3zM56.5 280.5l1.15 2.0h-2.3zM51.5 281.1l1.15 2.0h-2.3zM53.1 301.1l1.15 2.0h-2.3zM53.8 261.3l1.15 2.0h-2.3zM53.1 279.0l1.15 2.0h-2.3zM59.1 295.9l1.15 2.0h-2.3zM56.5 282.9l1.15 2.0h-2.3zM49.7 266.6l1.15 2.0h-2.3zM54.3 260.6l1.15 2.0h-2.3zM53.2 281.1l1.15 2.0h-2.3zM61.8 286.4l1.15 2.0h-2.3zM53.4 274.0l1.15 2.0h-2.3zM58.2 310.3l1.15 2.0h-2.3zM52.3 258.4l1.15 2.0h-2.3zM58.8 306.5l1.15 2.0h-2.3zM55.5 259.2l1.15 2.0h-2.3zM49.7 275.8l1.15 2.0h-2.3zM48.7 286.3l1.15 2.0h-2.3zM53.9 295.9l1.15 2.0h-2.3zM53.5 309.9l1.15 2.0h-2.3zM53.9 269.1l1.15 2.0h-2.3zM62.2 296.9l1.15 2.0h-2.3zM51.7 275.8l1.15 2.0h-2.3zM57.7 279.7l1.15 2.0h-2.3zM51.2 281.5l1.15 2.0h-2.3zM59.9 315.1l1.15 2.0h-2.3zM54.0 261.7l1.15 2.0h-2.3zM55.1 295.9l1.15 2.0h-2.3zM55.8 304.2l1.15 2.0h-2.3zM49.2 284.1l1.15 2.0h-2.3zM49.1 284.7l1.15 2.0h-2.3zM60.9 290.4l1.15 2.0h-2.3zM55.8 258.4l1.15 2.0h-2.3zM48.7 275.0l1.15 2.0h-2.3zM57.5 290.7l1.15 2.0h-2.3zM59.6 277.7l1.15 2.0h-2.3zM61.3 272.3l1.15 2.0h-2.3zM56.3 261.2l1.15 2.0h-2.3zM59.1 307.6l1.15 2.0h-2.3zM52.1 298.7l1.15 2.0h-2.3zM58.2 278.5l1.15 2.0h-2.3zM60.7 276.9l1.15 2.0h-2.3zM58.4 315.5l1.15 2.0h-2.3zM56.8 307.6l1.15 2.0h-2.3zM59.4 313.9l1.15 2.0h-2.3zM54.8 267.5l1.15 2.0h-2.3zM52.1 284.7l1.15 2.0h-2.3zM51.5 291.0l1.15 2.0h-2.3zM54.3 272.3l1.15 2.0h-2.3zM50.6 295.5l1.15 2.0h-2.3zM51.9 287.6l1.15 2.0h-2.3zM54.8 302.6l1.15 2.0h-2.3zM59.5 270.6l1.15 2.0h-2.3zM53.8 273.1l1.15 2.0h-2.3zM58.0 298.2l1.15 2.0h-2.3zM54.6 268.5l1.15 2.0h-2.3zM51.6 277.2l1.15 2.0h-2.3zM53.2 299.7l1.15 2.0h-2.3zM57.7 269.7l1.15 2.0h-2.3zM56.6 293.8l1.15 2.0h-2.3zM49.3 272.1l1.15 2.0h-2.3zM57.9 313.4l1.15 2.0h-2.3zM61.8 295.9l1.15 2.0h-2.3zM49.2 275.9l1.15 2.0h-2.3zM57.7 303.4l1.15 2.0h-2.3zM55.0 271.9l1.15 2.0h-2.3zM61.4 298.4l1.15 2.0h-2.3zM52.8 282.1l1.15 2.0h-2.3zM61.9 274.5l1.15 2.0h-2.3zM61.1 272.6l1.15 2.0h-2.3zM56.5 306.9l1.15 2.0h-2.3zM49.2 281.3l1.15 2.0h-2.3zM55.9 302.1l1.15 2.0h-2.3zM55.2 282.1l1.15 2.0h-2.3zM52.1 291.4l1.15 2.0h-2.3zM48.4 278.5l1.15 2.0h-2.3zM58.5 278.0l1.15 2.0h-2.3zM51.3 293.2l1.15 2.0h-2.3zM54.6 256.9l1.15 2.0h-2.3zM58.5 267.7l1.15 2.0h-2.3zM54.5 310.3l1.15 2.0h-2.3zM48.3 275.0l1.15 2.0h-2.3zM56.4 275.2l1.15 2.0h-2.3zM51.4 263.0l1.15 2.0h-2.3zM52.8 274.4l1.15 2.0h-2.3zM60.3 262.7l1.15 2.0h-2.3zM59.5 270.1l1.15 2.0h-2.3zM49.8 278.3l1.15 2.0h-2.3zM59.1 303.5l1.15 2.0h-2.3zM64.2 284.7l0.95 1.7h-1.9zM53.8 259.0l1.15 2.0h-2.3zM60.9 302.4l1.15 2.0h-2.3zM53.5 288.6l1.15 2.0h-2.3zM57.9 271.3l1.15 2.0h-2.3zM63.8 282.4l0.95 1.7h-1.9zM49.7 268.5l1.15 2.0h-2.3zM50.6 261.3l1.15 2.0h-2.3zM52.7 286.2l1.15 2.0h-2.3zM56.1 297.8l1.15 2.0h-2.3zM55.0 286.3l1.15 2.0h-2.3zM61.1 278.0l1.15 2.0h-2.3zM54.8 277.2l1.15 2.0h-2.3zM55.7 292.6l1.15 2.0h-2.3zM57.3 313.0l1.15 2.0h-2.3zM55.2 262.6l1.15 2.0h-2.3zM59.9 275.4l1.15 2.0h-2.3zM55.0 276.0l1.15 2.0h-2.3zM50.1 279.8l1.15 2.0h-2.3zM56.5 295.4l1.15 2.0h-2.3zM58.9 269.7l1.15 2.0h-2.3zM59.4 283.1l1.15 2.0h-2.3zM53.8 257.4l1.15 2.0h-2.3zM58.0 313.3l1.15 2.0h-2.3zM49.8 284.0l1.15 2.0h-2.3zM56.1 266.1l1.15 2.0h-2.3zM48.9 294.4l1.15 2.0h-2.3zM49.2 292.5l1.15 2.0h-2.3zM49.5 288.7l1.15 2.0h-2.3zM57.6 284.7l1.15 2.0h-2.3zM56.3 296.4l1.15 2.0h-2.3zM58.5 292.7l1.15 2.0h-2.3zM60.2 282.3l1.15 2.0h-2.3zM58.2 289.7l1.15 2.0h-2.3zM59.9 313.9l1.15 2.0h-2.3zM49.1 294.9l1.15 2.0h-2.3zM60.1 311.7l1.15 2.0h-2.3zM53.0 299.4l1.15 2.0h-2.3zM56.3 305.4l1.15 2.0h-2.3zM54.6 256.6l1.15 2.0h-2.3zM56.3 297.0l1.15 2.0h-2.3zM55.2 307.4l1.15 2.0h-2.3zM52.9 257.3l1.15 2.0h-2.3zM51.1 259.7l1.15 2.0h-2.3zM52.4 265.3l1.15 2.0h-2.3zM62.1 272.4l1.15 2.0h-2.3zM56.5 315.1l1.15 2.0h-2.3zM55.4 303.4l1.15 2.0h-2.3zM51.5 299.6l1.15 2.0h-2.3zM56.7 261.2l1.15 2.0h-2.3zM53.6 307.4l1.15 2.0h-2.3zM55.0 297.7l1.15 2.0h-2.3zM59.1 267.5l1.15 2.0h-2.3zM58.7 272.6l1.15 2.0h-2.3zM53.3 297.4l1.15 2.0h-2.3zM52.4 269.1l1.15 2.0h-2.3zM55.0 286.3l1.15 2.0h-2.3zM55.6 257.3l1.15 2.0h-2.3zM49.4 277.1l1.15 2.0h-2.3zM58.1 276.5l1.15 2.0h-2.3zM49.1 287.2l1.15 2.0h-2.3zM55.6 310.8l1.15 2.0h-2.3zM57.4 267.6l1.15 2.0h-2.3zM60.4 276.9l1.15 2.0h-2.3zM55.0 293.8l1.15 2.0h-2.3zM56.7 278.3l1.15 2.0h-2.3zM56.4 255.8l1.15 2.0h-2.3zM58.1 270.9l1.15 2.0h-2.3zM48.8 293.3l1.15 2.0h-2.3zM54.7 302.3l1.15 2.0h-2.3zM58.2 296.4l1.15 2.0h-2.3zM58.6 281.9l1.15 2.0h-2.3zM53.7 261.7l1.15 2.0h-2.3zM50.2 286.3l1.15 2.0h-2.3zM52.0 279.0l1.15 2.0h-2.3zM56.1 266.7l1.15 2.0h-2.3zM55.1 288.0l1.15 2.0h-2.3zM62.4 285.9l1.15 2.0h-2.3zM49.9 267.7l1.15 2.0h-2.3zM56.0 301.8l1.15 2.0h-2.3zM53.8 302.6l1.15 2.0h-2.3zM51.0 299.3l1.15 2.0h-2.3zM54.5 278.0l1.15 2.0h-2.3zM55.2 259.6l1.15 2.0h-2.3zM58.1 288.7l1.15 2.0h-2.3zM57.6 261.8l1.15 2.0h-2.3zM49.7 270.6l1.15 2.0h-2.3zM49.2 270.9l1.15 2.0h-2.3zM54.7 273.7l1.15 2.0h-2.3zM59.5 278.0l1.15 2.0h-2.3zM48.7 269.1l1.15 2.0h-2.3zM49.4 275.5l1.15 2.0h-2.3zM55.2 315.4l1.15 2.0h-2.3zM54.0 257.9l1.15 2.0h-2.3zM53.7 279.2l1.15 2.0h-2.3zM56.7 260.1l1.15 2.0h-2.3zM59.5 281.9l1.15 2.0h-2.3zM56.8 305.5l1.15 2.0h-2.3zM57.4 309.2l1.15 2.0h-2.3zM54.7 295.4l1.15 2.0h-2.3zM56.1 270.4l1.15 2.0h-2.3zM52.3 307.6l1.15 2.0h-2.3zM56.9 314.4l1.15 2.0h-2.3zM57.4 293.3l1.15 2.0h-2.3zM52.0 263.6l1.15 2.0h-2.3zM58.6 298.5l1.15 2.0h-2.3zM58.5 295.1l1.15 2.0h-2.3zM53.4 257.0l1.15 2.0h-2.3zM51.2 275.9l1.15 2.0h-2.3zM52.3 295.9l1.15 2.0h-2.3zM59.0 288.5l1.15 2.0h-2.3zM58.5 262.6l1.15 2.0h-2.3zM56.3 257.2l1.15 2.0h-2.3zM49.9 277.8l1.15 2.0h-2.3zM50.4 280.6l1.15 2.0h-2.3zM53.0 287.1l1.15 2.0h-2.3zM51.1 281.8l1.15 2.0h-2.3zM55.8 313.8l1.15 2.0h-2.3zM57.9 279.3l1.15 2.0h-2.3zM51.0 272.4l1.15 2.0h-2.3zM55.0 308.1l1.15 2.0h-2.3zM59.3 282.1l1.15 2.0h-2.3zM54.5 286.9l1.15 2.0h-2.3zM59.9 312.0l1.15 2.0h-2.3zM49.5 280.7l1.15 2.0h-2.3zM61.4 282.4l1.15 2.0h-2.3zM51.0 298.3l1.15 2.0h-2.3zM54.5 311.1l1.15 2.0h-2.3zM55.0 256.9l1.15 2.0h-2.3zM54.9 263.3l1.15 2.0h-2.3zM50.0 269.0l1.15 2.0h-2.3zM51.6 261.1l1.15 2.0h-2.3zM55.6 305.0l1.15 2.0h-2.3zM52.0 270.8l1.15 2.0h-2.3zM50.6 300.2l1.15 2.0h-2.3zM55.5 312.4l1.15 2.0h-2.3zM50.0 261.7l1.15 2.0h-2.3zM56.3 297.3l1.15 2.0h-2.3zM49.8 285.5l1.15 2.0h-2.3zM51.4 281.9l1.15 2.0h-2.3zM56.6 272.2l1.15 2.0h-2.3zM56.2 260.8l1.15 2.0h-2.3zM54.7 262.6l1.15 2.0h-2.3zM57.9 285.9l1.15 2.0h-2.3zM56.2 309.3l1.15 2.0h-2.3zM61.6 314.6l1.15 2.0h-2.3zM58.9 271.1l1.15 2.0h-2.3zM51.7 292.4l1.15 2.0h-2.3zM56.9 304.3l1.15 2.0h-2.3zM57.5 260.5l1.15 2.0h-2.3zM50.9 292.7l1.15 2.0h-2.3zM59.7 283.5l1.15 2.0h-2.3zM55.1 262.0l1.15 2.0h-2.3zM58.2 294.7l1.15 2.0h-2.3zM57.2 313.3l1.15 2.0h-2.3zM53.1 281.2l1.15 2.0h-2.3zM52.1 294.7l1.15 2.0h-2.3zM56.1 289.9l1.15 2.0h-2.3zM61.0 313.6l1.15 2.0h-2.3zM58.0 315.3l1.15 2.0h-2.3zM57.6 300.3l1.15 2.0h-2.3zM59.9 312.0l1.15 2.0h-2.3zM55.3 302.9l1.15 2.0h-2.3zM54.0 274.4l1.15 2.0h-2.3zM56.6 306.4l1.15 2.0h-2.3zM50.7 265.9l1.15 2.0h-2.3zM49.5 275.9l1.15 2.0h-2.3zM57.2 265.0l1.15 2.0h-2.3zM61.8 275.4l1.15 2.0h-2.3zM52.0 273.9l1.15 2.0h-2.3zM53.7 281.8l1.15 2.0h-2.3zM55.9 256.5l1.15 2.0h-2.3zM56.2 313.3l1.15 2.0h-2.3zM50.3 270.9l1.15 2.0h-2.3zM55.9 290.6l1.15 2.0h-2.3zM53.3 270.5l1.15 2.0h-2.3zM59.2 315.1l1.15 2.0h-2.3zM59.2 263.2l1.15 2.0h-2.3zM58.4 304.3l1.15 2.0h-2.3zM60.4 288.7l1.15 2.0h-2.3zM54.8 271.7l1.15 2.0h-2.3zM55.8 267.2l1.15 2.0h-2.3zM55.6 293.4l1.15 2.0h-2.3zM58.7 311.0l1.15 2.0h-2.3zM56.3 311.4l1.15 2.0h-2.3zM52.6 261.8l1.15 2.0h-2.3zM55.3 294.4l1.15 2.0h-2.3zM58.2 311.9l1.15 2.0h-2.3zM54.0 301.3l1.15 2.0h-2.3zM55.9 262.3l1.15 2.0h-2.3zM59.8 296.7l1.15 2.0h-2.3zM50.6 263.4l1.15 2.0h-2.3zM60.3 312.7l1.15 2.0h-2.3zM59.5 282.4l1.15 2.0h-2.3zM55.7 314.0l1.15 2.0h-2.3zM55.1 260.3l1.15 2.0h-2.3zM62.5 280.4l1.15 2.0h-2.3zM61.0 280.5l1.15 2.0h-2.3zM51.5 270.0l1.15 2.0h-2.3zM53.0 285.2l1.15 2.0h-2.3zM55.9 275.1l1.15 2.0h-2.3zM56.6 315.5l1.15 2.0h-2.3zM51.1 261.3l1.15 2.0h-2.3zM59.9 281.1l1.15 2.0h-2.3zM55.2 305.9l1.15 2.0h-2.3zM47.1 290.5l1.15 2.0h-2.3zM48.8 292.9l1.15 2.0h-2.3zM52.3 288.2l1.15 2.0h-2.3zM56.5 261.8l1.15 2.0h-2.3zM58.1 303.7l1.15 2.0h-2.3zM61.8 308.0l1.15 2.0h-2.3zM51.6 301.2l1.15 2.0h-2.3zM59.7 272.3l1.15 2.0h-2.3zM60.2 305.3l1.15 2.0h-2.3zM53.6 278.4l1.15 2.0h-2.3zM56.5 301.4l1.15 2.0h-2.3zM58.8 311.4l1.15 2.0h-2.3zM58.0 310.5l1.15 2.0h-2.3zM56.1 283.3l1.15 2.0h-2.3zM60.5 299.3l1.15 2.0h-2.3zM54.6 293.8l1.15 2.0h-2.3zM61.9 298.0l1.15 2.0h-2.3zM53.7 308.3l1.15 2.0h-2.3zM50.3 303.1l1.15 2.0h-2.3zM52.3 270.0l1.15 2.0h-2.3zM56.3 269.3l1.15 2.0h-2.3zM56.2 275.2l1.15 2.0h-2.3zM59.7 313.0l1.15 2.0h-2.3zM53.2 286.7l1.15 2.0h-2.3zM60.1 276.5l1.15 2.0h-2.3zM61.6 302.1l1.15 2.0h-2.3zM51.0 256.8l1.15 2.0h-2.3zM58.4 265.5l1.15 2.0h-2.3zM56.5 279.5l1.15 2.0h-2.3zM50.4 275.5l1.15 2.0h-2.3zM52.5 263.7l1.15 2.0h-2.3zM56.2 263.0l1.15 2.0h-2.3zM50.5 286.1l1.15 2.0h-2.3zM58.7 268.7l1.15 2.0h-2.3zM55.5 304.3l1.15 2.0h-2.3zM52.8 305.3l1.15 2.0h-2.3zM57.7 301.7l1.15 2.0h-2.3zM55.7 314.8l1.15 2.0h-2.3zM59.9 305.7l1.15 2.0h-2.3zM61.1 296.8l1.15 2.0h-2.3zM51.6 289.7l1.15 2.0h-2.3zM59.2 263.8l1.15 2.0h-2.3zM54.9 309.1l1.15 2.0h-2.3zM55.8 263.0l1.15 2.0h-2.3zM54.3 301.7l1.15 2.0h-2.3zM55.9 302.0l1.15 2.0h-2.3zM53.8 304.6l1.15 2.0h-2.3zM55.1 308.5l1.15 2.0h-2.3zM57.4 260.1l1.15 2.0h-2.3zM53.3 260.7l1.15 2.0h-2.3zM59.5 295.5l1.15 2.0h-2.3zM54.0 257.6l1.15 2.0h-2.3zM58.3 270.2l1.15 2.0h-2.3zM56.6 287.6l1.15 2.0h-2.3zM53.4 263.3l1.15 2.0h-2.3zM52.9 300.1l1.15 2.0h-2.3zM53.1 275.2l1.15 2.0h-2.3zM52.5 284.5l1.15 2.0h-2.3zM59.1 311.0l1.15 2.0h-2.3zM55.3 307.5l1.15 2.0h-2.3zM48.6 271.2l1.15 2.0h-2.3zM54.1 265.1l1.15 2.0h-2.3zM56.4 315.1l1.15 2.0h-2.3zM57.5 309.2l1.15 2.0h-2.3zM55.7 263.1l1.15 2.0h-2.3zM50.2 295.3l1.15 2.0h-2.3zM51.0 286.6l1.15 2.0h-2.3zM60.4 310.4l1.15 2.0h-2.3zM57.8 311.3l1.15 2.0h-2.3zM58.2 311.0l1.15 2.0h-2.3zM56.6 308.0l1.15 2.0h-2.3zM59.5 306.6l1.15 2.0h-2.3zM60.5 278.2l1.15 2.0h-2.3zM55.4 283.8l1.15 2.0h-2.3zM58.3 267.5l1.15 2.0h-2.3zM56.1 314.4l1.15 2.0h-2.3zM52.5 278.2l1.15 2.0h-2.3zM57.4 312.4l1.15 2.0h-2.3zM50.7 277.6l1.15 2.0h-2.3zM54.6 290.7l1.15 2.0h-2.3zM56.8 314.6l1.15 2.0h-2.3zM60.2 266.0l1.15 2.0h-2.3zM55.0 291.2l1.15 2.0h-2.3zM55.5 274.6l1.15 2.0h-2.3zM62.1 282.5l1.15 2.0h-2.3zM52.0 258.9l1.15 2.0h-2.3zM59.8 276.4l1.15 2.0h-2.3zM54.9 302.5l1.15 2.0h-2.3zM55.9 288.0l1.15 2.0h-2.3zM57.8 295.8l1.15 2.0h-2.3zM61.9 278.5l1.15 2.0h-2.3zM54.1 259.7l1.15 2.0h-2.3zM52.0 295.0l1.15 2.0h-2.3zM55.9 257.8l1.15 2.0h-2.3zM50.9 293.2l1.15 2.0h-2.3zM51.6 266.9l1.15 2.0h-2.3zM55.8 304.6l1.15 2.0h-2.3zM56.4 304.1l1.15 2.0h-2.3zM52.9 294.9l1.15 2.0h-2.3zM58.2 314.1l1.15 2.0h-2.3zM57.9 287.6l1.15 2.0h-2.3zM59.7 269.5l1.15 2.0h-2.3zM55.0 256.5l1.15 2.0h-2.3zM51.8 298.8l1.15 2.0h-2.3zM57.1 269.6l1.15 2.0h-2.3zM60.4 276.7l1.15 2.0h-2.3zM60.6 290.1l1.15 2.0h-2.3zM55.6 314.9l1.15 2.0h-2.3zM52.6 308.3l1.15 2.0h-2.3zM53.6 301.9l1.15 2.0h-2.3zM56.8 268.2l1.15 2.0h-2.3zM47.8 285.1l1.15 2.0h-2.3zM52.7 302.0l1.15 2.0h-2.3zM57.2 271.2l1.15 2.0h-2.3zM55.9 301.6l1.15 2.0h-2.3zM51.5 295.8l1.15 2.0h-2.3zM56.5 287.8l1.15 2.0h-2.3zM52.5 274.3l1.15 2.0h-2.3zM53.2 261.5l1.15 2.0h-2.3zM56.1 266.1l1.15 2.0h-2.3zM57.1 262.7l1.15 2.0h-2.3zM55.6 270.8l1.15 2.0h-2.3zM60.7 271.9l1.15 2.0h-2.3zM57.7 300.7l1.15 2.0h-2.3zM53.5 289.4l1.15 2.0h-2.3zM52.7 256.5l1.15 2.0h-2.3zM49.4 275.0l1.15 2.0h-2.3zM56.9 257.1l1.15 2.0h-2.3zM49.3 274.2l1.15 2.0h-2.3zM50.1 268.4l1.15 2.0h-2.3zM50.2 277.7l1.15 2.0h-2.3zM54.8 290.4l1.15 2.0h-2.3zM55.8 274.0l1.15 2.0h-2.3zM59.8 276.3l1.15 2.0h-2.3zM55.9 303.2l1.15 2.0h-2.3zM58.4 263.7l1.15 2.0h-2.3zM50.5 292.2l1.15 2.0h-2.3zM54.6 257.7l1.15 2.0h-2.3zM55.9 270.0l1.15 2.0h-2.3zM57.0 285.6l1.15 2.0h-2.3zM54.0 267.2l1.15 2.0h-2.3zM58.4 267.0l1.15 2.0h-2.3zM53.4 258.2l1.15 2.0h-2.3zM50.6 287.4l1.15 2.0h-2.3zM50.7 303.4l1.15 2.0h-2.3zM50.9 263.3l1.15 2.0h-2.3zM56.2 301.6l1.15 2.0h-2.3zM62.0 279.6l1.15 2.0h-2.3zM62.3 276.3l1.15 2.0h-2.3zM61.4 288.4l1.15 2.0h-2.3zM57.9 262.7l1.15 2.0h-2.3zM47.4 291.7l1.15 2.0h-2.3zM55.8 313.2l1.15 2.0h-2.3zM56.4 274.7l1.15 2.0h-2.3zM61.3 280.3l1.15 2.0h-2.3zM60.5 278.8l1.15 2.0h-2.3zM59.7 284.0l1.15 2.0h-2.3zM55.3 257.2l1.15 2.0h-2.3zM56.8 260.5l1.15 2.0h-2.3zM58.9 314.2l1.15 2.0h-2.3zM55.0 313.1l1.15 2.0h-2.3zM46.2 292.1l1.15 2.0h-2.3zM55.7 311.1l1.15 2.0h-2.3zM48.1 272.2l1.15 2.0h-2.3zM56.4 311.1l1.15 2.0h-2.3zM58.8 315.4l1.15 2.0h-2.3zM51.9 268.3l1.15 2.0h-2.3zM48.6 290.7l1.15 2.0h-2.3zM63.2 280.5l1.15 2.0h-2.3zM57.7 259.1l1.15 2.0h-2.3zM59.1 262.0l1.15 2.0h-2.3zM54.3 258.2l1.15 2.0h-2.3zM55.8 285.3l1.15 2.0h-2.3zM53.4 303.8l1.15 2.0h-2.3zM56.4 308.3l1.15 2.0h-2.3zM58.3 283.3l1.15 2.0h-2.3zM59.8 289.9l1.15 2.0h-2.3zM56.5 315.0l1.15 2.0h-2.3zM53.2 256.7l1.15 2.0h-2.3zM48.8 280.8l1.15 2.0h-2.3zM58.3 310.9l1.15 2.0h-2.3zM57.7 299.5l1.15 2.0h-2.3zM58.6 273.8l1.15 2.0h-2.3zM60.2 291.4l1.15 2.0h-2.3zM53.9 265.8l1.15 2.0h-2.3zM54.5 314.4l1.15 2.0h-2.3zM50.1 268.3l1.15 2.0h-2.3zM57.5 294.6l1.15 2.0h-2.3zM57.3 286.7l1.15 2.0h-2.3zM55.6 295.1l1.15 2.0h-2.3zM58.7 285.3l1.15 2.0h-2.3zM54.1 281.3l1.15 2.0h-2.3zM55.8 281.6l1.15 2.0h-2.3zM54.2 281.3l1.15 2.0h-2.3zM57.2 314.0l1.15 2.0h-2.3zM54.8 279.4l1.15 2.0h-2.3zM52.9 291.2l1.15 2.0h-2.3zM60.7 308.1l1.15 2.0h-2.3zM54.6 272.9l1.15 2.0h-2.3zM60.0 309.3l1.15 2.0h-2.3zM51.5 270.2l1.15 2.0h-2.3zM52.1 283.9l1.15 2.0h-2.3zM59.8 269.7l1.15 2.0h-2.3zM54.1 262.6l1.15 2.0h-2.3zM58.1 314.8l1.15 2.0h-2.3zM56.1 259.3l1.15 2.0h-2.3zM56.1 259.8l1.15 2.0h-2.3zM59.6 309.2l1.15 2.0h-2.3zM48.1 292.7l1.15 2.0h-2.3zM59.9 270.7l1.15 2.0h-2.3zM51.1 299.5l1.15 2.0h-2.3zM53.2 290.1l1.15 2.0h-2.3zM60.8 282.1l1.15 2.0h-2.3zM62.7 275.5l1.15 2.0h-2.3zM56.3 312.8l1.15 2.0h-2.3zM57.1 280.3l1.15 2.0h-2.3zM53.0 294.0l1.15 2.0h-2.3zM50.2 289.3l1.15 2.0h-2.3zM57.7 274.1l1.15 2.0h-2.3zM55.5 271.0l1.15 2.0h-2.3zM59.2 272.2l1.15 2.0h-2.3zM62.2 282.0l1.15 2.0h-2.3z" fill="#EAA312" stroke="#B98000" stroke-width="0.3"/>
<line x1="39.00" y1="154.30" x2="209.20" y2="154.30" stroke="#9a9a9a" stroke-width="1.2"/>
<line x1="39.00" y1="154.30" x2="39.00" y2="324.30" stroke="#9a9a9a" stroke-width="1.2"/>
<line x1="209.20" y1="154.30" x2="209.20" y2="324.30" stroke="#444" stroke-width="1.0"/>
<line x1="39.00" y1="324.30" x2="209.20" y2="324.30" stroke="#444" stroke-width="1.0"/>
<line x1="35.00" y1="184.30" x2="39.00" y2="184.30" stroke="#333" stroke-width="1.2"/>
<text transform="translate(32.20 186.86) scale(0.8850 1)" font-size="7.12" font-weight="normal" text-anchor="end" fill="#555">0.03</text>
<line x1="35.00" y1="214.80" x2="39.00" y2="214.80" stroke="#333" stroke-width="1.2"/>
<text transform="translate(32.20 217.36) scale(0.8850 1)" font-size="7.12" font-weight="normal" text-anchor="end" fill="#555">0.02</text>
<line x1="35.00" y1="245.30" x2="39.00" y2="245.30" stroke="#333" stroke-width="1.2"/>
<text transform="translate(32.20 247.86) scale(0.8850 1)" font-size="7.12" font-weight="normal" text-anchor="end" fill="#555">0.01</text>
<line x1="35.00" y1="275.80" x2="39.00" y2="275.80" stroke="#333" stroke-width="1.2"/>
<text transform="translate(32.20 278.36) scale(0.8850 1)" font-size="7.12" font-weight="normal" text-anchor="end" fill="#555">0.00</text>
<line x1="35.00" y1="306.30" x2="39.00" y2="306.30" stroke="#333" stroke-width="1.2"/>
<text transform="translate(32.20 308.86) scale(0.8850 1)" font-size="7.12" font-weight="normal" text-anchor="end" fill="#555">-0.01</text>
<line x1="78.80" y1="324.30" x2="78.80" y2="328.00" stroke="#333" stroke-width="1.2"/>
<text transform="translate(78.80 335.96) scale(0.8850 1)" font-size="7.12" font-weight="normal" text-anchor="middle" fill="#555">0.00</text>
<line x1="127.30" y1="324.30" x2="127.30" y2="328.00" stroke="#333" stroke-width="1.2"/>
<text transform="translate(127.30 335.96) scale(0.8850 1)" font-size="7.12" font-weight="normal" text-anchor="middle" fill="#555">0.01</text>
<line x1="175.80" y1="324.30" x2="175.80" y2="328.00" stroke="#333" stroke-width="1.2"/>
<text transform="translate(175.80 335.96) scale(0.8850 1)" font-size="7.12" font-weight="normal" text-anchor="middle" fill="#555">0.02</text>
<text transform="translate(124.00 346.15) scale(0.8850 1)" font-size="8.47" font-weight="bold" text-anchor="middle" fill="#111">PC1</text>
<text x="0" y="0" font-size="7.5" font-weight="bold" text-anchor="middle" transform="translate(12.2 240.0) rotate(-90)">PC2</text>
<path d="M159.4 159.8l1.9 3.4h-3.8z" fill="#F26B3A"/>
<text transform="translate(165.60 164.00) scale(0.8850 1)" font-size="6.10" font-weight="normal" text-anchor="start" fill="#222">Chinese</text>
<circle cx="159.4" cy="172" r="1.9" fill="#8B22D8"/>
<text transform="translate(165.60 174.20) scale(0.8850 1)" font-size="6.10" font-weight="normal" text-anchor="start" fill="#222">Indian</text>
<rect x="157.70" y="180.30" width="3.40" height="3.40" fill="#5DB88F"/>
<text transform="translate(165.60 184.20) scale(0.8850 1)" font-size="6.10" font-weight="normal" text-anchor="start" fill="#222">Malay</text>
<path d="M159.4 189.5l2.2 2.2l-2.2 2.2l-2.2 -2.2z" fill="#EEDD3A"/>
<text transform="translate(165.60 193.90) scale(0.8850 1)" font-size="6.10" font-weight="normal" text-anchor="start" fill="#222">Chinese-Indian</text>
<circle cx="159.4" cy="201.4" r="1.5" fill="#1B72B0"/>
<text transform="translate(165.60 203.60) scale(0.8850 1)" font-size="6.10" font-weight="normal" text-anchor="start" fill="#222">Chinese-Malay</text>
<path d="M159.4 209.20000000000002l2.2 2.2l-2.2 2.2l-2.2 -2.2z" fill="#CF5E14"/>
<text transform="translate(165.60 213.60) scale(0.8850 1)" font-size="6.10" font-weight="normal" text-anchor="start" fill="#222">Indian-Malay</text>
<text x="234.20" y="8.40" font-size="15" font-weight="bold" text-anchor="start" fill="#000">c</text>
<text x="282.80" y="22.09" font-size="5.8" font-weight="bold" text-anchor="middle" fill="#1a1a1a">Hypertension</text>
<text transform="translate(299.40 39.38) scale(0.8850 1)" font-size="6.33" font-weight="bold" text-anchor="start" fill="#000">p = 1.6E-135</text>
<path d="M245.34 86.60L245.34 86.59L245.88 86.59L246.41 86.58L246.95 86.58L247.49 86.57L248.03 86.56L248.57 86.56L249.11 86.55L249.65 86.53L250.19 86.52L250.72 86.50L251.26 86.47L251.80 86.45L252.34 86.41L252.88 86.37L253.42 86.32L253.96 86.27L254.50 86.20L255.03 86.12L255.57 86.03L256.11 85.92L256.65 85.80L257.19 85.65L257.73 85.49L258.27 85.30L258.81 85.08L259.34 84.82L259.88 84.54L260.42 84.21L260.96 83.85L261.50 83.44L262.04 82.98L262.58 82.46L263.12 81.89L263.65 81.26L264.19 80.57L264.73 79.81L265.27 78.98L265.81 78.07L266.35 77.09L266.89 76.04L267.43 74.90L267.96 73.69L268.50 72.40L269.04 71.04L269.58 69.60L270.12 68.09L270.66 66.51L271.20 64.88L271.74 63.19L272.27 61.45L272.81 59.67L273.35 57.87L273.89 56.05L274.43 54.23L274.97 52.41L275.51 50.61L276.05 48.85L276.58 47.13L277.12 45.48L277.66 43.90L278.20 42.40L278.74 41.02L279.28 39.74L279.82 38.59L280.36 37.58L280.89 36.72L281.43 36.02L281.97 35.47L282.51 35.10L283.05 34.90L283.59 34.87L284.13 34.99L284.67 35.25L285.20 35.65L285.74 36.19L286.28 36.86L286.82 37.65L287.36 38.56L287.90 39.59L288.44 40.72L288.98 41.94L289.51 43.26L290.05 44.65L290.59 46.10L291.13 47.62L291.67 49.18L292.21 50.77L292.75 52.40L293.29 54.03L293.82 55.68L294.36 57.32L294.90 58.95L295.44 60.57L295.98 62.15L296.52 63.71L297.06 65.22L297.60 66.69L298.13 68.10L298.67 69.47L299.21 70.77L299.75 72.02L300.29 73.21L300.83 74.33L301.37 75.39L301.91 76.39L302.44 77.32L302.98 78.19L303.52 79.00L304.06 79.75L304.60 80.45L305.14 81.09L305.68 81.67L306.21 82.21L306.75 82.70L307.29 83.14L307.83 83.54L308.37 83.90L308.91 84.23L309.45 84.52L309.99 84.78L310.52 85.02L311.06 85.22L311.60 85.41L312.14 85.57L312.68 85.71L313.22 85.83L313.76 85.94L314.30 86.04L314.83 86.12L315.37 86.19L315.91 86.25L316.45 86.31L316.99 86.35L317.53 86.39L318.07 86.43L318.61 86.45L319.14 86.48L319.68 86.50L320.22 86.52L320.76 86.53L320.76 86.60Z" fill="#F39161" fill-opacity="0.5" stroke="#111" stroke-width="0.7" stroke-linejoin="round"/>
<path d="M245.34 86.60L245.34 86.57L245.88 86.56L246.41 86.55L246.95 86.54L247.49 86.53L248.03 86.51L248.57 86.50L249.11 86.47L249.65 86.45L250.19 86.41L250.72 86.38L251.26 86.33L251.80 86.28L252.34 86.21L252.88 86.14L253.42 86.06L253.96 85.96L254.50 85.84L255.03 85.71L255.57 85.55L256.11 85.38L256.65 85.18L257.19 84.95L257.73 84.69L258.27 84.40L258.81 84.07L259.34 83.70L259.88 83.29L260.42 82.83L260.96 82.33L261.50 81.76L262.04 81.15L262.58 80.47L263.12 79.73L263.65 78.92L264.19 78.05L264.73 77.11L265.27 76.10L265.81 75.02L266.35 73.87L266.89 72.65L267.43 71.35L267.96 70.00L268.50 68.57L269.04 67.09L269.58 65.56L270.12 63.97L270.66 62.34L271.20 60.68L271.74 58.99L272.27 57.28L272.81 55.57L273.35 53.86L273.89 52.16L274.43 50.50L274.97 48.87L275.51 47.29L276.05 45.78L276.58 44.34L277.12 42.99L277.66 41.74L278.20 40.60L278.74 39.58L279.28 38.69L279.82 37.94L280.36 37.33L280.89 36.87L281.43 36.57L281.97 36.43L282.51 36.44L283.05 36.58L283.59 36.85L284.13 37.25L284.67 37.77L285.20 38.41L285.74 39.16L286.28 40.03L286.82 41.00L287.36 42.06L287.90 43.21L288.44 44.44L288.98 45.74L289.51 47.11L290.05 48.53L290.59 49.99L291.13 51.49L291.67 53.01L292.21 54.55L292.75 56.10L293.29 57.65L293.82 59.19L294.36 60.72L294.90 62.23L295.44 63.70L295.98 65.15L296.52 66.55L297.06 67.91L297.60 69.23L298.13 70.49L298.67 71.70L299.21 72.86L299.75 73.96L300.29 75.00L300.83 75.98L301.37 76.90L301.91 77.77L302.44 78.58L302.98 79.34L303.52 80.04L304.06 80.69L304.60 81.28L305.14 81.83L305.68 82.34L306.21 82.80L306.75 83.22L307.29 83.60L307.83 83.95L308.37 84.26L308.91 84.54L309.45 84.79L309.99 85.01L310.52 85.21L311.06 85.39L311.60 85.55L312.14 85.69L312.68 85.81L313.22 85.92L313.76 86.02L314.30 86.10L314.83 86.17L315.37 86.24L315.91 86.29L316.45 86.34L316.99 86.38L317.53 86.41L318.07 86.44L318.61 86.47L319.14 86.49L319.68 86.51L320.22 86.52L320.76 86.54L320.76 86.60Z" fill="#71C8A0" fill-opacity="0.5" stroke="#111" stroke-width="0.7" stroke-linejoin="round"/>
<path d="M245.34 86.60L245.34 85.94L245.88 85.84L246.41 85.73L246.95 85.60L247.49 85.46L248.03 85.30L248.57 85.12L249.11 84.92L249.65 84.69L250.19 84.44L250.72 84.17L251.26 83.87L251.80 83.53L252.34 83.17L252.88 82.77L253.42 82.33L253.96 81.85L254.50 81.34L255.03 80.78L255.57 80.17L256.11 79.52L256.65 78.83L257.19 78.08L257.73 77.29L258.27 76.44L258.81 75.55L259.34 74.60L259.88 73.61L260.42 72.56L260.96 71.47L261.50 70.33L262.04 69.15L262.58 67.92L263.12 66.66L263.65 65.36L264.19 64.03L264.73 62.67L265.27 61.29L265.81 59.90L266.35 58.49L266.89 57.08L267.43 55.68L267.96 54.28L268.50 52.90L269.04 51.54L269.58 50.21L270.12 48.93L270.66 47.69L271.20 46.50L271.74 45.38L272.27 44.32L272.81 43.34L273.35 42.45L273.89 41.64L274.43 40.92L274.97 40.30L275.51 39.78L276.05 39.37L276.58 39.07L277.12 38.88L277.66 38.80L278.20 38.85L278.74 39.03L279.28 39.34L279.82 39.79L280.36 40.36L280.89 41.06L281.43 41.87L281.97 42.80L282.51 43.83L283.05 44.96L283.59 46.17L284.13 47.46L284.67 48.81L285.20 50.22L285.74 51.68L286.28 53.18L286.82 54.71L287.36 56.25L287.90 57.80L288.44 59.35L288.98 60.89L289.51 62.41L290.05 63.90L290.59 65.37L291.13 66.80L291.67 68.18L292.21 69.52L292.75 70.80L293.29 72.03L293.82 73.20L294.36 74.32L294.90 75.37L295.44 76.36L295.98 77.29L296.52 78.16L297.06 78.97L297.60 79.73L298.13 80.42L298.67 81.07L299.21 81.65L299.75 82.19L300.29 82.68L300.83 83.13L301.37 83.54L301.91 83.90L302.44 84.23L302.98 84.52L303.52 84.79L304.06 85.02L304.60 85.23L305.14 85.41L305.68 85.57L306.21 85.72L306.75 85.84L307.29 85.95L307.83 86.05L308.37 86.13L308.91 86.20L309.45 86.26L309.99 86.31L310.52 86.36L311.06 86.40L311.60 86.43L312.14 86.46L312.68 86.48L313.22 86.50L313.76 86.52L314.30 86.53L314.83 86.55L315.37 86.56L315.91 86.56L316.45 86.57L316.99 86.58L317.53 86.58L318.07 86.58L318.61 86.59L319.14 86.59L319.68 86.59L320.22 86.59L320.76 86.59L320.76 86.60Z" fill="#8517D1" fill-opacity="0.5" stroke="#111" stroke-width="0.7" stroke-linejoin="round"/>
<line x1="241.50" y1="30.90" x2="241.50" y2="89.50" stroke="#222" stroke-width="1.1"/>
<line x1="241.50" y1="89.50" x2="324.90" y2="89.50" stroke="#222" stroke-width="1.1"/>
<text transform="translate(237.50 89.12) scale(0.8850 1)" font-size="7.01" font-weight="normal" text-anchor="end" fill="#666">0.0</text>
<text transform="translate(237.50 76.54) scale(0.8850 1)" font-size="7.01" font-weight="normal" text-anchor="end" fill="#666">0.1</text>
<text transform="translate(237.50 63.96) scale(0.8850 1)" font-size="7.01" font-weight="normal" text-anchor="end" fill="#666">0.2</text>
<text transform="translate(237.50 51.38) scale(0.8850 1)" font-size="7.01" font-weight="normal" text-anchor="end" fill="#666">0.3</text>
<text transform="translate(237.50 38.80) scale(0.8850 1)" font-size="7.01" font-weight="normal" text-anchor="end" fill="#666">0.4</text>
<text transform="translate(242.92 97.52) scale(0.8850 1)" font-size="7.01" font-weight="normal" text-anchor="middle" fill="#666">-4</text>
<text transform="translate(263.06 97.52) scale(0.8850 1)" font-size="7.01" font-weight="normal" text-anchor="middle" fill="#666">-2</text>
<text transform="translate(283.20 97.52) scale(0.8850 1)" font-size="7.01" font-weight="normal" text-anchor="middle" fill="#666">0</text>
<text transform="translate(303.34 97.52) scale(0.8850 1)" font-size="7.01" font-weight="normal" text-anchor="middle" fill="#666">2</text>
<text transform="translate(323.48 97.52) scale(0.8850 1)" font-size="7.01" font-weight="normal" text-anchor="middle" fill="#666">4</text>
<text x="394.90" y="22.09" font-size="5.8" font-weight="bold" text-anchor="middle" fill="#1a1a1a">Obesity</text>
<text transform="translate(410.00 39.78) scale(0.8850 1)" font-size="6.33" font-weight="bold" text-anchor="start" fill="#000">p = 3.5E-92</text>
<path d="M357.50 86.60L357.50 86.57L358.04 86.57L358.57 86.56L359.11 86.55L359.65 86.53L360.19 86.52L360.72 86.50L361.26 86.48L361.80 86.46L362.33 86.42L362.87 86.39L363.41 86.35L363.95 86.30L364.48 86.24L365.02 86.17L365.56 86.08L366.10 85.99L366.63 85.88L367.17 85.75L367.71 85.61L368.24 85.44L368.78 85.25L369.32 85.03L369.86 84.78L370.39 84.50L370.93 84.18L371.47 83.82L372.01 83.42L372.54 82.98L373.08 82.48L373.62 81.93L374.16 81.33L374.69 80.66L375.23 79.93L375.77 79.14L376.30 78.27L376.84 77.34L377.38 76.33L377.92 75.25L378.45 74.09L378.99 72.86L379.53 71.55L380.07 70.17L380.60 68.71L381.14 67.19L381.68 65.61L382.21 63.97L382.75 62.27L383.29 60.53L383.83 58.75L384.36 56.95L384.90 55.12L385.44 53.28L385.98 51.45L386.51 49.63L387.05 47.84L387.59 46.09L388.12 44.39L388.66 42.76L389.20 41.20L389.74 39.74L390.27 38.38L390.81 37.13L391.35 36.01L391.89 35.02L392.42 34.18L392.96 33.49L393.50 32.96L394.03 32.59L394.57 32.39L395.11 32.35L395.65 32.47L396.18 32.74L396.72 33.16L397.26 33.73L397.80 34.43L398.33 35.27L398.87 36.23L399.41 37.32L399.95 38.52L400.48 39.82L401.02 41.21L401.56 42.68L402.09 44.22L402.63 45.82L403.17 47.47L403.71 49.16L404.24 50.88L404.78 52.61L405.32 54.35L405.86 56.09L406.39 57.81L406.93 59.51L407.47 61.18L408.00 62.82L408.54 64.41L409.08 65.95L409.62 67.44L410.15 68.87L410.69 70.24L411.23 71.55L411.77 72.79L412.30 73.97L412.84 75.07L413.38 76.11L413.91 77.08L414.45 77.99L414.99 78.83L415.53 79.61L416.06 80.33L416.60 80.99L417.14 81.59L417.68 82.14L418.21 82.65L418.75 83.10L419.29 83.51L419.82 83.88L420.36 84.22L420.90 84.51L421.44 84.78L421.97 85.02L422.51 85.23L423.05 85.41L423.59 85.57L424.12 85.72L424.66 85.84L425.20 85.95L425.74 86.05L426.27 86.13L426.81 86.20L427.35 86.26L427.88 86.32L428.42 86.36L428.96 86.40L429.50 86.43L430.03 86.46L430.57 86.48L431.11 86.50L431.65 86.52L432.18 86.53L432.72 86.55L432.72 86.60Z" fill="#F39161" fill-opacity="0.5" stroke="#111" stroke-width="0.7" stroke-linejoin="round"/>
<path d="M357.50 86.60L357.50 86.56L358.04 86.55L358.57 86.54L359.11 86.52L359.65 86.51L360.19 86.49L360.72 86.46L361.26 86.43L361.80 86.39L362.33 86.35L362.87 86.30L363.41 86.24L363.95 86.18L364.48 86.09L365.02 86.00L365.56 85.89L366.10 85.76L366.63 85.62L367.17 85.45L367.71 85.26L368.24 85.04L368.78 84.79L369.32 84.51L369.86 84.19L370.39 83.84L370.93 83.44L371.47 82.99L372.01 82.50L372.54 81.95L373.08 81.35L373.62 80.69L374.16 79.97L374.69 79.18L375.23 78.33L375.77 77.41L376.30 76.42L376.84 75.36L377.38 74.23L377.92 73.03L378.45 71.77L378.99 70.43L379.53 69.04L380.07 67.58L380.60 66.08L381.14 64.52L381.68 62.93L382.21 61.30L382.75 59.65L383.29 57.99L383.83 56.32L384.36 54.65L384.90 53.01L385.44 51.39L385.98 49.82L386.51 48.31L387.05 46.85L387.59 45.48L388.12 44.20L388.66 43.03L389.20 41.96L389.74 41.02L390.27 40.21L390.81 39.53L391.35 39.01L391.89 38.63L392.42 38.41L392.96 38.34L393.50 38.39L394.03 38.53L394.57 38.74L395.11 39.04L395.65 39.42L396.18 39.88L396.72 40.42L397.26 41.03L397.80 41.71L398.33 42.45L398.87 43.26L399.41 44.13L399.95 45.06L400.48 46.04L401.02 47.06L401.56 48.12L402.09 49.22L402.63 50.36L403.17 51.52L403.71 52.70L404.24 53.90L404.78 55.11L405.32 56.33L405.86 57.56L406.39 58.78L406.93 60.00L407.47 61.21L408.00 62.41L408.54 63.59L409.08 64.75L409.62 65.89L410.15 67.00L410.69 68.09L411.23 69.15L411.77 70.17L412.30 71.16L412.84 72.12L413.38 73.04L413.91 73.93L414.45 74.78L414.99 75.59L415.53 76.36L416.06 77.10L416.60 77.80L417.14 78.46L417.68 79.08L418.21 79.67L418.75 80.22L419.29 80.74L419.82 81.23L420.36 81.69L420.90 82.11L421.44 82.51L421.97 82.87L422.51 83.21L423.05 83.53L423.59 83.82L424.12 84.08L424.66 84.33L425.20 84.55L425.74 84.76L426.27 84.95L426.81 85.12L427.35 85.28L427.88 85.42L428.42 85.55L428.96 85.66L429.50 85.77L430.03 85.86L430.57 85.95L431.11 86.02L431.65 86.09L432.18 86.15L432.72 86.20L432.72 86.60Z" fill="#71C8A0" fill-opacity="0.5" stroke="#111" stroke-width="0.7" stroke-linejoin="round"/>
<path d="M357.50 86.60L357.50 84.48L358.04 84.24L358.57 83.99L359.11 83.72L359.65 83.42L360.19 83.10L360.72 82.75L361.26 82.38L361.80 81.98L362.33 81.54L362.87 81.08L363.41 80.59L363.95 80.06L364.48 79.50L365.02 78.90L365.56 78.27L366.10 77.60L366.63 76.89L367.17 76.15L367.71 75.37L368.24 74.56L368.78 73.71L369.32 72.82L369.86 71.89L370.39 70.94L370.93 69.95L371.47 68.92L372.01 67.87L372.54 66.79L373.08 65.68L373.62 64.55L374.16 63.40L374.69 62.23L375.23 61.05L375.77 59.86L376.30 58.66L376.84 57.46L377.38 56.26L377.92 55.07L378.45 53.88L378.99 52.71L379.53 51.56L380.07 50.44L380.60 49.34L381.14 48.28L381.68 47.26L382.21 46.28L382.75 45.35L383.29 44.47L383.83 43.65L384.36 42.88L384.90 42.19L385.44 41.56L385.98 41.00L386.51 40.51L387.05 40.10L387.59 39.77L388.12 39.52L388.66 39.35L389.20 39.27L389.74 39.27L390.27 39.40L390.81 39.68L391.35 40.09L391.89 40.63L392.42 41.31L392.96 42.10L393.50 43.02L394.03 44.04L394.57 45.16L395.11 46.37L395.65 47.66L396.18 49.02L396.72 50.44L397.26 51.92L397.80 53.43L398.33 54.97L398.87 56.53L399.41 58.09L399.95 59.66L400.48 61.21L401.02 62.75L401.56 64.26L402.09 65.74L402.63 67.17L403.17 68.56L403.71 69.91L404.24 71.19L404.78 72.43L405.32 73.60L405.86 74.71L406.39 75.76L406.93 76.74L407.47 77.66L408.00 78.52L408.54 79.32L409.08 80.06L409.62 80.74L410.15 81.37L410.69 81.94L411.23 82.46L411.77 82.94L412.30 83.37L412.84 83.76L413.38 84.11L413.91 84.42L414.45 84.70L414.99 84.95L415.53 85.17L416.06 85.36L416.60 85.53L417.14 85.68L417.68 85.81L418.21 85.93L418.75 86.03L419.29 86.11L419.82 86.19L420.36 86.25L420.90 86.31L421.44 86.36L421.97 86.40L422.51 86.43L423.05 86.46L423.59 86.48L424.12 86.50L424.66 86.52L425.20 86.53L425.74 86.55L426.27 86.56L426.81 86.56L427.35 86.57L427.88 86.58L428.42 86.58L428.96 86.58L429.50 86.59L430.03 86.59L430.57 86.59L431.11 86.59L431.65 86.60L432.18 86.60L432.72 86.60L432.72 86.60Z" fill="#8517D1" fill-opacity="0.5" stroke="#111" stroke-width="0.7" stroke-linejoin="round"/>
<line x1="353.90" y1="31.30" x2="353.90" y2="89.50" stroke="#222" stroke-width="1.1"/>
<line x1="353.90" y1="89.50" x2="436.60" y2="89.50" stroke="#222" stroke-width="1.1"/>
<text transform="translate(349.90 89.12) scale(0.8850 1)" font-size="7.01" font-weight="normal" text-anchor="end" fill="#666">0.0</text>
<text transform="translate(349.90 76.54) scale(0.8850 1)" font-size="7.01" font-weight="normal" text-anchor="end" fill="#666">0.1</text>
<text transform="translate(349.90 63.96) scale(0.8850 1)" font-size="7.01" font-weight="normal" text-anchor="end" fill="#666">0.2</text>
<text transform="translate(349.90 51.38) scale(0.8850 1)" font-size="7.01" font-weight="normal" text-anchor="end" fill="#666">0.3</text>
<text transform="translate(349.90 38.80) scale(0.8850 1)" font-size="7.01" font-weight="normal" text-anchor="end" fill="#666">0.4</text>
<text transform="translate(372.80 97.52) scale(0.8850 1)" font-size="7.01" font-weight="normal" text-anchor="middle" fill="#666">-2</text>
<text transform="translate(394.20 97.52) scale(0.8850 1)" font-size="7.01" font-weight="normal" text-anchor="middle" fill="#666">0</text>
<text transform="translate(415.60 97.52) scale(0.8850 1)" font-size="7.01" font-weight="normal" text-anchor="middle" fill="#666">2</text>
<text x="283.00" y="124.99" font-size="5.8" font-weight="bold" text-anchor="middle" fill="#1a1a1a">Type 2</text>
<text x="283.00" y="131.09" font-size="5.8" font-weight="bold" text-anchor="middle" fill="#1a1a1a">Diabetes</text>
<text transform="translate(298.50 147.88) scale(0.8850 1)" font-size="6.33" font-weight="bold" text-anchor="start" fill="#000">p = 9.4E-05</text>
<path d="M246.77 192.80L246.77 192.77L247.30 192.77L247.83 192.76L248.36 192.75L248.89 192.74L249.42 192.73L249.95 192.71L250.48 192.69L251.01 192.67L251.54 192.64L252.07 192.61L252.60 192.57L253.13 192.53L253.66 192.47L254.19 192.41L254.72 192.34L255.25 192.25L255.78 192.16L256.31 192.05L256.84 191.92L257.37 191.77L257.90 191.60L258.43 191.41L258.96 191.19L259.49 190.94L260.02 190.66L260.55 190.35L261.08 189.99L261.61 189.60L262.14 189.16L262.67 188.68L263.20 188.14L263.73 187.56L264.26 186.91L264.79 186.21L265.32 185.44L265.85 184.61L266.38 183.71L266.91 182.74L267.44 181.70L267.97 180.59L268.50 179.41L269.03 178.17L269.56 176.85L270.09 175.46L270.62 174.01L271.15 172.51L271.68 170.94L272.21 169.33L272.74 167.67L273.27 165.97L273.80 164.25L274.33 162.50L274.86 160.74L275.39 158.99L275.92 157.24L276.45 155.51L276.98 153.82L277.51 152.17L278.04 150.58L278.57 149.06L279.10 147.61L279.63 146.26L280.16 145.01L280.69 143.88L281.22 142.86L281.75 141.98L282.28 141.23L282.81 140.63L283.34 140.18L283.87 139.89L284.40 139.75L284.93 139.77L285.46 139.95L285.99 140.28L286.52 140.77L287.05 141.41L287.58 142.19L288.11 143.11L288.64 144.15L289.17 145.32L289.70 146.60L290.23 147.97L290.76 149.44L291.29 150.98L291.82 152.59L292.35 154.25L292.88 155.95L293.41 157.68L293.94 159.43L294.47 161.19L295.00 162.95L295.53 164.69L296.06 166.41L296.59 168.09L297.12 169.74L297.65 171.35L298.18 172.90L298.71 174.39L299.24 175.82L299.77 177.19L300.30 178.49L300.83 179.72L301.36 180.88L301.89 181.97L302.42 182.99L302.95 183.94L303.48 184.82L304.01 185.64L304.54 186.39L305.07 187.08L305.60 187.71L306.13 188.29L306.66 188.81L307.19 189.28L307.72 189.70L308.25 190.09L308.78 190.43L309.31 190.73L309.84 191.01L310.37 191.25L310.90 191.46L311.43 191.64L311.96 191.81L312.49 191.95L313.02 192.08L313.55 192.18L314.08 192.28L314.61 192.36L315.14 192.43L315.67 192.49L316.20 192.54L316.73 192.58L317.26 192.62L317.79 192.65L318.32 192.67L318.85 192.70L319.38 192.71L319.91 192.73L320.44 192.74L320.98 192.75L320.98 192.80Z" fill="#F39161" fill-opacity="0.5" stroke="#111" stroke-width="0.7" stroke-linejoin="round"/>
<path d="M246.77 192.80L246.77 192.75L247.30 192.74L247.83 192.73L248.36 192.71L248.89 192.70L249.42 192.67L249.95 192.65L250.48 192.62L251.01 192.58L251.54 192.54L252.07 192.49L252.60 192.43L253.13 192.36L253.66 192.28L254.19 192.18L254.72 192.08L255.25 191.95L255.78 191.81L256.31 191.64L256.84 191.46L257.37 191.25L257.90 191.01L258.43 190.73L258.96 190.43L259.49 190.09L260.02 189.70L260.55 189.28L261.08 188.81L261.61 188.29L262.14 187.71L262.67 187.08L263.20 186.39L263.73 185.64L264.26 184.82L264.79 183.94L265.32 182.99L265.85 181.97L266.38 180.88L266.91 179.72L267.44 178.49L267.97 177.19L268.50 175.82L269.03 174.39L269.56 172.90L270.09 171.35L270.62 169.74L271.15 168.09L271.68 166.41L272.21 164.69L272.74 162.95L273.27 161.19L273.80 159.43L274.33 157.68L274.86 155.95L275.39 154.25L275.92 152.59L276.45 150.98L276.98 149.44L277.51 147.97L278.04 146.60L278.57 145.32L279.10 144.15L279.63 143.11L280.16 142.19L280.69 141.41L281.22 140.77L281.75 140.28L282.28 139.95L282.81 139.77L283.34 139.75L283.87 139.89L284.40 140.18L284.93 140.63L285.46 141.23L285.99 141.98L286.52 142.86L287.05 143.88L287.58 145.01L288.11 146.26L288.64 147.61L289.17 149.06L289.70 150.58L290.23 152.17L290.76 153.82L291.29 155.51L291.82 157.24L292.35 158.99L292.88 160.74L293.41 162.50L293.94 164.25L294.47 165.97L295.00 167.67L295.53 169.33L296.06 170.94L296.59 172.51L297.12 174.01L297.65 175.46L298.18 176.85L298.71 178.17L299.24 179.41L299.77 180.59L300.30 181.70L300.83 182.74L301.36 183.71L301.89 184.61L302.42 185.44L302.95 186.21L303.48 186.91L304.01 187.56L304.54 188.14L305.07 188.68L305.60 189.16L306.13 189.60L306.66 189.99L307.19 190.35L307.72 190.66L308.25 190.94L308.78 191.19L309.31 191.41L309.84 191.60L310.37 191.77L310.90 191.92L311.43 192.05L311.96 192.16L312.49 192.25L313.02 192.34L313.55 192.41L314.08 192.47L314.61 192.53L315.14 192.57L315.67 192.61L316.20 192.64L316.73 192.67L317.26 192.69L317.79 192.71L318.32 192.73L318.85 192.74L319.38 192.75L319.91 192.76L320.44 192.77L320.98 192.77L320.98 192.80Z" fill="#71C8A0" fill-opacity="0.5" stroke="#111" stroke-width="0.7" stroke-linejoin="round"/>
<path d="M246.77 192.80L246.77 192.79L247.30 192.78L247.83 192.78L248.36 192.77L248.89 192.77L249.42 192.76L249.95 192.75L250.48 192.74L251.01 192.73L251.54 192.71L252.07 192.69L252.60 192.67L253.13 192.64L253.66 192.61L254.19 192.57L254.72 192.53L255.25 192.47L255.78 192.41L256.31 192.33L256.84 192.25L257.37 192.15L257.90 192.03L258.43 191.90L258.96 191.75L259.49 191.57L260.02 191.37L260.55 191.14L261.08 190.89L261.61 190.59L262.14 190.27L262.67 189.90L263.20 189.49L263.73 189.03L264.26 188.52L264.79 187.96L265.32 187.34L265.85 186.66L266.38 185.92L266.91 185.11L267.44 184.23L267.97 183.29L268.50 182.27L269.03 181.18L269.56 180.01L270.09 178.77L270.62 177.46L271.15 176.07L271.68 174.62L272.21 173.10L272.74 171.52L273.27 169.89L273.80 168.20L274.33 166.47L274.86 164.71L275.39 162.92L275.92 161.11L276.45 159.30L276.98 157.49L277.51 155.70L278.04 153.94L278.57 152.22L279.10 150.56L279.63 148.96L280.16 147.44L280.69 146.01L281.22 144.69L281.75 143.48L282.28 142.39L282.81 141.44L283.34 140.64L283.87 139.98L284.40 139.48L284.93 139.14L285.46 138.96L285.99 138.95L286.52 139.10L287.05 139.42L287.58 139.90L288.11 140.54L288.64 141.32L289.17 142.25L289.70 143.32L290.23 144.51L290.76 145.82L291.29 147.24L291.82 148.74L292.35 150.33L292.88 151.99L293.41 153.70L293.94 155.46L294.47 157.25L295.00 159.05L295.53 160.86L296.06 162.67L296.59 164.46L297.12 166.23L297.65 167.96L298.18 169.66L298.71 171.30L299.24 172.89L299.77 174.41L300.30 175.88L300.83 177.27L301.36 178.59L301.89 179.84L302.42 181.02L302.95 182.12L303.48 183.15L304.01 184.11L304.54 184.99L305.07 185.81L305.60 186.56L306.13 187.25L306.66 187.88L307.19 188.45L307.72 188.96L308.25 189.43L308.78 189.84L309.31 190.22L309.84 190.55L310.37 190.85L310.90 191.11L311.43 191.34L311.96 191.55L312.49 191.72L313.02 191.88L313.55 192.02L314.08 192.13L314.61 192.24L315.14 192.32L315.67 192.40L316.20 192.46L316.73 192.52L317.26 192.57L317.79 192.60L318.32 192.64L318.85 192.67L319.38 192.69L319.91 192.71L320.44 192.73L320.98 192.74L320.98 192.80Z" fill="#8517D1" fill-opacity="0.5" stroke="#111" stroke-width="0.7" stroke-linejoin="round"/>
<line x1="241.70" y1="137.20" x2="241.70" y2="195.30" stroke="#222" stroke-width="1.1"/>
<line x1="241.70" y1="195.30" x2="324.10" y2="195.30" stroke="#222" stroke-width="1.1"/>
<text transform="translate(237.70 195.32) scale(0.8850 1)" font-size="7.01" font-weight="normal" text-anchor="end" fill="#666">0.0</text>
<text transform="translate(237.70 182.02) scale(0.8850 1)" font-size="7.01" font-weight="normal" text-anchor="end" fill="#666">0.1</text>
<text transform="translate(237.70 168.72) scale(0.8850 1)" font-size="7.01" font-weight="normal" text-anchor="end" fill="#666">0.2</text>
<text transform="translate(237.70 155.42) scale(0.8850 1)" font-size="7.01" font-weight="normal" text-anchor="end" fill="#666">0.3</text>
<text transform="translate(237.70 142.12) scale(0.8850 1)" font-size="7.01" font-weight="normal" text-anchor="end" fill="#666">0.4</text>
<text transform="translate(245.80 203.32) scale(0.8850 1)" font-size="7.01" font-weight="normal" text-anchor="middle" fill="#666">-4</text>
<text transform="translate(265.20 203.32) scale(0.8850 1)" font-size="7.01" font-weight="normal" text-anchor="middle" fill="#666">-2</text>
<text transform="translate(284.60 203.32) scale(0.8850 1)" font-size="7.01" font-weight="normal" text-anchor="middle" fill="#666">0</text>
<text transform="translate(304.00 203.32) scale(0.8850 1)" font-size="7.01" font-weight="normal" text-anchor="middle" fill="#666">2</text>
<text transform="translate(323.40 203.32) scale(0.8850 1)" font-size="7.01" font-weight="normal" text-anchor="middle" fill="#666">4</text>
<text x="395.00" y="121.79" font-size="5.8" font-weight="bold" text-anchor="middle" fill="#1a1a1a">Coronary</text>
<text x="395.00" y="127.89" font-size="5.8" font-weight="bold" text-anchor="middle" fill="#1a1a1a">Artery</text>
<text x="395.00" y="133.99" font-size="5.8" font-weight="bold" text-anchor="middle" fill="#1a1a1a">Disease</text>
<text transform="translate(410.20 147.68) scale(0.8850 1)" font-size="6.33" font-weight="bold" text-anchor="start" fill="#000">p = 2.2E-56</text>
<path d="M357.27 192.70L357.27 192.60L357.81 192.58L358.34 192.56L358.88 192.53L359.42 192.49L359.95 192.45L360.49 192.40L361.03 192.34L361.56 192.27L362.10 192.18L362.64 192.09L363.17 191.98L363.71 191.85L364.25 191.71L364.78 191.54L365.32 191.34L365.86 191.12L366.39 190.87L366.93 190.59L367.46 190.27L368.00 189.91L368.54 189.51L369.07 189.06L369.61 188.57L370.15 188.01L370.68 187.41L371.22 186.74L371.76 186.01L372.29 185.21L372.83 184.34L373.37 183.41L373.90 182.39L374.44 181.31L374.98 180.15L375.51 178.92L376.05 177.61L376.59 176.23L377.12 174.79L377.66 173.27L378.20 171.70L378.73 170.06L379.27 168.38L379.81 166.65L380.34 164.89L380.88 163.10L381.42 161.30L381.95 159.49L382.49 157.69L383.03 155.91L383.56 154.15L384.10 152.44L384.64 150.79L385.17 149.20L385.71 147.70L386.25 146.29L386.78 144.98L387.32 143.80L387.86 142.74L388.39 141.82L388.93 141.04L389.47 140.42L390.00 139.95L390.54 139.65L391.08 139.52L391.61 139.55L392.15 139.77L392.69 140.17L393.22 140.75L393.76 141.51L394.30 142.42L394.83 143.49L395.37 144.71L395.90 146.06L396.44 147.53L396.98 149.11L397.51 150.77L398.05 152.51L398.59 154.32L399.12 156.17L399.66 158.05L400.20 159.95L400.73 161.86L401.27 163.75L401.81 165.62L402.34 167.46L402.88 169.26L403.42 171.00L403.95 172.68L404.49 174.30L405.03 175.85L405.56 177.32L406.10 178.71L406.64 180.02L407.17 181.24L407.71 182.39L408.25 183.45L408.78 184.43L409.32 185.33L409.86 186.16L410.39 186.91L410.93 187.60L411.47 188.22L412.00 188.78L412.54 189.28L413.08 189.72L413.61 190.12L414.15 190.47L414.69 190.79L415.22 191.06L415.76 191.30L416.30 191.51L416.83 191.69L417.37 191.84L417.91 191.98L418.44 192.09L418.98 192.19L419.52 192.28L420.05 192.35L420.59 192.41L421.13 192.46L421.66 192.50L422.20 192.54L422.74 192.57L423.27 192.59L423.81 192.61L424.34 192.63L424.88 192.64L425.42 192.65L425.95 192.66L426.49 192.67L427.03 192.68L427.56 192.68L428.10 192.69L428.64 192.69L429.17 192.69L429.71 192.69L430.25 192.69L430.78 192.70L431.32 192.70L431.86 192.70L432.39 192.70L432.39 192.70Z" fill="#F39161" fill-opacity="0.5" stroke="#111" stroke-width="0.7" stroke-linejoin="round"/>
<path d="M357.27 192.70L357.27 192.65L357.81 192.63L358.34 192.62L358.88 192.60L359.42 192.58L359.95 192.55L360.49 192.52L361.03 192.48L361.56 192.43L362.10 192.38L362.64 192.31L363.17 192.24L363.71 192.15L364.25 192.04L364.78 191.93L365.32 191.79L365.86 191.63L366.39 191.44L366.93 191.23L367.46 190.99L368.00 190.72L368.54 190.41L369.07 190.07L369.61 189.67L370.15 189.24L370.68 188.75L371.22 188.21L371.76 187.61L372.29 186.95L372.83 186.22L373.37 185.43L373.90 184.57L374.44 183.64L374.98 182.63L375.51 181.54L376.05 180.38L376.59 179.14L377.12 177.83L377.66 176.45L378.20 174.99L378.73 173.46L379.27 171.87L379.81 170.23L380.34 168.53L380.88 166.79L381.42 165.01L381.95 163.21L382.49 161.40L383.03 159.58L383.56 157.78L384.10 155.99L384.64 154.24L385.17 152.53L385.71 150.89L386.25 149.33L386.78 147.85L387.32 146.47L387.86 145.21L388.39 144.07L388.93 143.06L389.47 142.20L390.00 141.50L390.54 140.95L391.08 140.57L391.61 140.36L392.15 140.32L392.69 140.44L393.22 140.73L393.76 141.18L394.30 141.79L394.83 142.54L395.37 143.44L395.90 144.48L396.44 145.64L396.98 146.92L397.51 148.30L398.05 149.78L398.59 151.34L399.12 152.97L399.66 154.65L400.20 156.37L400.73 158.13L401.27 159.91L401.81 161.69L402.34 163.46L402.88 165.22L403.42 166.96L403.95 168.66L404.49 170.32L405.03 171.93L405.56 173.49L406.10 174.98L406.64 176.41L407.17 177.77L407.71 179.06L408.25 180.28L408.78 181.43L409.32 182.50L409.86 183.50L410.39 184.42L410.93 185.28L411.47 186.07L412.00 186.79L412.54 187.45L413.08 188.06L413.61 188.60L414.15 189.09L414.69 189.54L415.22 189.94L415.76 190.29L416.30 190.61L416.83 190.89L417.37 191.14L417.91 191.35L418.44 191.55L418.98 191.71L419.52 191.86L420.05 191.98L420.59 192.09L421.13 192.19L421.66 192.27L422.20 192.34L422.74 192.40L423.27 192.45L423.81 192.49L424.34 192.53L424.88 192.56L425.42 192.58L425.95 192.60L426.49 192.62L427.03 192.64L427.56 192.65L428.10 192.66L428.64 192.67L429.17 192.67L429.71 192.68L430.25 192.68L430.78 192.69L431.32 192.69L431.86 192.69L432.39 192.69L432.39 192.70Z" fill="#71C8A0" fill-opacity="0.5" stroke="#111" stroke-width="0.7" stroke-linejoin="round"/>
<path d="M357.27 192.70L357.27 192.68L357.81 192.67L358.34 192.67L358.88 192.66L359.42 192.65L359.95 192.64L360.49 192.62L361.03 192.60L361.56 192.58L362.10 192.56L362.64 192.53L363.17 192.49L363.71 192.45L364.25 192.40L364.78 192.34L365.32 192.27L365.86 192.19L366.39 192.10L366.93 191.99L367.46 191.86L368.00 191.72L368.54 191.55L369.07 191.37L369.61 191.15L370.15 190.91L370.68 190.63L371.22 190.32L371.76 189.97L372.29 189.58L372.83 189.14L373.37 188.66L373.90 188.12L374.44 187.53L374.98 186.88L375.51 186.17L376.05 185.40L376.59 184.56L377.12 183.65L377.66 182.67L378.20 181.63L378.73 180.51L379.27 179.32L379.81 178.06L380.34 176.74L380.88 175.34L381.42 173.89L381.95 172.38L382.49 170.81L383.03 169.20L383.56 167.55L384.10 165.87L384.64 164.17L385.17 162.45L385.71 160.73L386.25 159.02L386.78 157.33L387.32 155.67L387.86 154.05L388.39 152.49L388.93 151.00L389.47 149.58L390.00 148.26L390.54 147.05L391.08 145.95L391.61 144.97L392.15 144.12L392.69 143.42L393.22 142.86L393.76 142.45L394.30 142.20L394.83 142.10L395.37 142.16L395.90 142.37L396.44 142.71L396.98 143.19L397.51 143.81L398.05 144.56L398.59 145.43L399.12 146.42L399.66 147.52L400.20 148.71L400.73 150.00L401.27 151.37L401.81 152.81L402.34 154.30L402.88 155.85L403.42 157.43L403.95 159.05L404.49 160.68L405.03 162.31L405.56 163.95L406.10 165.58L406.64 167.18L407.17 168.76L407.71 170.31L408.25 171.81L408.78 173.27L409.32 174.68L409.86 176.04L410.39 177.33L410.93 178.57L411.47 179.74L412.00 180.85L412.54 181.90L413.08 182.88L413.61 183.80L414.15 184.65L414.69 185.45L415.22 186.18L415.76 186.86L416.30 187.48L416.83 188.05L417.37 188.57L417.91 189.04L418.44 189.46L418.98 189.85L419.52 190.19L420.05 190.51L420.59 190.78L421.13 191.03L421.66 191.25L422.20 191.44L422.74 191.61L423.27 191.77L423.81 191.90L424.34 192.01L424.88 192.11L425.42 192.20L425.95 192.28L426.49 192.34L427.03 192.40L427.56 192.44L428.10 192.49L428.64 192.52L429.17 192.55L429.71 192.58L430.25 192.60L430.78 192.61L431.32 192.63L431.86 192.64L432.39 192.65L432.39 192.70Z" fill="#8517D1" fill-opacity="0.5" stroke="#111" stroke-width="0.7" stroke-linejoin="round"/>
<line x1="353.70" y1="137.30" x2="353.70" y2="195.00" stroke="#222" stroke-width="1.1"/>
<line x1="353.70" y1="195.00" x2="433.90" y2="195.00" stroke="#222" stroke-width="1.1"/>
<text transform="translate(349.70 195.22) scale(0.8850 1)" font-size="7.01" font-weight="normal" text-anchor="end" fill="#666">0.0</text>
<text transform="translate(349.70 182.22) scale(0.8850 1)" font-size="7.01" font-weight="normal" text-anchor="end" fill="#666">0.1</text>
<text transform="translate(349.70 169.22) scale(0.8850 1)" font-size="7.01" font-weight="normal" text-anchor="end" fill="#666">0.2</text>
<text transform="translate(349.70 156.22) scale(0.8850 1)" font-size="7.01" font-weight="normal" text-anchor="end" fill="#666">0.3</text>
<text transform="translate(349.70 143.22) scale(0.8850 1)" font-size="7.01" font-weight="normal" text-anchor="end" fill="#666">0.4</text>
<text transform="translate(353.92 203.02) scale(0.8850 1)" font-size="7.01" font-weight="normal" text-anchor="middle" fill="#666">-4</text>
<text transform="translate(373.06 203.02) scale(0.8850 1)" font-size="7.01" font-weight="normal" text-anchor="middle" fill="#666">-2</text>
<text transform="translate(392.20 203.02) scale(0.8850 1)" font-size="7.01" font-weight="normal" text-anchor="middle" fill="#666">0</text>
<text transform="translate(411.34 203.02) scale(0.8850 1)" font-size="7.01" font-weight="normal" text-anchor="middle" fill="#666">2</text>
<text transform="translate(430.48 203.02) scale(0.8850 1)" font-size="7.01" font-weight="normal" text-anchor="middle" fill="#666">4</text>
<text x="283.00" y="234.49" font-size="5.8" font-weight="bold" text-anchor="middle" fill="#1a1a1a">Depression</text>
<text transform="translate(300.40 253.78) scale(0.8850 1)" font-size="6.33" font-weight="bold" text-anchor="start" fill="#000">p = 2.8E-162</text>
<path d="M245.51 299.00L245.51 298.66L246.04 298.61L246.58 298.54L247.11 298.46L247.64 298.38L248.17 298.28L248.70 298.16L249.23 298.04L249.76 297.89L250.29 297.73L250.83 297.54L251.36 297.34L251.89 297.10L252.42 296.85L252.95 296.56L253.48 296.24L254.01 295.89L254.54 295.50L255.07 295.07L255.61 294.60L256.14 294.09L256.67 293.53L257.20 292.92L257.73 292.27L258.26 291.56L258.79 290.79L259.32 289.97L259.86 289.10L260.39 288.16L260.92 287.17L261.45 286.12L261.98 285.01L262.51 283.85L263.04 282.62L263.57 281.35L264.11 280.02L264.64 278.64L265.17 277.21L265.70 275.75L266.23 274.25L266.76 272.72L267.29 271.16L267.82 269.59L268.35 268.00L268.89 266.41L269.42 264.82L269.95 263.25L270.48 261.70L271.01 260.18L271.54 258.69L272.07 257.26L272.60 255.88L273.14 254.57L273.67 253.34L274.20 252.18L274.73 251.12L275.26 250.16L275.79 249.30L276.32 248.55L276.85 247.92L277.38 247.41L277.92 247.03L278.45 246.78L278.98 246.65L279.51 246.66L280.04 246.80L280.57 247.06L281.10 247.46L281.63 247.98L282.17 248.62L282.70 249.38L283.23 250.25L283.76 251.23L284.29 252.30L284.82 253.46L285.35 254.71L285.88 256.03L286.42 257.41L286.95 258.85L287.48 260.34L288.01 261.86L288.54 263.42L289.07 264.99L289.60 266.58L290.13 268.17L290.66 269.75L291.20 271.33L291.73 272.88L292.26 274.41L292.79 275.91L293.32 277.37L293.85 278.79L294.38 280.16L294.91 281.48L295.45 282.75L295.98 283.97L296.51 285.13L297.04 286.23L297.57 287.28L298.10 288.27L298.63 289.19L299.16 290.06L299.69 290.88L300.23 291.63L300.76 292.34L301.29 292.99L301.82 293.59L302.35 294.14L302.88 294.65L303.41 295.12L303.94 295.54L304.48 295.93L305.01 296.27L305.54 296.59L306.07 296.87L306.60 297.13L307.13 297.36L307.66 297.56L308.19 297.75L308.73 297.91L309.26 298.05L309.79 298.18L310.32 298.29L310.85 298.39L311.38 298.47L311.91 298.55L312.44 298.61L312.97 298.67L313.51 298.72L314.04 298.76L314.57 298.80L315.10 298.83L315.63 298.86L316.16 298.88L316.69 298.90L317.22 298.91L317.76 298.93L318.29 298.94L318.82 298.95L319.35 298.96L319.88 298.97L319.88 299.00Z" fill="#F39161" fill-opacity="0.5" stroke="#111" stroke-width="0.7" stroke-linejoin="round"/>
<path d="M245.51 299.00L245.51 298.61L246.04 298.54L246.58 298.47L247.11 298.38L247.64 298.28L248.17 298.17L248.70 298.05L249.23 297.90L249.76 297.74L250.29 297.56L250.83 297.36L251.36 297.13L251.89 296.88L252.42 296.60L252.95 296.29L253.48 295.95L254.01 295.57L254.54 295.16L255.07 294.70L255.61 294.21L256.14 293.67L256.67 293.08L257.20 292.44L257.73 291.76L258.26 291.02L258.79 290.23L259.32 289.38L259.86 288.48L260.39 287.52L260.92 286.50L261.45 285.43L261.98 284.30L262.51 283.12L263.04 281.88L263.57 280.59L264.11 279.26L264.64 277.87L265.17 276.45L265.70 274.99L266.23 273.50L266.76 271.98L267.29 270.45L267.82 268.90L268.35 267.34L268.89 265.78L269.42 264.24L269.95 262.71L270.48 261.20L271.01 259.73L271.54 258.31L272.07 256.93L272.60 255.62L273.14 254.37L273.67 253.20L274.20 252.12L274.73 251.12L275.26 250.23L275.79 249.44L276.32 248.76L276.85 248.20L277.38 247.76L277.92 247.44L278.45 247.25L278.98 247.18L279.51 247.24L280.04 247.42L280.57 247.74L281.10 248.17L281.63 248.73L282.17 249.40L282.70 250.18L283.23 251.07L283.76 252.05L284.29 253.13L284.82 254.30L285.35 255.54L285.88 256.85L286.42 258.22L286.95 259.64L287.48 261.11L288.01 262.61L288.54 264.14L289.07 265.69L289.60 267.24L290.13 268.80L290.66 270.35L291.20 271.89L291.73 273.41L292.26 274.90L292.79 276.36L293.32 277.79L293.85 279.17L294.38 280.51L294.91 281.80L295.45 283.04L295.98 284.23L296.51 285.36L297.04 286.44L297.57 287.46L298.10 288.42L298.63 289.33L299.16 290.18L299.69 290.97L300.23 291.71L300.76 292.40L301.29 293.04L301.82 293.63L302.35 294.18L302.88 294.67L303.41 295.13L303.94 295.55L304.48 295.93L305.01 296.27L305.54 296.59L306.07 296.87L306.60 297.12L307.13 297.35L307.66 297.55L308.19 297.73L308.73 297.89L309.26 298.04L309.79 298.16L310.32 298.28L310.85 298.37L311.38 298.46L311.91 298.54L312.44 298.60L312.97 298.66L313.51 298.71L314.04 298.75L314.57 298.79L315.10 298.82L315.63 298.85L316.16 298.87L316.69 298.89L317.22 298.91L317.76 298.93L318.29 298.94L318.82 298.95L319.35 298.96L319.88 298.96L319.88 299.00Z" fill="#71C8A0" fill-opacity="0.5" stroke="#111" stroke-width="0.7" stroke-linejoin="round"/>
<path d="M245.51 299.00L245.51 298.98L246.04 298.98L246.58 298.98L247.11 298.97L247.64 298.96L248.17 298.96L248.70 298.95L249.23 298.94L249.76 298.92L250.29 298.91L250.83 298.89L251.36 298.87L251.89 298.85L252.42 298.82L252.95 298.79L253.48 298.75L254.01 298.71L254.54 298.66L255.07 298.60L255.61 298.53L256.14 298.46L256.67 298.37L257.20 298.27L257.73 298.16L258.26 298.03L258.79 297.89L259.32 297.72L259.86 297.54L260.39 297.34L260.92 297.11L261.45 296.85L261.98 296.57L262.51 296.26L263.04 295.91L263.57 295.53L264.11 295.11L264.64 294.65L265.17 294.15L265.70 293.60L266.23 293.01L266.76 292.37L267.29 291.68L267.82 290.93L268.35 290.14L268.89 289.28L269.42 288.37L269.95 287.41L270.48 286.39L271.01 285.31L271.54 284.17L272.07 282.98L272.60 281.74L273.14 280.45L273.67 279.11L274.20 277.72L274.73 276.29L275.26 274.83L275.79 273.34L276.32 271.82L276.85 270.28L277.38 268.73L277.92 267.17L278.45 265.61L278.98 264.07L279.51 262.54L280.04 261.04L280.57 259.58L281.10 258.15L281.63 256.78L282.17 255.48L282.70 254.24L283.23 253.08L283.76 252.00L284.29 251.02L284.82 250.14L285.35 249.36L285.88 248.70L286.42 248.15L286.95 247.72L287.48 247.41L288.01 247.23L288.54 247.18L289.07 247.25L289.60 247.45L290.13 247.78L290.66 248.23L291.20 248.79L291.73 249.48L292.26 250.27L292.79 251.17L293.32 252.17L293.85 253.26L294.38 254.43L294.91 255.68L295.45 257.00L295.98 258.37L296.51 259.80L297.04 261.27L297.57 262.78L298.10 264.31L298.63 265.86L299.16 267.41L299.69 268.97L300.23 270.52L300.76 272.06L301.29 273.57L301.82 275.06L302.35 276.52L302.88 277.94L303.41 279.32L303.94 280.65L304.48 281.94L305.01 283.17L305.54 284.35L306.07 285.48L306.60 286.55L307.13 287.56L307.66 288.52L308.19 289.42L308.73 290.27L309.26 291.06L309.79 291.79L310.32 292.48L310.85 293.11L311.38 293.69L311.91 294.23L312.44 294.73L312.97 295.18L313.51 295.59L314.04 295.97L314.57 296.31L315.10 296.62L315.63 296.90L316.16 297.15L316.69 297.37L317.22 297.57L317.76 297.75L318.29 297.91L318.82 298.05L319.35 298.18L319.88 298.29L319.88 299.00Z" fill="#8517D1" fill-opacity="0.5" stroke="#111" stroke-width="0.7" stroke-linejoin="round"/>
<line x1="241.70" y1="243.50" x2="241.70" y2="301.70" stroke="#222" stroke-width="1.1"/>
<line x1="241.70" y1="301.70" x2="324.20" y2="301.70" stroke="#222" stroke-width="1.1"/>
<text transform="translate(237.70 301.52) scale(0.8850 1)" font-size="7.01" font-weight="normal" text-anchor="end" fill="#666">0.0</text>
<text transform="translate(237.70 288.92) scale(0.8850 1)" font-size="7.01" font-weight="normal" text-anchor="end" fill="#666">0.1</text>
<text transform="translate(237.70 276.32) scale(0.8850 1)" font-size="7.01" font-weight="normal" text-anchor="end" fill="#666">0.2</text>
<text transform="translate(237.70 263.72) scale(0.8850 1)" font-size="7.01" font-weight="normal" text-anchor="end" fill="#666">0.3</text>
<text transform="translate(237.70 251.12) scale(0.8850 1)" font-size="7.01" font-weight="normal" text-anchor="end" fill="#666">0.4</text>
<text transform="translate(258.00 309.72) scale(0.8850 1)" font-size="7.01" font-weight="normal" text-anchor="middle" fill="#666">-2</text>
<text transform="translate(280.10 309.72) scale(0.8850 1)" font-size="7.01" font-weight="normal" text-anchor="middle" fill="#666">0</text>
<text transform="translate(302.20 309.72) scale(0.8850 1)" font-size="7.01" font-weight="normal" text-anchor="middle" fill="#666">2</text>
<text x="394.90" y="234.49" font-size="5.8" font-weight="bold" text-anchor="middle" fill="#1a1a1a">Osteoporosis</text>
<text transform="translate(407.70 253.78) scale(0.8850 1)" font-size="6.33" font-weight="bold" text-anchor="start" fill="#000">p = 4.6E-157</text>
<path d="M358.29 299.00L358.29 298.96L358.82 298.95L359.35 298.94L359.89 298.92L360.42 298.90L360.95 298.87L361.48 298.84L362.02 298.80L362.55 298.75L363.08 298.70L363.62 298.63L364.15 298.54L364.68 298.44L365.22 298.32L365.75 298.17L366.28 298.01L366.82 297.81L367.35 297.57L367.88 297.30L368.42 296.99L368.95 296.63L369.48 296.22L370.01 295.75L370.55 295.21L371.08 294.61L371.61 293.94L372.15 293.18L372.68 292.34L373.21 291.42L373.75 290.40L374.28 289.29L374.81 288.08L375.35 286.77L375.88 285.37L376.41 283.87L376.95 282.28L377.48 280.60L378.01 278.84L378.54 277.01L379.08 275.11L379.61 273.17L380.14 271.18L380.68 269.17L381.21 267.16L381.74 265.16L382.28 263.18L382.81 261.25L383.34 259.40L383.88 257.63L384.41 255.97L384.94 254.43L385.48 253.04L386.01 251.81L386.54 250.76L387.07 249.89L387.61 249.23L388.14 248.77L388.67 248.53L389.21 248.51L389.74 248.72L390.27 249.15L390.81 249.80L391.34 250.66L391.87 251.71L392.41 252.96L392.94 254.37L393.47 255.93L394.01 257.63L394.54 259.44L395.07 261.34L395.60 263.31L396.14 265.33L396.67 267.38L397.20 269.44L397.74 271.49L398.27 273.51L398.80 275.49L399.34 277.41L399.87 279.27L400.40 281.04L400.94 282.74L401.47 284.33L402.00 285.83L402.54 287.23L403.07 288.53L403.60 289.73L404.13 290.83L404.67 291.83L405.20 292.73L405.73 293.55L406.27 294.28L406.80 294.93L407.33 295.51L407.87 296.02L408.40 296.47L408.93 296.85L409.47 297.19L410.00 297.48L410.53 297.73L411.07 297.95L411.60 298.13L412.13 298.28L412.66 298.41L413.20 298.52L413.73 298.61L414.26 298.68L414.80 298.75L415.33 298.80L415.86 298.84L416.40 298.87L416.93 298.90L417.46 298.92L418.00 298.94L418.53 298.95L419.06 298.96L419.60 298.97L420.13 298.98L420.66 298.98L421.19 298.99L421.73 298.99L422.26 298.99L422.79 298.99L423.33 299.00L423.86 299.00L424.39 299.00L424.93 299.00L425.46 299.00L425.99 299.00L426.53 299.00L427.06 299.00L427.59 299.00L428.13 299.00L428.66 299.00L429.19 299.00L429.72 299.00L430.26 299.00L430.79 299.00L431.32 299.00L431.86 299.00L432.39 299.00L432.92 299.00L432.92 299.00Z" fill="#F39161" fill-opacity="0.5" stroke="#111" stroke-width="0.7" stroke-linejoin="round"/>
<path d="M358.29 299.00L358.29 299.00L358.82 299.00L359.35 298.99L359.89 298.99L360.42 298.99L360.95 298.99L361.48 298.98L362.02 298.97L362.55 298.96L363.08 298.95L363.62 298.94L364.15 298.92L364.68 298.89L365.22 298.86L365.75 298.81L366.28 298.76L366.82 298.69L367.35 298.61L367.88 298.50L368.42 298.38L368.95 298.22L369.48 298.03L370.01 297.80L370.55 297.52L371.08 297.19L371.61 296.80L372.15 296.35L372.68 295.81L373.21 295.19L373.75 294.48L374.28 293.66L374.81 292.73L375.35 291.69L375.88 290.51L376.41 289.21L376.95 287.77L377.48 286.20L378.01 284.49L378.54 282.65L379.08 280.68L379.61 278.59L380.14 276.40L380.68 274.11L381.21 271.75L381.74 269.34L382.28 266.91L382.81 264.48L383.34 262.07L383.88 259.73L384.41 257.48L384.94 255.36L385.48 253.40L386.01 251.62L386.54 250.06L387.07 248.74L387.61 247.68L388.14 246.91L388.67 246.43L389.21 246.25L389.74 246.34L390.27 246.64L390.81 247.16L391.34 247.87L391.87 248.78L392.41 249.88L392.94 251.15L393.47 252.57L394.01 254.13L394.54 255.82L395.07 257.61L395.60 259.49L396.14 261.43L396.67 263.43L397.20 265.46L397.74 267.50L398.27 269.53L398.80 271.55L399.34 273.53L399.87 275.46L400.40 277.34L400.94 279.15L401.47 280.88L402.00 282.52L402.54 284.08L403.07 285.55L403.60 286.92L404.13 288.19L404.67 289.37L405.20 290.46L405.73 291.45L406.27 292.36L406.80 293.18L407.33 293.92L407.87 294.58L408.40 295.17L408.93 295.70L409.47 296.17L410.00 296.58L410.53 296.94L411.07 297.25L411.60 297.52L412.13 297.75L412.66 297.96L413.20 298.13L413.73 298.28L414.26 298.40L414.80 298.51L415.33 298.59L415.86 298.67L416.40 298.73L416.93 298.78L417.46 298.82L418.00 298.86L418.53 298.89L419.06 298.91L419.60 298.93L420.13 298.94L420.66 298.95L421.19 298.96L421.73 298.97L422.26 298.98L422.79 298.98L423.33 298.99L423.86 298.99L424.39 298.99L424.93 298.99L425.46 299.00L425.99 299.00L426.53 299.00L427.06 299.00L427.59 299.00L428.13 299.00L428.66 299.00L429.19 299.00L429.72 299.00L430.26 299.00L430.79 299.00L431.32 299.00L431.86 299.00L432.39 299.00L432.92 299.00L432.92 299.00Z" fill="#71C8A0" fill-opacity="0.5" stroke="#111" stroke-width="0.7" stroke-linejoin="round"/>
<path d="M358.29 299.00L358.29 299.00L358.82 299.00L359.35 299.00L359.89 299.00L360.42 299.00L360.95 298.99L361.48 298.99L362.02 298.99L362.55 298.99L363.08 298.99L363.62 298.98L364.15 298.98L364.68 298.97L365.22 298.96L365.75 298.95L366.28 298.94L366.82 298.93L367.35 298.91L367.88 298.89L368.42 298.86L368.95 298.83L369.48 298.79L370.01 298.75L370.55 298.70L371.08 298.63L371.61 298.55L372.15 298.46L372.68 298.36L373.21 298.23L373.75 298.09L374.28 297.92L374.81 297.73L375.35 297.51L375.88 297.25L376.41 296.96L376.95 296.63L377.48 296.25L378.01 295.83L378.54 295.36L379.08 294.83L379.61 294.24L380.14 293.59L380.68 292.88L381.21 292.10L381.74 291.24L382.28 290.32L382.81 289.31L383.34 288.24L383.88 287.09L384.41 285.86L384.94 284.57L385.48 283.20L386.01 281.77L386.54 280.29L387.07 278.75L387.61 277.16L388.14 275.54L388.67 273.90L389.21 272.23L389.74 270.57L390.27 268.92L390.81 267.29L391.34 265.69L391.87 264.15L392.41 262.67L392.94 261.27L393.47 259.97L394.01 258.77L394.54 257.69L395.07 256.74L395.60 255.93L396.14 255.27L396.67 254.76L397.20 254.42L397.74 254.24L398.27 254.23L398.80 254.36L399.34 254.64L399.87 255.06L400.40 255.62L400.94 256.30L401.47 257.11L402.00 258.04L402.54 259.08L403.07 260.21L403.60 261.44L404.13 262.74L404.67 264.11L405.20 265.54L405.73 267.01L406.27 268.52L406.80 270.05L407.33 271.59L407.87 273.13L408.40 274.67L408.93 276.18L409.47 277.67L410.00 279.13L410.53 280.55L411.07 281.92L411.60 283.24L412.13 284.51L412.66 285.72L413.20 286.86L413.73 287.94L414.26 288.96L414.80 289.92L415.33 290.81L415.86 291.63L416.40 292.40L416.93 293.10L417.46 293.75L418.00 294.34L418.53 294.88L419.06 295.36L419.60 295.80L420.13 296.20L420.66 296.55L421.19 296.87L421.73 297.15L422.26 297.40L422.79 297.62L423.33 297.82L423.86 297.99L424.39 298.13L424.93 298.26L425.46 298.37L425.99 298.47L426.53 298.55L427.06 298.63L427.59 298.69L428.13 298.74L428.66 298.78L429.19 298.82L429.72 298.85L430.26 298.88L430.79 298.90L431.32 298.92L431.86 298.93L432.39 298.95L432.92 298.96L432.92 299.00Z" fill="#8517D1" fill-opacity="0.5" stroke="#111" stroke-width="0.7" stroke-linejoin="round"/>
<line x1="353.00" y1="243.50" x2="353.00" y2="301.70" stroke="#222" stroke-width="1.1"/>
<line x1="353.00" y1="301.70" x2="435.50" y2="301.70" stroke="#222" stroke-width="1.1"/>
<text transform="translate(349.00 301.52) scale(0.8850 1)" font-size="7.01" font-weight="normal" text-anchor="end" fill="#666">0.0</text>
<text transform="translate(349.00 289.62) scale(0.8850 1)" font-size="7.01" font-weight="normal" text-anchor="end" fill="#666">0.1</text>
<text transform="translate(349.00 277.72) scale(0.8850 1)" font-size="7.01" font-weight="normal" text-anchor="end" fill="#666">0.2</text>
<text transform="translate(349.00 265.82) scale(0.8850 1)" font-size="7.01" font-weight="normal" text-anchor="end" fill="#666">0.3</text>
<text transform="translate(349.00 253.92) scale(0.8850 1)" font-size="7.01" font-weight="normal" text-anchor="end" fill="#666">0.4</text>
<text transform="translate(369.38 309.72) scale(0.8850 1)" font-size="7.01" font-weight="normal" text-anchor="middle" fill="#666">-2.5</text>
<text transform="translate(390.70 309.72) scale(0.8850 1)" font-size="7.01" font-weight="normal" text-anchor="middle" fill="#666">0.0</text>
<text transform="translate(412.02 309.72) scale(0.8850 1)" font-size="7.01" font-weight="normal" text-anchor="middle" fill="#666">2.5</text>
<text transform="translate(433.35 309.72) scale(0.8850 1)" font-size="7.01" font-weight="normal" text-anchor="middle" fill="#666">5.0</text>
<text transform="translate(339.00 317.64) scale(0.8850 1)" font-size="6.78" font-weight="bold" text-anchor="middle" fill="#000">Polygenic Risk Scores Distribution</text>
<text transform="translate(256.70 336.55) scale(0.8850 1)" font-size="9.04" font-weight="bold" text-anchor="start" fill="#000">Ethnicity</text>
<rect x="294.5" y="327.2" width="13.100000000000023" height="12.4" fill="#F9C8B0" stroke="#333" stroke-width="0.7"/>
<text transform="translate(312.20 336.02) scale(0.8850 1)" font-size="7.29" font-weight="normal" text-anchor="start" fill="#333">Chinese</text>
<rect x="340.4" y="327.2" width="13.200000000000045" height="12.4" fill="#B8E3D0" stroke="#333" stroke-width="0.7"/>
<text transform="translate(357.90 336.02) scale(0.8850 1)" font-size="7.29" font-weight="normal" text-anchor="start" fill="#333">Malay</text>
<rect x="379.4" y="327.2" width="13.200000000000045" height="12.4" fill="#C293EE" stroke="#333" stroke-width="0.7"/>
<text transform="translate(397.20 336.02) scale(0.8850 1)" font-size="7.29" font-weight="normal" text-anchor="start" fill="#333">Indian</text>
<text x="453.40" y="12.58" font-size="15.5" font-weight="bold" text-anchor="start" fill="#000">d</text>
<text transform="translate(565.50 18.45) scale(0.8850 1)" font-size="8.47" font-weight="bold" text-anchor="middle" fill="#000">Disease Status ~ PRS + Age + Sex</text>
<text transform="translate(480.10 30.12) scale(0.8850 1)" font-size="7.01" font-weight="bold" text-anchor="end" fill="#1a1a1a">Case</text>
<text transform="translate(509.40 30.12) scale(0.8850 1)" font-size="7.01" font-weight="bold" text-anchor="end" fill="#1a1a1a">Control</text>
<text transform="translate(539.30 30.12) scale(0.8850 1)" font-size="7.01" font-weight="bold" text-anchor="end" fill="#1a1a1a">P-value</text>
<text transform="translate(559.20 30.12) scale(0.8850 1)" font-size="7.01" font-weight="bold" text-anchor="end" fill="#1a1a1a">I^2</text>
<text transform="translate(582.20 30.12) scale(0.8850 1)" font-size="7.01" font-weight="bold" text-anchor="end" fill="#1a1a1a">Het-p</text>
<text transform="translate(452.20 38.34) scale(0.8850 1)" font-size="6.21" font-weight="bold" text-anchor="start" fill="#000">Hypertension</text>
<text transform="translate(452.50 46.68) scale(0.8850 1)" font-size="6.89" font-weight="normal" text-anchor="start" fill="#333">C</text>
<text transform="translate(480.10 46.72) scale(0.8850 1)" font-size="7.01" font-weight="normal" text-anchor="end" fill="#333">996</text>
<text transform="translate(509.40 46.72) scale(0.8850 1)" font-size="7.01" font-weight="normal" text-anchor="end" fill="#333">4946</text>
<text transform="translate(539.30 46.72) scale(0.8850 1)" font-size="7.01" font-weight="normal" text-anchor="end" fill="#333">1.9E-38</text>
<text transform="translate(452.50 54.98) scale(0.8850 1)" font-size="6.89" font-weight="normal" text-anchor="start" fill="#333">M</text>
<text transform="translate(480.10 55.02) scale(0.8850 1)" font-size="7.01" font-weight="normal" text-anchor="end" fill="#333">157</text>
<text transform="translate(509.40 55.02) scale(0.8850 1)" font-size="7.01" font-weight="normal" text-anchor="end" fill="#333">676</text>
<text transform="translate(539.30 55.02) scale(0.8850 1)" font-size="7.01" font-weight="normal" text-anchor="end" fill="#333">5.2E-04</text>
<text transform="translate(452.50 63.18) scale(0.8850 1)" font-size="6.89" font-weight="normal" text-anchor="start" fill="#333">I</text>
<text transform="translate(480.10 63.22) scale(0.8850 1)" font-size="7.01" font-weight="normal" text-anchor="end" fill="#333">342</text>
<text transform="translate(509.40 63.22) scale(0.8850 1)" font-size="7.01" font-weight="normal" text-anchor="end" fill="#333">1120</text>
<text transform="translate(539.30 63.22) scale(0.8850 1)" font-size="7.01" font-weight="normal" text-anchor="end" fill="#333">1.8E-11</text>
<text transform="translate(452.50 71.48) scale(0.8850 1)" font-size="6.89" font-weight="normal" text-anchor="start" fill="#333">T</text>
<text transform="translate(480.10 71.52) scale(0.8850 1)" font-size="7.01" font-weight="normal" text-anchor="end" fill="#333">1495</text>
<text transform="translate(509.40 71.52) scale(0.8850 1)" font-size="7.01" font-weight="normal" text-anchor="end" fill="#333">6742</text>
<text transform="translate(539.30 71.52) scale(0.8850 1)" font-size="7.01" font-weight="normal" text-anchor="end" fill="#333">9.8E-33</text>
<text transform="translate(558.60 71.52) scale(0.8850 1)" font-size="7.01" font-weight="normal" text-anchor="end" fill="#333">23.1</text>
<text transform="translate(582.20 71.52) scale(0.8850 1)" font-size="7.01" font-weight="normal" text-anchor="end" fill="#333">0.27</text>
<text transform="translate(452.20 86.84) scale(0.8850 1)" font-size="6.21" font-weight="bold" text-anchor="start" fill="#000">Obesity</text>
<text transform="translate(452.50 96.78) scale(0.8850 1)" font-size="6.89" font-weight="normal" text-anchor="start" fill="#333">C</text>
<text transform="translate(480.10 96.82) scale(0.8850 1)" font-size="7.01" font-weight="normal" text-anchor="end" fill="#333">359</text>
<text transform="translate(509.40 96.82) scale(0.8850 1)" font-size="7.01" font-weight="normal" text-anchor="end" fill="#333">5602</text>
<text transform="translate(539.30 96.82) scale(0.8850 1)" font-size="7.01" font-weight="normal" text-anchor="end" fill="#333">4.7E-09</text>
<text transform="translate(452.50 105.08) scale(0.8850 1)" font-size="6.89" font-weight="normal" text-anchor="start" fill="#333">M</text>
<text transform="translate(480.10 105.12) scale(0.8850 1)" font-size="7.01" font-weight="normal" text-anchor="end" fill="#333">276</text>
<text transform="translate(509.40 105.12) scale(0.8850 1)" font-size="7.01" font-weight="normal" text-anchor="end" fill="#333">562</text>
<text transform="translate(539.30 105.12) scale(0.8850 1)" font-size="7.01" font-weight="normal" text-anchor="end" fill="#333">0.037</text>
<text transform="translate(452.50 112.88) scale(0.8850 1)" font-size="6.89" font-weight="normal" text-anchor="start" fill="#333">I</text>
<text transform="translate(480.10 112.92) scale(0.8850 1)" font-size="7.01" font-weight="normal" text-anchor="end" fill="#333">344</text>
<text transform="translate(509.40 112.92) scale(0.8850 1)" font-size="7.01" font-weight="normal" text-anchor="end" fill="#333">1126</text>
<text transform="translate(539.30 112.92) scale(0.8850 1)" font-size="7.01" font-weight="normal" text-anchor="end" fill="#333">1.2E-05</text>
<text transform="translate(452.50 121.18) scale(0.8850 1)" font-size="6.89" font-weight="normal" text-anchor="start" fill="#333">T</text>
<text transform="translate(480.10 121.22) scale(0.8850 1)" font-size="7.01" font-weight="normal" text-anchor="end" fill="#333">979</text>
<text transform="translate(509.40 121.22) scale(0.8850 1)" font-size="7.01" font-weight="normal" text-anchor="end" fill="#333">7290</text>
<text transform="translate(539.30 121.22) scale(0.8850 1)" font-size="7.01" font-weight="normal" text-anchor="end" fill="#333">2.1E-07</text>
<text transform="translate(558.60 121.22) scale(0.8850 1)" font-size="7.01" font-weight="normal" text-anchor="end" fill="#333">46.9</text>
<text transform="translate(582.20 121.22) scale(0.8850 1)" font-size="7.01" font-weight="normal" text-anchor="end" fill="#333">0.15</text>
<text transform="translate(452.20 136.24) scale(0.8850 1)" font-size="6.21" font-weight="bold" text-anchor="start" fill="#000">Type 2 Diabetes</text>
<text transform="translate(452.50 146.78) scale(0.8850 1)" font-size="6.89" font-weight="normal" text-anchor="start" fill="#333">C</text>
<text transform="translate(480.10 146.82) scale(0.8850 1)" font-size="7.01" font-weight="normal" text-anchor="end" fill="#333">304</text>
<text transform="translate(509.40 146.82) scale(0.8850 1)" font-size="7.01" font-weight="normal" text-anchor="end" fill="#333">5641</text>
<text transform="translate(539.30 146.82) scale(0.8850 1)" font-size="7.01" font-weight="normal" text-anchor="end" fill="#333">2.2E-32</text>
<text transform="translate(452.50 155.08) scale(0.8850 1)" font-size="6.89" font-weight="normal" text-anchor="start" fill="#333">M</text>
<text transform="translate(480.10 155.12) scale(0.8850 1)" font-size="7.01" font-weight="normal" text-anchor="end" fill="#333">112</text>
<text transform="translate(509.40 155.12) scale(0.8850 1)" font-size="7.01" font-weight="normal" text-anchor="end" fill="#333">722</text>
<text transform="translate(539.30 155.12) scale(0.8850 1)" font-size="7.01" font-weight="normal" text-anchor="end" fill="#333">1.3E-06</text>
<text transform="translate(452.50 163.28) scale(0.8850 1)" font-size="6.89" font-weight="normal" text-anchor="start" fill="#333">I</text>
<text transform="translate(480.10 163.32) scale(0.8850 1)" font-size="7.01" font-weight="normal" text-anchor="end" fill="#333">263</text>
<text transform="translate(509.40 163.32) scale(0.8850 1)" font-size="7.01" font-weight="normal" text-anchor="end" fill="#333">1202</text>
<text transform="translate(539.30 163.32) scale(0.8850 1)" font-size="7.01" font-weight="normal" text-anchor="end" fill="#333">3.9E-20</text>
<text transform="translate(452.50 171.48) scale(0.8850 1)" font-size="6.89" font-weight="normal" text-anchor="start" fill="#333">T</text>
<text transform="translate(480.10 171.52) scale(0.8850 1)" font-size="7.01" font-weight="normal" text-anchor="end" fill="#333">679</text>
<text transform="translate(509.40 171.52) scale(0.8850 1)" font-size="7.01" font-weight="normal" text-anchor="end" fill="#333">7565</text>
<text transform="translate(539.30 171.52) scale(0.8850 1)" font-size="7.01" font-weight="normal" text-anchor="end" fill="#333">1.6E-26</text>
<text transform="translate(558.60 171.52) scale(0.8850 1)" font-size="7.01" font-weight="normal" text-anchor="end" fill="#333">48.3</text>
<text transform="translate(582.20 171.52) scale(0.8850 1)" font-size="7.01" font-weight="normal" text-anchor="end" fill="#333">0.14</text>
<text transform="translate(452.20 186.44) scale(0.8850 1)" font-size="6.21" font-weight="bold" text-anchor="start" fill="#000">Coronary Artery Disease</text>
<text transform="translate(452.50 196.78) scale(0.8850 1)" font-size="6.89" font-weight="normal" text-anchor="start" fill="#333">C</text>
<text transform="translate(480.10 196.82) scale(0.8850 1)" font-size="7.01" font-weight="normal" text-anchor="end" fill="#333">361</text>
<text transform="translate(509.40 196.82) scale(0.8850 1)" font-size="7.01" font-weight="normal" text-anchor="end" fill="#333">5597</text>
<text transform="translate(539.30 196.82) scale(0.8850 1)" font-size="7.01" font-weight="normal" text-anchor="end" fill="#333">7E-05</text>
<text transform="translate(452.50 204.78) scale(0.8850 1)" font-size="6.89" font-weight="normal" text-anchor="start" fill="#333">M</text>
<text transform="translate(480.10 204.82) scale(0.8850 1)" font-size="7.01" font-weight="normal" text-anchor="end" fill="#333">33</text>
<text transform="translate(509.40 204.82) scale(0.8850 1)" font-size="7.01" font-weight="normal" text-anchor="end" fill="#333">802</text>
<text transform="translate(539.30 204.82) scale(0.8850 1)" font-size="7.01" font-weight="normal" text-anchor="end" fill="#333">0.230</text>
<text transform="translate(452.50 212.98) scale(0.8850 1)" font-size="6.89" font-weight="normal" text-anchor="start" fill="#333">I</text>
<text transform="translate(480.10 213.02) scale(0.8850 1)" font-size="7.01" font-weight="normal" text-anchor="end" fill="#333">98</text>
<text transform="translate(509.40 213.02) scale(0.8850 1)" font-size="7.01" font-weight="normal" text-anchor="end" fill="#333">1370</text>
<text transform="translate(539.30 213.02) scale(0.8850 1)" font-size="7.01" font-weight="normal" text-anchor="end" fill="#333">1.8E-04</text>
<text transform="translate(452.50 221.28) scale(0.8850 1)" font-size="6.89" font-weight="normal" text-anchor="start" fill="#333">T</text>
<text transform="translate(480.10 221.32) scale(0.8850 1)" font-size="7.01" font-weight="normal" text-anchor="end" fill="#333">493</text>
<text transform="translate(509.40 221.32) scale(0.8850 1)" font-size="7.01" font-weight="normal" text-anchor="end" fill="#333">7769</text>
<text transform="translate(539.30 221.32) scale(0.8850 1)" font-size="7.01" font-weight="normal" text-anchor="end" fill="#333">3E-06</text>
<text transform="translate(558.60 221.32) scale(0.8850 1)" font-size="7.01" font-weight="normal" text-anchor="end" fill="#333">0</text>
<text transform="translate(582.20 221.32) scale(0.8850 1)" font-size="7.01" font-weight="normal" text-anchor="end" fill="#333">0.40</text>
<text transform="translate(452.20 236.44) scale(0.8850 1)" font-size="6.21" font-weight="bold" text-anchor="start" fill="#000">Depression</text>
<text transform="translate(452.50 246.68) scale(0.8850 1)" font-size="6.89" font-weight="normal" text-anchor="start" fill="#333">C</text>
<text transform="translate(480.10 246.72) scale(0.8850 1)" font-size="7.01" font-weight="normal" text-anchor="end" fill="#333">307</text>
<text transform="translate(509.40 246.72) scale(0.8850 1)" font-size="7.01" font-weight="normal" text-anchor="end" fill="#333">5651</text>
<text transform="translate(539.30 246.72) scale(0.8850 1)" font-size="7.01" font-weight="normal" text-anchor="end" fill="#333">0.014</text>
<text transform="translate(452.50 254.88) scale(0.8850 1)" font-size="6.89" font-weight="normal" text-anchor="start" fill="#333">M</text>
<text transform="translate(480.10 254.92) scale(0.8850 1)" font-size="7.01" font-weight="normal" text-anchor="end" fill="#333">99</text>
<text transform="translate(509.40 254.92) scale(0.8850 1)" font-size="7.01" font-weight="normal" text-anchor="end" fill="#333">736</text>
<text transform="translate(539.30 254.92) scale(0.8850 1)" font-size="7.01" font-weight="normal" text-anchor="end" fill="#333">0.885</text>
<text transform="translate(452.50 263.08) scale(0.8850 1)" font-size="6.89" font-weight="normal" text-anchor="start" fill="#333">I</text>
<text transform="translate(480.10 263.12) scale(0.8850 1)" font-size="7.01" font-weight="normal" text-anchor="end" fill="#333">260</text>
<text transform="translate(509.40 263.12) scale(0.8850 1)" font-size="7.01" font-weight="normal" text-anchor="end" fill="#333">1308</text>
<text transform="translate(539.30 263.12) scale(0.8850 1)" font-size="7.01" font-weight="normal" text-anchor="end" fill="#333">0.544</text>
<text transform="translate(452.50 271.38) scale(0.8850 1)" font-size="6.89" font-weight="normal" text-anchor="start" fill="#333">T</text>
<text transform="translate(480.10 271.42) scale(0.8850 1)" font-size="7.01" font-weight="normal" text-anchor="end" fill="#333">868</text>
<text transform="translate(509.40 271.42) scale(0.8850 1)" font-size="7.01" font-weight="normal" text-anchor="end" fill="#333">7695</text>
<text transform="translate(539.30 271.42) scale(0.8850 1)" font-size="7.01" font-weight="normal" text-anchor="end" fill="#333">0.029</text>
<text transform="translate(558.60 271.42) scale(0.8850 1)" font-size="7.01" font-weight="normal" text-anchor="end" fill="#333">0</text>
<text transform="translate(582.20 271.42) scale(0.8850 1)" font-size="7.01" font-weight="normal" text-anchor="end" fill="#333">0.43</text>
<text transform="translate(452.20 289.04) scale(0.8850 1)" font-size="6.21" font-weight="bold" text-anchor="start" fill="#000">Osteoporosis</text>
<text transform="translate(452.50 296.78) scale(0.8850 1)" font-size="6.89" font-weight="normal" text-anchor="start" fill="#333">C</text>
<text transform="translate(480.10 296.82) scale(0.8850 1)" font-size="7.01" font-weight="normal" text-anchor="end" fill="#333">430</text>
<text transform="translate(509.40 296.82) scale(0.8850 1)" font-size="7.01" font-weight="normal" text-anchor="end" fill="#333">5528</text>
<text transform="translate(539.30 296.82) scale(0.8850 1)" font-size="7.01" font-weight="normal" text-anchor="end" fill="#333">7.7E-05</text>
<text transform="translate(452.50 304.98) scale(0.8850 1)" font-size="6.89" font-weight="normal" text-anchor="start" fill="#333">M</text>
<text transform="translate(480.10 305.02) scale(0.8850 1)" font-size="7.01" font-weight="normal" text-anchor="end" fill="#333">47</text>
<text transform="translate(509.40 305.02) scale(0.8850 1)" font-size="7.01" font-weight="normal" text-anchor="end" fill="#333">788</text>
<text transform="translate(539.30 305.02) scale(0.8850 1)" font-size="7.01" font-weight="normal" text-anchor="end" fill="#333">0.154</text>
<text transform="translate(452.50 313.18) scale(0.8850 1)" font-size="6.89" font-weight="normal" text-anchor="start" fill="#333">I</text>
<text transform="translate(480.10 313.22) scale(0.8850 1)" font-size="7.01" font-weight="normal" text-anchor="end" fill="#333">77</text>
<text transform="translate(509.40 313.22) scale(0.8850 1)" font-size="7.01" font-weight="normal" text-anchor="end" fill="#333">1391</text>
<text transform="translate(539.30 313.22) scale(0.8850 1)" font-size="7.01" font-weight="normal" text-anchor="end" fill="#333">0.562</text>
<text transform="translate(452.50 321.48) scale(0.8850 1)" font-size="6.89" font-weight="normal" text-anchor="start" fill="#333">T</text>
<text transform="translate(480.10 321.52) scale(0.8850 1)" font-size="7.01" font-weight="normal" text-anchor="end" fill="#333">554</text>
<text transform="translate(509.40 321.52) scale(0.8850 1)" font-size="7.01" font-weight="normal" text-anchor="end" fill="#333">7707</text>
<text transform="translate(539.30 321.52) scale(0.8850 1)" font-size="7.01" font-weight="normal" text-anchor="end" fill="#333">3.3E-04</text>
<text transform="translate(558.60 321.52) scale(0.8850 1)" font-size="7.01" font-weight="normal" text-anchor="end" fill="#333">64.9</text>
<text transform="translate(582.20 321.52) scale(0.8850 1)" font-size="7.01" font-weight="normal" text-anchor="end" fill="#333">0.08</text>
<line x1="612.30" y1="39.50" x2="612.30" y2="323.50" stroke="#999" stroke-width="1.1"/>
<line x1="589.80" y1="323.50" x2="678.30" y2="323.50" stroke="#666" stroke-width="1.1"/>
<line x1="590.20" y1="323.50" x2="590.20" y2="326.50" stroke="#666" stroke-width="1.0"/>
<text transform="translate(590.20 337.68) scale(0.8850 1)" font-size="7.46" font-weight="normal" text-anchor="middle" fill="#333">0.5</text>
<line x1="612.30" y1="323.50" x2="612.30" y2="326.50" stroke="#666" stroke-width="1.0"/>
<text transform="translate(612.30 337.68) scale(0.8850 1)" font-size="7.46" font-weight="normal" text-anchor="middle" fill="#333">1</text>
<line x1="634.40" y1="323.50" x2="634.40" y2="326.50" stroke="#666" stroke-width="1.0"/>
<text transform="translate(634.40 337.68) scale(0.8850 1)" font-size="7.46" font-weight="normal" text-anchor="middle" fill="#333">1.5</text>
<line x1="656.50" y1="323.50" x2="656.50" y2="326.50" stroke="#666" stroke-width="1.0"/>
<text transform="translate(656.50 337.68) scale(0.8850 1)" font-size="7.46" font-weight="normal" text-anchor="middle" fill="#333">2</text>
<line x1="678.60" y1="323.50" x2="678.60" y2="326.50" stroke="#666" stroke-width="1.0"/>
<text transform="translate(678.60 337.68) scale(0.8850 1)" font-size="7.46" font-weight="normal" text-anchor="middle" fill="#333">2.5</text>
<text transform="translate(634.00 345.62) scale(0.8850 1)" font-size="7.01" font-weight="bold" text-anchor="middle" fill="#000">Odd's Ratio</text>
<line x1="637.60" y1="44.20" x2="648.90" y2="44.20" stroke="#FDD3C0" stroke-width="1.1"/>
<rect x="641.45" y="42.25" width="3.90" height="3.90" fill="#FA8A5C"/>
<line x1="619.30" y1="52.50" x2="646.40" y2="52.50" stroke="#96D6BE" stroke-width="1.1"/>
<rect x="629.50" y="50.70" width="3.60" height="3.60" fill="#5DBB98"/>
<line x1="629.60" y1="60.70" x2="649.60" y2="60.70" stroke="#AE66EA" stroke-width="1.1"/>
<rect x="636.90" y="58.70" width="4.00" height="4.00" fill="#8A22D6"/>
<line x1="634.30" y1="69.00" x2="646.90" y2="69.00" stroke="#a8a8a8" stroke-width="1.1"/>
<rect x="638.25" y="67.15" width="3.70" height="3.70" fill="#000000"/>
<line x1="623.30" y1="94.30" x2="637.60" y2="94.30" stroke="#FDD3C0" stroke-width="1.1"/>
<rect x="628.15" y="92.35" width="3.90" height="3.90" fill="#FA8A5C"/>
<line x1="612.00" y1="102.60" x2="627.60" y2="102.60" stroke="#96D6BE" stroke-width="1.1"/>
<rect x="617.50" y="100.80" width="3.60" height="3.60" fill="#5DBB98"/>
<line x1="618.80" y1="110.40" x2="632.60" y2="110.40" stroke="#AE66EA" stroke-width="1.1"/>
<rect x="623.60" y="108.40" width="4.00" height="4.00" fill="#8A22D6"/>
<line x1="619.60" y1="118.70" x2="631.80" y2="118.70" stroke="#a8a8a8" stroke-width="1.1"/>
<rect x="623.75" y="116.85" width="3.70" height="3.70" fill="#000000"/>
<line x1="652.10" y1="144.30" x2="677.00" y2="144.30" stroke="#FDD3C0" stroke-width="1.1"/>
<rect x="661.45" y="142.35" width="3.90" height="3.90" fill="#FA8A5C"/>
<line x1="628.10" y1="152.60" x2="660.90" y2="152.60" stroke="#96D6BE" stroke-width="1.1"/>
<rect x="640.80" y="150.80" width="3.60" height="3.60" fill="#5DBB98"/>
<line x1="643.10" y1="160.80" x2="668.90" y2="160.80" stroke="#AE66EA" stroke-width="1.1"/>
<rect x="652.60" y="158.80" width="4.00" height="4.00" fill="#8A22D6"/>
<line x1="645.10" y1="169.00" x2="667.20" y2="169.00" stroke="#a8a8a8" stroke-width="1.1"/>
<rect x="653.35" y="167.15" width="3.70" height="3.70" fill="#000000"/>
<line x1="617.00" y1="194.30" x2="630.10" y2="194.30" stroke="#FDD3C0" stroke-width="1.1"/>
<rect x="621.15" y="192.35" width="3.90" height="3.90" fill="#FA8A5C"/>
<line x1="606.30" y1="202.30" x2="648.10" y2="202.30" stroke="#96D6BE" stroke-width="1.1"/>
<rect x="621.30" y="200.50" width="3.60" height="3.60" fill="#5DBB98"/>
<line x1="621.30" y1="210.50" x2="648.10" y2="210.50" stroke="#AE66EA" stroke-width="1.1"/>
<rect x="631.10" y="208.50" width="4.00" height="4.00" fill="#8A22D6"/>
<line x1="619.60" y1="218.80" x2="632.60" y2="218.80" stroke="#a8a8a8" stroke-width="1.1"/>
<rect x="623.95" y="216.95" width="3.70" height="3.70" fill="#000000"/>
<line x1="616.30" y1="244.20" x2="626.30" y2="244.20" stroke="#FDD3C0" stroke-width="1.1"/>
<rect x="616.85" y="242.25" width="3.90" height="3.90" fill="#FA8A5C"/>
<line x1="603.80" y1="252.40" x2="623.80" y2="252.40" stroke="#96D6BE" stroke-width="1.1"/>
<rect x="610.20" y="250.60" width="3.60" height="3.60" fill="#5DBB98"/>
<line x1="607.00" y1="260.60" x2="622.60" y2="260.60" stroke="#AE66EA" stroke-width="1.1"/>
<rect x="611.80" y="258.60" width="4.00" height="4.00" fill="#8A22D6"/>
<line x1="613.00" y1="268.90" x2="621.30" y2="268.90" stroke="#a8a8a8" stroke-width="1.1"/>
<rect x="614.45" y="267.05" width="3.70" height="3.70" fill="#000000"/>
<line x1="617.60" y1="294.30" x2="630.10" y2="294.30" stroke="#FDD3C0" stroke-width="1.1"/>
<rect x="621.35" y="292.35" width="3.90" height="3.90" fill="#FA8A5C"/>
<line x1="607.90" y1="302.50" x2="652.00" y2="302.50" stroke="#96D6BE" stroke-width="1.1"/>
<rect x="626.20" y="300.70" width="3.60" height="3.60" fill="#5DBB98"/>
<line x1="601.00" y1="310.70" x2="619.70" y2="310.70" stroke="#AE66EA" stroke-width="1.1"/>
<rect x="607.00" y="308.70" width="4.00" height="4.00" fill="#8A22D6"/>
<line x1="615.30" y1="319.00" x2="626.00" y2="319.00" stroke="#a8a8a8" stroke-width="1.1"/>
<rect x="619.15" y="317.15" width="3.70" height="3.70" fill="#000000"/></svg>
</body></html>
